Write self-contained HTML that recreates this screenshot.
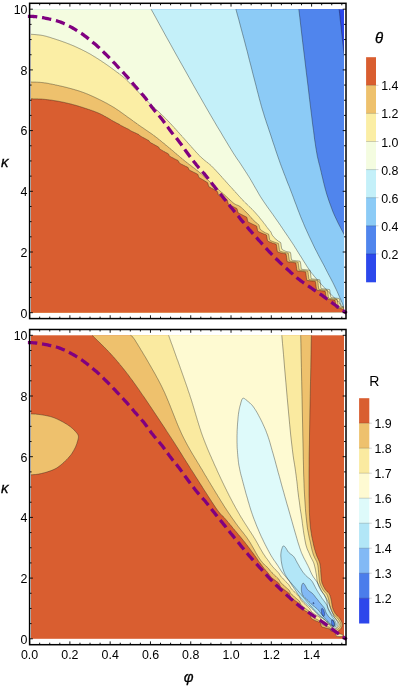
<!DOCTYPE html>
<html><head><meta charset="utf-8"><title>Contour plots</title>
<style>
html,body{margin:0;padding:0;background:#fff;}
body{width:409px;height:686px;overflow:hidden;font-family:"Liberation Sans",sans-serif;}
svg{display:block}
.t{font-family:"Liberation Sans",sans-serif;font-size:12.4px;fill:#000}
.g{font-family:"Liberation Sans",sans-serif;font-size:15px;font-style:italic;fill:#000;stroke:#000;stroke-width:0.3px}
.r{font-family:"Liberation Sans",sans-serif;font-size:14px;fill:#000}
</style></head><body>
<svg width="409" height="686" viewBox="0 0 409 686">
<rect width="409" height="686" fill="#fff"/>
<defs><clipPath id="ct"><rect x="31" y="0" width="313.1" height="686"/></clipPath></defs>
<g clip-path="url(#ct)"><rect x="29.6" y="9.2" width="316.4" height="303.5" fill="#2C48EC"/>
<path d="M29.6,9.2 L339.1,9.2 L339.3,11.0 L339.6,13.4 L339.9,16.3 L340.2,19.5 L340.6,22.8 L341.0,26.1 L341.3,29.2 L341.6,32.0 L341.9,34.5 L342.2,37.0 L342.4,39.5 L342.7,41.8 L342.9,44.0 L343.2,46.2 L343.4,48.2 L343.6,50.0 L343.8,51.7 L344.0,53.3 L344.2,54.8 L344.3,56.1 L344.5,57.3 L344.6,58.4 L344.7,59.3 L344.8,60.0 L346.0,312.7 L29.6,312.7Z" fill="#5085ED"/>
<path d="M29.6,9.2 L298.8,9.2 L299.8,17.4 L301.1,28.7 L302.7,42.3 L304.5,57.1 L306.3,72.2 L308.1,86.7 L309.6,99.6 L310.9,110.0 L311.9,118.1 L312.7,124.8 L313.5,130.4 L314.1,135.2 L314.6,139.4 L315.2,143.1 L315.7,146.7 L316.3,150.3 L316.9,153.7 L317.4,156.6 L318.0,159.1 L318.5,161.3 L319.0,163.4 L319.6,165.4 L320.1,167.6 L320.7,170.0 L321.3,172.6 L321.9,175.3 L322.6,178.1 L323.2,180.8 L323.9,183.6 L324.6,186.4 L325.3,189.1 L326.1,191.9 L326.9,194.7 L327.8,197.4 L328.7,200.2 L329.7,203.0 L330.7,205.7 L331.7,208.5 L332.7,211.2 L333.8,213.8 L335.0,216.5 L336.3,219.2 L337.6,222.0 L339.0,224.8 L340.4,227.4 L341.6,229.7 L342.7,231.8 L343.6,233.5 L344.3,234.8 L344.8,235.7 L345.1,236.3 L345.4,236.7 L345.6,237.0 L345.7,237.1 L345.9,237.3 L346.0,237.5 L346.0,312.7 L29.6,312.7Z" fill="#8CCBF6"/>
<path d="M29.6,9.2 L235.9,9.2 L236.6,11.8 L237.5,15.2 L238.7,19.3 L239.9,23.9 L241.2,28.8 L242.5,33.7 L243.8,38.5 L245.0,43.0 L246.1,47.3 L247.3,51.7 L248.4,56.2 L249.5,60.6 L250.7,65.0 L251.8,69.4 L252.9,73.8 L254.0,78.0 L255.1,82.2 L256.2,86.4 L257.2,90.5 L258.3,94.6 L259.3,98.6 L260.4,102.5 L261.4,106.3 L262.5,110.0 L263.6,113.5 L264.6,116.9 L265.7,120.1 L266.7,123.3 L267.8,126.4 L268.8,129.5 L269.9,132.7 L271.0,136.0 L272.1,139.4 L273.2,142.8 L274.4,146.2 L275.5,149.7 L276.7,153.2 L277.9,156.7 L279.1,160.1 L280.3,163.5 L281.5,166.8 L282.8,170.1 L284.0,173.4 L285.3,176.6 L286.5,179.9 L287.8,183.2 L289.2,186.5 L290.5,190.0 L291.9,193.6 L293.3,197.3 L294.7,201.2 L296.2,205.0 L297.6,208.9 L299.1,212.7 L300.5,216.4 L302.0,220.0 L303.5,223.5 L304.9,226.9 L306.4,230.2 L307.9,233.5 L309.4,236.8 L310.9,239.9 L312.4,243.0 L313.8,246.0 L315.2,248.9 L316.7,251.7 L318.1,254.5 L319.5,257.2 L320.9,259.8 L322.3,262.4 L323.7,264.9 L325.0,267.5 L326.3,270.1 L327.6,272.6 L328.9,275.1 L330.2,277.5 L331.5,280.0 L332.7,282.3 L333.9,284.7 L335.0,287.0 L336.1,289.3 L337.2,291.6 L338.2,293.9 L339.2,296.2 L340.2,298.4 L341.1,300.4 L341.9,302.3 L342.6,304.0 L343.2,305.5 L343.7,306.9 L344.2,308.1 L344.6,309.2 L344.9,310.2 L345.2,311.0 L345.4,311.7 L345.6,312.3 L29.6,312.7Z" fill="#C4F0F9"/>
<path d="M29.6,9.2 L151.1,9.2 L153.2,12.9 L155.9,17.8 L159.1,23.7 L162.7,30.2 L166.5,37.2 L170.5,44.3 L174.3,51.2 L178.0,57.8 L181.6,64.2 L185.4,70.9 L189.2,77.7 L193.0,84.5 L196.8,91.2 L200.6,97.8 L204.2,104.1 L207.6,110.0 L210.9,115.7 L214.2,121.3 L217.4,126.8 L220.6,132.0 L223.5,137.0 L226.3,141.6 L228.8,145.8 L231.1,149.5 L233.0,152.6 L234.6,155.1 L236.0,157.2 L237.1,158.9 L238.2,160.4 L239.2,161.8 L240.2,163.3 L241.3,165.0 L242.4,166.7 L243.5,168.4 L244.5,169.9 L245.5,171.5 L246.6,173.1 L247.6,174.8 L248.8,176.6 L250.0,178.6 L251.3,180.8 L252.7,183.2 L254.1,185.7 L255.6,188.3 L257.2,191.0 L258.7,193.7 L260.3,196.4 L262.0,199.0 L263.7,201.6 L265.5,204.2 L267.3,206.8 L269.2,209.4 L271.1,212.1 L273.0,214.7 L274.8,217.3 L276.7,220.0 L278.6,222.7 L280.5,225.5 L282.4,228.3 L284.3,231.2 L286.2,233.9 L288.0,236.6 L289.7,239.1 L291.3,241.5 L292.7,243.6 L294.0,245.6 L295.1,247.4 L296.2,249.1 L297.2,250.8 L298.3,252.5 L299.3,254.2 L300.5,256.0 L301.7,257.9 L302.9,259.9 L304.1,261.8 L305.4,263.8 L306.6,265.8 L307.9,267.8 L309.2,269.7 L310.5,271.5 L311.8,273.3 L313.2,274.9 L314.5,276.6 L315.9,278.2 L317.3,279.8 L318.7,281.4 L320.1,282.9 L321.5,284.5 L322.9,286.1 L324.4,287.7 L325.9,289.2 L327.4,290.8 L328.9,292.3 L330.3,293.8 L331.7,295.2 L333.0,296.5 L334.2,297.7 L335.4,298.9 L336.5,300.0 L337.6,301.0 L338.6,302.1 L339.6,303.0 L340.5,304.0 L341.3,305.0 L342.1,306.0 L342.8,307.1 L343.4,308.1 L344.0,309.2 L344.5,310.1 L344.9,311.0 L345.3,311.7 L345.6,312.3 L29.6,312.7Z" fill="#F4FCE0"/>
<path d="M29.6,34.2 L30.2,34.2 L30.8,34.3 L31.4,34.3 L32.0,34.4 L32.6,34.4 L33.2,34.4 L33.8,34.5 L34.4,34.5 L35.0,34.6 L35.6,34.6 L36.2,34.7 L36.8,34.7 L37.4,34.8 L38.0,34.8 L38.6,34.9 L39.2,35.0 L39.8,35.0 L40.4,35.1 L41.0,35.2 L41.6,35.3 L42.2,35.4 L42.8,35.5 L43.3,35.6 L43.9,35.8 L44.5,35.9 L45.1,36.0 L45.7,36.2 L46.3,36.3 L46.8,36.5 L47.4,36.7 L48.0,36.8 L48.6,37.0 L49.2,37.2 L49.7,37.3 L50.3,37.5 L50.9,37.7 L51.5,37.9 L52.0,38.1 L52.6,38.3 L53.2,38.4 L53.7,38.6 L54.3,38.8 L54.9,39.0 L55.5,39.2 L56.0,39.4 L56.6,39.6 L57.2,39.8 L57.7,39.9 L58.3,40.1 L58.9,40.3 L59.5,40.5 L60.0,40.7 L60.6,40.9 L61.2,41.1 L61.7,41.3 L62.3,41.5 L62.9,41.7 L63.4,41.9 L64.0,42.1 L64.6,42.3 L65.1,42.5 L65.7,42.7 L66.3,42.9 L66.8,43.2 L67.4,43.4 L67.9,43.6 L68.5,43.8 L69.1,44.0 L69.6,44.2 L70.2,44.5 L70.7,44.7 L71.3,44.9 L71.9,45.1 L72.4,45.4 L73.0,45.6 L73.5,45.8 L74.1,46.1 L74.6,46.3 L75.2,46.6 L75.7,46.8 L76.3,47.1 L76.8,47.3 L77.4,47.6 L77.9,47.8 L78.4,48.1 L79.0,48.3 L79.5,48.6 L80.1,48.8 L80.6,49.1 L81.2,49.4 L81.7,49.6 L82.2,49.9 L82.8,50.2 L83.3,50.4 L83.8,50.7 L84.4,51.0 L84.9,51.3 L85.5,51.5 L86.0,51.8 L86.5,52.1 L87.1,52.4 L87.6,52.7 L88.1,53.0 L88.6,53.2 L89.2,53.5 L89.7,53.8 L90.2,54.1 L90.7,54.4 L91.2,54.7 L91.8,55.0 L92.3,55.4 L92.8,55.7 L93.3,56.0 L93.8,56.3 L94.3,56.6 L94.8,56.9 L95.4,57.2 L95.9,57.5 L96.4,57.9 L96.9,58.2 L97.4,58.5 L97.9,58.8 L98.4,59.1 L98.9,59.5 L99.4,59.8 L99.9,60.1 L100.4,60.4 L100.9,60.8 L101.4,61.1 L101.9,61.4 L102.4,61.8 L102.9,62.1 L103.4,62.4 L103.9,62.8 L104.4,63.1 L104.9,63.5 L105.4,63.8 L105.9,64.1 L106.4,64.5 L106.9,64.8 L107.4,65.2 L107.9,65.5 L108.4,65.9 L108.9,66.2 L109.4,66.6 L109.9,66.9 L110.3,67.3 L110.8,67.6 L111.3,68.0 L111.8,68.3 L112.3,68.7 L112.8,69.0 L113.3,69.4 L113.7,69.8 L114.2,70.1 L114.7,70.5 L115.2,70.8 L115.7,71.2 L116.2,71.6 L116.6,71.9 L117.1,72.3 L117.6,72.6 L118.1,73.0 L118.6,73.3 L119.1,73.7 L119.5,74.1 L120.0,74.4 L120.5,74.8 L121.0,75.2 L121.4,75.5 L121.9,75.9 L122.4,76.3 L122.9,76.7 L123.3,77.0 L123.8,77.4 L124.2,77.8 L124.7,78.2 L125.1,78.6 L125.6,79.0 L126.0,79.4 L126.5,79.8 L126.9,80.3 L127.3,80.7 L127.8,81.1 L128.2,81.5 L128.6,81.9 L129.0,82.4 L129.5,82.8 L129.9,83.2 L130.3,83.6 L130.7,84.1 L131.1,84.5 L131.6,84.9 L132.0,85.4 L132.4,85.8 L132.8,86.2 L133.2,86.7 L133.7,87.1 L134.1,87.5 L134.5,88.0 L134.9,88.4 L135.3,88.8 L135.8,89.3 L136.2,89.7 L136.6,90.1 L137.0,90.5 L137.4,91.0 L137.9,91.4 L138.3,91.8 L138.7,92.3 L139.1,92.7 L139.5,93.1 L140.0,93.6 L140.4,94.0 L140.8,94.4 L141.2,94.9 L141.6,95.3 L142.0,95.7 L142.5,96.2 L142.9,96.6 L143.3,97.0 L143.7,97.4 L144.2,97.9 L144.6,98.3 L145.0,98.7 L145.4,99.1 L145.9,99.6 L146.3,100.0 L146.7,100.4 L147.1,100.8 L147.6,101.3 L148.0,101.7 L148.4,102.1 L148.9,102.5 L149.3,102.9 L149.7,103.3 L150.2,103.8 L150.6,104.2 L151.0,104.6 L151.5,105.0 L151.9,105.4 L152.3,105.8 L152.8,106.2 L153.2,106.7 L153.7,107.1 L154.1,107.5 L154.5,107.9 L155.0,108.3 L155.4,108.7 L155.9,109.1 L156.3,109.5 L156.7,109.9 L157.2,110.4 L157.6,110.8 L158.0,111.2 L158.5,111.6 L158.9,112.0 L159.4,112.4 L159.8,112.8 L160.2,113.3 L160.7,113.7 L161.1,114.1 L161.5,114.5 L162.0,114.9 L162.4,115.3 L162.8,115.8 L163.3,116.2 L163.7,116.6 L164.1,117.0 L164.5,117.4 L165.0,117.9 L165.4,118.3 L165.8,118.7 L166.2,119.1 L166.7,119.6 L167.1,120.0 L167.5,120.4 L167.9,120.9 L168.3,121.3 L168.8,121.7 L169.2,122.2 L169.6,122.6 L170.0,123.0 L170.4,123.5 L170.8,123.9 L171.2,124.4 L171.7,124.8 L172.1,125.2 L172.5,125.7 L172.9,126.1 L173.3,126.6 L173.7,127.0 L174.1,127.5 L174.5,127.9 L174.9,128.3 L175.3,128.8 L175.7,129.2 L176.1,129.7 L176.5,130.1 L176.9,130.6 L177.3,131.0 L177.7,131.5 L178.1,131.9 L178.5,132.4 L178.9,132.8 L179.3,133.3 L179.7,133.7 L180.1,134.2 L180.5,134.6 L180.9,135.1 L181.3,135.5 L181.7,136.0 L182.1,136.4 L182.5,136.9 L182.9,137.3 L183.3,137.8 L183.7,138.2 L184.1,138.6 L184.5,139.1 L184.9,139.5 L185.3,140.0 L185.7,140.4 L186.1,140.9 L186.5,141.3 L186.9,141.8 L187.3,142.2 L187.7,142.7 L188.1,143.1 L188.5,143.6 L188.9,144.0 L189.3,144.5 L189.7,144.9 L190.1,145.4 L190.5,145.8 L190.9,146.3 L191.3,146.7 L191.7,147.2 L192.1,147.6 L192.5,148.1 L192.9,148.5 L193.3,149.0 L193.7,149.4 L194.1,149.9 L194.5,150.3 L194.9,150.8 L195.3,151.2 L195.7,151.7 L196.1,152.1 L196.5,152.6 L196.9,153.0 L197.4,153.4 L197.8,153.9 L198.2,154.3 L198.6,154.8 L199.0,155.2 L199.4,155.6 L199.9,156.0 L200.3,156.5 L200.7,156.9 L201.1,157.3 L201.6,157.7 L202.0,158.1 L202.5,158.5 L202.9,158.9 L203.4,159.3 L203.8,159.7 L204.3,160.1 L204.8,160.5 L205.2,160.8 L205.7,161.2 L206.2,161.6 L206.7,161.9 L207.1,162.3 L207.6,162.7 L208.1,163.1 L208.6,163.4 L209.0,163.8 L209.5,164.2 L209.9,164.6 L210.4,165.0 L210.8,165.4 L211.3,165.8 L211.7,166.2 L212.1,166.6 L212.6,167.1 L213.0,167.5 L213.4,167.9 L213.8,168.4 L214.3,168.8 L214.7,169.2 L215.1,169.7 L215.5,170.1 L215.9,170.5 L216.3,171.0 L216.7,171.4 L217.1,171.9 L217.5,172.3 L217.9,172.7 L218.3,173.2 L218.7,173.6 L219.1,174.1 L219.6,174.5 L220.0,175.0 L220.4,175.4 L220.8,175.9 L221.2,176.3 L221.6,176.8 L222.0,177.2 L222.4,177.7 L222.8,178.1 L223.2,178.6 L223.6,179.0 L224.0,179.5 L224.4,179.9 L224.8,180.4 L225.2,180.8 L225.6,181.2 L226.0,181.7 L226.4,182.1 L226.8,182.6 L227.2,183.0 L227.6,183.5 L228.0,183.9 L228.4,184.4 L228.8,184.8 L229.2,185.2 L229.6,185.7 L230.0,186.1 L230.4,186.6 L230.8,187.0 L231.2,187.5 L231.6,187.9 L232.0,188.4 L232.5,188.8 L232.9,189.3 L233.3,189.7 L233.7,190.2 L234.1,190.6 L234.5,191.0 L234.9,191.5 L235.3,191.9 L235.7,192.4 L236.1,192.8 L236.5,193.3 L236.9,193.7 L237.3,194.2 L237.7,194.6 L238.1,195.1 L238.5,195.5 L238.9,195.9 L239.3,196.4 L239.7,196.8 L240.1,197.3 L240.5,197.7 L241.0,198.2 L241.4,198.6 L241.8,199.0 L242.2,199.5 L242.6,199.9 L243.0,200.4 L243.4,200.8 L243.8,201.2 L244.3,201.7 L244.7,202.1 L245.1,202.5 L245.5,202.9 L246.0,203.4 L246.4,203.8 L246.8,204.2 L247.3,204.6 L247.7,205.0 L248.1,205.4 L248.6,205.9 L249.0,206.3 L249.4,206.7 L249.9,207.1 L250.3,207.5 L250.7,207.9 L251.2,208.4 L251.6,208.8 L252.0,209.2 L252.4,209.6 L252.9,210.1 L253.3,210.5 L253.7,210.9 L254.1,211.4 L254.5,211.8 L254.9,212.2 L255.3,212.7 L255.7,213.1 L256.1,213.6 L256.5,214.1 L256.9,214.5 L257.3,215.0 L257.7,215.4 L258.1,215.9 L258.5,216.3 L258.9,216.8 L259.2,217.3 L259.6,217.7 L260.0,218.2 L260.4,218.7 L260.8,219.1 L261.1,219.6 L261.5,220.1 L261.9,220.5 L262.2,220.9 L262.5,221.3 L262.8,221.6 L263.0,221.9 L263.2,222.2 L263.5,222.6 L263.8,222.9 L264.0,223.2 L264.2,223.5 L264.5,223.9 L264.8,224.2 L265.0,224.5 L265.2,224.9 L265.5,225.2 L265.8,225.5 L266.0,225.9 L266.2,226.2 L266.5,226.6 L266.8,226.9 L267.0,227.2 L267.2,227.6 L267.5,227.9 L267.8,228.2 L268.0,228.6 L268.2,228.9 L268.5,229.2 L268.8,229.5 L269.0,229.8 L269.2,230.1 L269.5,230.4 L269.8,230.6 L270.0,230.9 L270.2,231.2 L270.5,231.5 L270.8,231.7 L271.0,232.2 L271.2,232.8 L271.5,233.5 L271.8,234.2 L272.0,234.8 L272.2,235.1 L272.5,235.5 L272.8,235.8 L273.0,236.1 L273.2,236.4 L273.5,236.6 L273.8,236.9 L274.0,237.2 L274.2,237.5 L274.5,237.8 L274.8,238.0 L275.0,238.3 L275.2,238.5 L275.5,238.8 L275.8,239.0 L276.0,239.3 L276.2,239.5 L276.5,239.7 L276.8,239.9 L277.0,240.1 L277.2,240.3 L277.5,240.5 L277.8,240.7 L278.0,240.9 L278.2,241.1 L278.5,241.3 L278.8,241.4 L279.0,241.6 L279.2,241.7 L279.5,241.9 L279.8,242.0 L280.0,242.1 L280.2,242.3 L280.5,242.4 L280.8,243.1 L281.0,244.4 L281.2,246.0 L281.5,247.6 L281.8,248.8 L282.0,249.3 L282.2,249.5 L282.5,249.7 L282.8,249.8 L283.0,250.0 L283.2,250.1 L283.5,250.3 L283.8,250.4 L284.0,250.6 L284.2,250.7 L284.5,250.8 L284.8,250.9 L285.0,251.0 L285.2,251.1 L285.5,251.2 L285.8,251.3 L286.0,251.4 L286.2,251.5 L286.5,251.5 L286.8,251.6 L287.0,251.7 L287.2,251.7 L287.5,251.8 L287.8,251.8 L288.0,251.9 L288.2,251.9 L288.5,251.9 L288.8,252.0 L289.0,252.0 L289.2,252.1 L289.5,252.1 L289.8,252.1 L290.0,252.2 L290.2,252.2 L290.5,252.8 L290.8,254.2 L291.0,256.1 L291.2,258.0 L291.5,259.5 L291.8,260.1 L292.0,260.1 L292.2,260.2 L292.5,260.2 L292.8,260.3 L293.0,260.3 L293.2,260.4 L293.5,260.4 L293.8,260.5 L294.0,260.5 L294.2,260.5 L294.5,260.6 L294.8,260.6 L295.0,260.6 L295.2,260.6 L295.5,260.7 L295.8,260.7 L296.0,260.7 L296.2,260.8 L296.5,260.8 L296.8,260.8 L297.0,260.9 L297.2,260.9 L297.5,260.9 L297.8,260.9 L298.0,261.0 L298.2,261.0 L298.5,261.0 L298.8,261.1 L299.0,261.1 L299.2,261.1 L299.5,261.2 L299.8,261.2 L300.0,261.2 L300.2,261.6 L300.5,263.0 L300.8,264.8 L301.0,266.8 L301.2,268.4 L301.5,269.2 L301.8,269.3 L302.0,269.3 L302.2,269.3 L302.5,269.4 L302.8,269.4 L303.0,269.4 L303.2,269.4 L303.5,269.5 L303.8,269.5 L304.0,269.5 L304.2,269.6 L304.5,269.6 L304.8,269.6 L305.0,269.7 L305.2,269.7 L305.5,269.7 L305.8,269.7 L306.0,269.8 L306.2,269.8 L306.5,269.8 L306.8,269.9 L307.0,269.9 L307.2,269.9 L307.5,270.0 L307.8,270.0 L308.0,270.0 L308.2,270.0 L308.5,270.1 L308.8,270.1 L309.0,270.1 L309.2,270.2 L309.5,270.2 L309.8,270.2 L310.0,270.5 L310.2,271.8 L310.5,273.7 L310.8,275.8 L311.0,277.6 L311.2,278.7 L311.5,278.8 L311.8,278.8 L312.0,278.9 L312.2,278.9 L312.5,278.9 L312.8,279.0 L313.0,279.0 L313.2,279.0 L313.5,279.0 L313.8,279.1 L314.0,279.1 L314.2,279.1 L314.5,279.2 L314.8,279.2 L315.0,279.2 L315.2,279.3 L315.5,279.3 L315.8,279.3 L316.0,279.3 L316.2,279.4 L316.5,279.4 L316.8,279.4 L317.0,279.5 L317.2,279.5 L317.5,279.5 L317.8,279.6 L318.0,279.6 L318.2,279.6 L318.5,279.6 L318.8,279.7 L319.0,279.7 L319.2,279.7 L319.5,279.8 L319.8,279.9 L320.0,281.0 L320.2,282.9 L320.5,285.0 L320.8,287.0 L321.0,288.3 L321.2,288.6 L321.5,288.6 L321.8,288.6 L322.0,288.6 L322.2,288.7 L322.5,288.7 L322.8,288.7 L323.0,288.8 L323.2,288.8 L323.5,288.8 L323.8,288.9 L324.0,288.9 L324.2,288.9 L324.5,288.9 L324.8,289.0 L325.0,289.0 L325.2,289.0 L325.5,289.1 L325.8,289.1 L326.0,289.1 L326.2,289.2 L326.5,289.2 L326.8,289.2 L327.0,289.2 L327.2,289.3 L327.5,289.3 L327.8,289.3 L328.0,289.4 L328.2,289.4 L328.5,289.4 L328.8,289.5 L329.0,289.5 L329.2,289.5 L329.5,289.6 L329.8,290.4 L330.0,292.0 L330.2,293.9 L330.5,295.8 L330.8,297.1 L331.0,297.5 L331.2,297.6 L331.5,297.6 L331.8,297.6 L332.0,297.6 L332.2,297.7 L332.5,297.7 L332.8,297.7 L333.0,297.8 L333.2,297.8 L333.5,297.8 L333.8,297.9 L334.0,297.9 L334.2,297.9 L334.5,297.9 L334.8,298.0 L335.0,298.0 L335.2,298.0 L335.5,298.1 L335.8,298.1 L336.0,298.1 L336.2,298.2 L336.5,298.2 L336.8,298.2 L337.0,298.2 L337.2,298.3 L337.5,298.3 L337.8,298.3 L338.0,298.4 L338.2,298.4 L338.5,298.4 L338.8,298.5 L339.0,298.5 L339.2,298.5 L339.5,299.1 L339.8,300.6 L340.0,302.5 L340.2,304.4 L340.5,305.8 L340.8,306.5 L341.0,306.5 L341.2,306.5 L341.5,306.5 L341.8,306.6 L342.0,306.6 L342.2,306.6 L342.5,306.7 L342.8,306.7 L343.0,306.7 L343.2,306.8 L343.5,306.8 L343.8,306.8 L344.0,306.8 L344.2,306.9 L344.5,306.9 L344.8,306.9 L345.6,312.3 L29.6,312.7Z" fill="#FBEEA5"/>
<path d="M29.6,82.0 L30.2,82.0 L30.8,82.0 L31.4,82.0 L32.0,82.1 L32.6,82.1 L33.2,82.1 L33.8,82.1 L34.4,82.1 L35.0,82.1 L35.6,82.1 L36.2,82.2 L36.8,82.2 L37.4,82.2 L38.0,82.2 L38.6,82.3 L39.2,82.3 L39.8,82.3 L40.4,82.4 L41.0,82.4 L41.6,82.5 L42.2,82.6 L42.8,82.6 L43.4,82.7 L44.0,82.8 L44.6,82.9 L45.2,82.9 L45.8,83.0 L46.4,83.1 L47.0,83.2 L47.6,83.3 L48.2,83.4 L48.8,83.5 L49.3,83.7 L49.9,83.8 L50.5,83.9 L51.1,84.0 L51.7,84.1 L52.3,84.2 L52.9,84.4 L53.5,84.5 L54.1,84.6 L54.7,84.7 L55.2,84.9 L55.8,85.0 L56.4,85.1 L57.0,85.2 L57.6,85.4 L58.2,85.5 L58.8,85.6 L59.4,85.8 L59.9,85.9 L60.5,86.0 L61.1,86.1 L61.7,86.3 L62.3,86.4 L62.9,86.6 L63.5,86.7 L64.0,86.8 L64.6,87.0 L65.2,87.1 L65.8,87.3 L66.4,87.4 L67.0,87.6 L67.5,87.7 L68.1,87.9 L68.7,88.0 L69.3,88.2 L69.9,88.3 L70.5,88.5 L71.0,88.6 L71.6,88.8 L72.2,89.0 L72.8,89.1 L73.4,89.3 L73.9,89.4 L74.5,89.6 L75.1,89.8 L75.7,90.0 L76.2,90.1 L76.8,90.3 L77.4,90.5 L78.0,90.6 L78.5,90.8 L79.1,91.0 L79.7,91.2 L80.3,91.4 L80.8,91.6 L81.4,91.8 L82.0,92.0 L82.5,92.2 L83.1,92.4 L83.7,92.6 L84.2,92.8 L84.8,93.0 L85.3,93.2 L85.9,93.5 L86.5,93.7 L87.0,93.9 L87.6,94.1 L88.1,94.4 L88.7,94.6 L89.2,94.8 L89.8,95.1 L90.3,95.3 L90.9,95.6 L91.4,95.8 L92.0,96.0 L92.5,96.3 L93.1,96.5 L93.6,96.8 L94.2,97.0 L94.7,97.3 L95.3,97.6 L95.8,97.8 L96.4,98.1 L96.9,98.3 L97.4,98.6 L98.0,98.9 L98.5,99.1 L99.1,99.4 L99.6,99.7 L100.1,99.9 L100.7,100.2 L101.2,100.5 L101.8,100.7 L102.3,101.0 L102.8,101.3 L103.4,101.6 L103.9,101.8 L104.4,102.1 L105.0,102.4 L105.5,102.7 L106.0,102.9 L106.6,103.2 L107.1,103.5 L107.6,103.8 L108.1,104.1 L108.7,104.4 L109.2,104.7 L109.7,105.0 L110.2,105.3 L110.8,105.6 L111.3,105.9 L111.8,106.2 L112.3,106.5 L112.8,106.8 L113.3,107.1 L113.9,107.4 L114.4,107.7 L114.9,108.1 L115.4,108.4 L115.9,108.7 L116.4,109.1 L116.9,109.4 L117.4,109.7 L117.9,110.1 L118.4,110.4 L118.9,110.7 L119.4,111.1 L119.9,111.4 L120.4,111.8 L120.8,112.1 L121.3,112.5 L121.8,112.8 L122.3,113.2 L122.8,113.5 L123.3,113.9 L123.8,114.2 L124.3,114.6 L124.8,114.9 L125.2,115.3 L125.7,115.6 L126.2,116.0 L126.7,116.3 L127.2,116.7 L127.7,117.1 L128.2,117.4 L128.7,117.8 L129.1,118.1 L129.6,118.4 L130.1,118.8 L130.6,119.1 L131.1,119.5 L131.6,119.8 L132.1,120.2 L132.6,120.6 L133.1,120.9 L133.5,121.3 L134.0,121.6 L134.5,122.0 L135.0,122.3 L135.5,122.7 L136.0,123.0 L136.5,123.4 L137.0,123.7 L137.4,124.1 L137.9,124.4 L138.4,124.8 L138.9,125.1 L139.4,125.5 L139.9,125.8 L140.4,126.2 L140.9,126.5 L141.4,126.9 L141.9,127.2 L142.4,127.5 L142.9,127.9 L143.4,128.2 L143.9,128.5 L144.4,128.9 L144.9,129.2 L145.4,129.6 L145.9,129.9 L146.3,130.2 L146.8,130.6 L147.3,130.9 L147.8,131.2 L148.3,131.6 L148.8,131.9 L149.3,132.3 L149.8,132.6 L150.3,132.9 L150.8,133.3 L151.3,133.6 L151.8,134.0 L152.3,134.3 L152.8,134.7 L153.3,135.0 L153.7,135.4 L154.2,135.8 L154.7,136.1 L155.2,136.5 L155.7,136.8 L156.2,137.2 L156.6,137.6 L157.1,137.9 L157.6,138.3 L158.0,138.7 L158.5,139.1 L159.0,139.4 L159.5,139.8 L159.9,140.2 L160.4,140.6 L160.9,140.9 L161.3,141.3 L161.8,141.7 L162.3,142.1 L162.7,142.5 L163.2,142.8 L163.7,143.2 L164.1,143.6 L164.6,144.0 L165.0,144.4 L165.5,144.8 L166.0,145.1 L166.4,145.5 L166.9,145.9 L167.4,146.3 L167.8,146.7 L168.3,147.1 L168.8,147.4 L169.2,147.8 L169.7,148.2 L170.1,148.6 L170.6,149.0 L171.1,149.4 L171.5,149.8 L172.0,150.1 L172.4,150.5 L172.9,150.9 L173.4,151.3 L173.8,151.7 L174.3,152.1 L174.7,152.5 L175.2,152.9 L175.6,153.3 L176.1,153.7 L176.6,154.1 L177.0,154.4 L177.5,154.8 L177.9,155.2 L178.4,155.6 L178.8,156.0 L179.3,156.4 L179.8,156.8 L180.2,157.2 L180.7,157.6 L181.1,157.9 L181.6,158.3 L182.1,158.7 L182.5,159.1 L183.0,159.5 L183.5,159.9 L183.9,160.2 L184.4,160.6 L184.9,161.0 L185.3,161.4 L185.8,161.7 L186.3,162.1 L186.8,162.5 L187.2,162.9 L187.7,163.2 L188.2,163.6 L188.7,164.0 L189.1,164.3 L189.6,164.7 L190.1,165.0 L190.6,165.4 L191.1,165.8 L191.5,166.1 L192.0,166.5 L192.5,166.9 L193.0,167.2 L193.4,167.6 L193.9,168.0 L194.4,168.3 L194.9,168.7 L195.4,169.1 L195.8,169.4 L196.3,169.8 L196.8,170.2 L197.2,170.6 L197.7,170.9 L198.2,171.3 L198.7,171.7 L199.1,172.1 L199.6,172.5 L200.0,172.8 L200.5,173.2 L201.0,173.6 L201.4,174.0 L201.9,174.4 L202.3,174.8 L202.8,175.2 L203.2,175.6 L203.7,176.0 L204.1,176.4 L204.5,176.8 L205.0,177.2 L205.4,177.6 L205.9,178.1 L206.3,178.5 L206.7,178.9 L207.2,179.3 L207.6,179.7 L208.1,180.1 L208.5,180.5 L208.9,180.9 L209.4,181.4 L209.8,181.8 L210.2,182.2 L210.7,182.6 L211.1,183.0 L211.6,183.4 L212.0,183.8 L212.4,184.2 L212.9,184.6 L213.3,185.0 L213.8,185.4 L214.2,185.8 L214.7,186.3 L215.1,186.7 L215.6,187.0 L216.0,187.4 L216.5,187.8 L216.9,188.2 L217.4,188.6 L217.8,189.0 L218.3,189.4 L218.7,189.8 L219.2,190.2 L219.6,190.6 L220.1,191.0 L220.5,191.4 L221.0,191.8 L221.5,192.2 L221.9,192.6 L222.4,193.0 L222.8,193.4 L223.3,193.8 L223.7,194.2 L224.2,194.6 L224.6,195.0 L225.1,195.4 L225.5,195.8 L226.0,196.2 L226.4,196.6 L226.8,197.0 L227.3,197.4 L227.7,197.8 L228.2,198.2 L228.6,198.7 L229.0,199.1 L229.5,199.5 L229.9,199.9 L230.3,200.3 L230.8,200.7 L231.2,201.1 L231.7,201.5 L232.1,201.9 L232.6,202.3 L233.0,202.7 L233.5,203.1 L234.0,203.5 L234.5,203.8 L235.0,204.1 L235.5,204.4 L236.1,204.7 L236.6,204.9 L237.2,205.1 L237.8,205.3 L238.3,205.5 L238.8,205.8 L239.4,206.1 L239.9,206.4 L240.3,206.8 L240.8,207.1 L241.3,207.5 L241.7,207.9 L242.2,208.3 L242.6,208.7 L243.0,209.2 L243.5,209.6 L243.9,210.0 L244.3,210.4 L244.8,210.8 L245.0,211.1 L245.3,211.3 L245.5,211.6 L245.8,211.8 L246.0,212.1 L246.3,212.3 L246.5,212.6 L246.8,212.8 L247.0,213.1 L247.3,213.3 L247.5,213.6 L247.8,213.8 L248.0,214.1 L248.3,214.3 L248.5,214.6 L248.8,214.8 L249.0,215.1 L249.3,215.4 L249.5,215.7 L249.8,216.1 L250.0,216.4 L250.3,216.7 L250.5,217.0 L250.8,217.3 L251.0,217.6 L251.3,217.8 L251.5,218.1 L251.8,218.4 L252.0,218.6 L252.3,218.9 L252.5,219.2 L252.8,219.4 L253.0,219.7 L253.3,219.9 L253.5,220.2 L253.8,220.4 L254.0,220.7 L254.3,220.9 L254.5,221.2 L254.8,221.4 L255.0,221.7 L255.3,221.9 L255.5,222.1 L255.8,222.3 L256.1,222.6 L256.3,222.8 L256.6,223.0 L256.8,223.2 L257.1,223.4 L257.3,223.6 L257.6,223.8 L257.8,224.0 L258.1,224.2 L258.3,224.4 L258.6,224.6 L258.8,224.8 L259.1,225.5 L259.3,226.4 L259.6,227.4 L259.8,228.4 L260.1,229.0 L260.3,229.3 L260.6,229.5 L260.8,229.7 L261.1,230.0 L261.3,230.2 L261.6,230.4 L261.8,230.6 L262.1,230.8 L262.3,230.9 L262.6,231.1 L262.8,231.3 L263.1,231.5 L263.3,231.6 L263.6,231.8 L263.8,231.9 L264.1,232.1 L264.3,232.2 L264.6,232.4 L264.8,232.5 L265.1,232.6 L265.3,232.8 L265.6,232.9 L265.8,233.0 L266.1,233.1 L266.3,233.2 L266.6,233.3 L266.8,233.4 L267.1,233.5 L267.3,233.6 L267.6,233.7 L267.8,233.8 L268.1,233.9 L268.3,234.0 L268.6,234.2 L268.8,235.0 L269.1,236.3 L269.3,237.8 L269.6,239.2 L269.8,240.1 L270.1,240.4 L270.3,240.5 L270.6,240.6 L270.8,240.7 L271.1,240.8 L271.3,240.9 L271.6,241.0 L271.8,241.1 L272.1,241.2 L272.3,241.3 L272.6,241.4 L272.8,241.5 L273.1,241.6 L273.3,241.7 L273.6,241.8 L273.8,241.9 L274.1,242.0 L274.3,242.1 L274.6,242.2 L274.8,242.3 L275.1,242.4 L275.3,242.4 L275.6,242.5 L275.8,242.6 L276.1,242.7 L276.3,242.8 L276.6,242.8 L276.8,242.9 L277.1,243.0 L277.3,243.1 L277.6,243.1 L277.8,243.2 L278.1,243.3 L278.3,243.4 L278.6,244.1 L278.8,245.7 L279.1,247.5 L279.3,249.3 L279.6,250.6 L279.8,251.1 L280.1,251.1 L280.3,251.2 L280.6,251.3 L280.8,251.4 L281.1,251.5 L281.3,251.6 L281.6,251.6 L281.8,251.7 L282.1,251.8 L282.3,251.9 L282.6,251.9 L282.8,252.0 L283.1,252.1 L283.3,252.1 L283.6,252.2 L283.8,252.2 L284.1,252.3 L284.3,252.4 L284.6,252.4 L284.8,252.5 L285.1,252.5 L285.3,252.6 L285.6,252.6 L285.8,252.7 L286.1,252.7 L286.3,252.7 L286.6,252.8 L286.8,252.8 L287.1,252.9 L287.3,252.9 L287.6,252.9 L287.8,253.0 L288.1,253.0 L288.3,253.6 L288.6,255.0 L288.8,256.9 L289.1,258.8 L289.3,260.3 L289.6,260.9 L289.8,260.9 L290.1,261.0 L290.3,261.0 L290.6,261.1 L290.8,261.1 L291.1,261.2 L291.3,261.2 L291.6,261.3 L291.8,261.3 L292.1,261.3 L292.3,261.4 L292.6,261.4 L292.8,261.4 L293.1,261.4 L293.3,261.5 L293.6,261.5 L293.8,261.5 L294.1,261.6 L294.3,261.6 L294.6,261.6 L294.8,261.7 L295.1,261.7 L295.3,261.7 L295.6,261.7 L295.8,261.8 L296.1,261.8 L296.3,261.8 L296.6,261.9 L296.8,261.9 L297.1,261.9 L297.3,262.0 L297.6,262.0 L297.8,262.0 L298.1,262.4 L298.3,263.8 L298.6,265.6 L298.8,267.6 L299.1,269.2 L299.3,270.0 L299.6,270.1 L299.8,270.1 L300.1,270.1 L300.3,270.2 L300.6,270.2 L300.8,270.2 L301.1,270.2 L301.3,270.3 L301.6,270.3 L301.8,270.3 L302.1,270.4 L302.3,270.4 L302.6,270.4 L302.8,270.5 L303.1,270.5 L303.3,270.5 L303.6,270.5 L303.8,270.6 L304.1,270.6 L304.3,270.6 L304.6,270.7 L304.8,270.7 L305.1,270.7 L305.3,270.8 L305.6,270.8 L305.8,270.8 L306.1,270.8 L306.3,270.9 L306.6,270.9 L306.8,270.9 L307.1,271.0 L307.3,271.0 L307.6,271.0 L307.8,271.3 L308.1,272.6 L308.3,274.5 L308.6,276.6 L308.8,278.4 L309.1,279.5 L309.3,279.6 L309.6,279.6 L309.8,279.7 L310.1,279.7 L310.3,279.7 L310.6,279.8 L310.8,279.8 L311.1,279.8 L311.3,279.8 L311.6,279.9 L311.8,279.9 L312.1,279.9 L312.3,280.0 L312.6,280.0 L312.8,280.0 L313.1,280.1 L313.3,280.1 L313.6,280.1 L313.8,280.1 L314.1,280.2 L314.3,280.2 L314.6,280.2 L314.8,280.3 L315.1,280.3 L315.3,280.3 L315.6,280.4 L315.8,280.4 L316.1,280.4 L316.3,280.4 L316.6,280.5 L316.8,280.5 L317.1,280.5 L317.3,280.6 L317.6,280.7 L317.8,281.8 L318.1,283.7 L318.3,285.8 L318.6,287.8 L318.8,289.1 L319.1,289.4 L319.3,289.4 L319.6,289.4 L319.8,289.4 L320.1,289.5 L320.3,289.5 L320.6,289.5 L320.8,289.6 L321.1,289.6 L321.3,289.6 L321.6,289.7 L321.8,289.7 L322.1,289.7 L322.3,289.7 L322.6,289.8 L322.8,289.8 L323.1,289.8 L323.3,289.9 L323.6,289.9 L323.8,289.9 L324.1,290.0 L324.3,290.0 L324.6,290.0 L324.8,290.0 L325.1,290.1 L325.3,290.1 L325.6,290.1 L325.8,290.2 L326.1,290.2 L326.3,290.2 L326.6,290.3 L326.8,290.3 L327.1,290.3 L327.3,290.4 L327.6,291.2 L327.8,292.8 L328.1,294.7 L328.3,296.6 L328.6,297.9 L328.8,298.3 L329.1,298.4 L329.3,298.4 L329.6,298.4 L329.8,298.4 L330.1,298.5 L330.3,298.5 L330.6,298.5 L330.8,298.6 L331.1,298.6 L331.3,298.6 L331.6,298.7 L331.8,298.7 L332.1,298.7 L332.3,298.7 L332.6,298.8 L332.8,298.8 L333.1,298.8 L333.3,298.9 L333.6,298.9 L333.8,298.9 L334.1,299.0 L334.3,299.0 L334.6,299.0 L334.8,299.0 L335.1,299.1 L335.3,299.1 L335.6,299.1 L335.8,299.2 L336.1,299.2 L336.3,299.2 L336.6,299.3 L336.8,299.3 L337.1,299.3 L337.3,299.9 L337.6,301.4 L337.8,303.3 L338.1,305.2 L338.3,306.6 L338.6,307.3 L338.8,307.3 L339.1,307.3 L339.3,307.3 L339.6,307.4 L339.8,307.4 L340.1,307.4 L340.3,307.5 L340.6,307.5 L340.8,307.5 L341.1,307.6 L341.3,307.6 L341.6,307.6 L341.8,307.6 L342.1,307.7 L342.3,307.7 L342.6,307.7 L342.8,307.8 L343.1,307.8 L343.3,307.8 L343.6,307.9 L343.8,308.0 L344.1,308.1 L344.3,308.2 L344.6,308.3 L344.8,308.5 L345.6,312.3 L29.6,312.7Z" fill="#EEC16D"/>
<path d="M29.6,98.8 L29.9,98.8 L30.1,98.8 L30.4,98.8 L30.6,98.8 L30.9,98.8 L31.1,98.8 L31.4,98.8 L31.6,98.8 L31.9,98.8 L32.1,98.8 L32.4,98.8 L32.6,98.8 L32.9,98.8 L33.1,98.9 L33.4,98.9 L33.6,98.9 L33.9,98.9 L34.1,98.9 L34.4,98.9 L34.6,98.9 L34.9,98.9 L35.1,98.9 L35.4,98.9 L35.6,98.9 L35.9,98.9 L36.1,98.9 L36.4,98.9 L36.6,98.9 L36.9,98.9 L37.1,98.9 L37.4,98.9 L37.6,98.9 L37.9,98.9 L38.1,99.0 L38.4,99.0 L38.6,99.0 L38.9,99.0 L39.1,99.0 L39.4,99.0 L39.6,99.0 L39.9,99.0 L40.1,99.0 L40.4,99.0 L40.6,99.1 L40.9,99.1 L41.1,99.1 L41.4,99.1 L41.6,99.1 L41.9,99.1 L42.1,99.2 L42.4,99.2 L42.6,99.2 L42.9,99.2 L43.1,99.2 L43.4,99.3 L43.6,99.3 L43.9,99.3 L44.1,99.3 L44.4,99.3 L44.6,99.4 L44.9,99.4 L45.1,99.4 L45.4,99.4 L45.6,99.5 L45.9,99.5 L46.1,99.5 L46.4,99.6 L46.6,99.6 L46.9,99.6 L47.1,99.6 L47.4,99.7 L47.6,99.7 L47.9,99.7 L48.1,99.8 L48.4,99.8 L48.6,99.8 L48.9,99.8 L49.1,99.9 L49.4,99.9 L49.6,99.9 L49.9,100.0 L50.1,100.0 L50.4,100.0 L50.6,100.1 L50.9,100.1 L51.1,100.1 L51.4,100.2 L51.6,100.2 L51.9,100.2 L52.1,100.3 L52.4,100.3 L52.6,100.3 L52.9,100.4 L53.1,100.4 L53.4,100.5 L53.6,100.5 L53.9,100.5 L54.1,100.6 L54.4,100.6 L54.6,100.7 L54.9,100.7 L55.1,100.7 L55.4,100.8 L55.6,100.8 L55.9,100.9 L56.1,100.9 L56.4,100.9 L56.6,101.0 L56.9,101.0 L57.1,101.1 L57.4,101.1 L57.6,101.2 L57.9,101.2 L58.1,101.2 L58.4,101.3 L58.6,101.3 L58.9,101.4 L59.1,101.4 L59.4,101.5 L59.6,101.5 L59.9,101.6 L60.1,101.6 L60.4,101.7 L60.6,101.7 L60.9,101.8 L61.1,101.8 L61.4,101.9 L61.6,101.9 L61.9,102.0 L62.1,102.0 L62.4,102.1 L62.6,102.1 L62.9,102.2 L63.1,102.2 L63.4,102.3 L63.6,102.3 L63.9,102.4 L64.1,102.4 L64.3,102.5 L64.6,102.5 L64.8,102.6 L65.1,102.7 L65.3,102.7 L65.6,102.8 L65.8,102.8 L66.1,102.9 L66.3,102.9 L66.6,103.0 L66.8,103.0 L67.1,103.1 L67.3,103.2 L67.6,103.2 L67.8,103.3 L68.1,103.3 L68.3,103.4 L68.6,103.5 L68.8,103.5 L69.1,103.6 L69.3,103.6 L69.6,103.7 L69.8,103.8 L70.1,103.8 L70.3,103.9 L70.6,103.9 L70.8,104.0 L71.1,104.1 L71.3,104.1 L71.6,104.2 L71.8,104.3 L72.1,104.3 L72.3,104.4 L72.6,104.5 L72.8,104.5 L73.1,104.6 L73.3,104.7 L73.6,104.7 L73.8,104.8 L74.1,104.9 L74.3,104.9 L74.6,105.0 L74.8,105.1 L75.1,105.1 L75.3,105.2 L75.6,105.3 L75.8,105.3 L76.1,105.4 L76.3,105.5 L76.6,105.6 L76.8,105.6 L77.1,105.7 L77.3,105.8 L77.6,105.8 L77.8,105.9 L78.1,106.0 L78.3,106.1 L78.6,106.1 L78.8,106.2 L79.1,106.3 L79.3,106.4 L79.6,106.5 L79.8,106.5 L80.1,106.6 L80.3,106.7 L80.6,106.8 L80.8,106.8 L81.1,106.9 L81.3,107.0 L81.6,107.1 L81.8,107.2 L82.1,107.2 L82.3,107.3 L82.6,107.4 L82.8,107.5 L83.1,107.6 L83.3,107.7 L83.6,107.7 L83.8,107.8 L84.1,107.9 L84.3,108.0 L84.6,108.1 L84.8,108.1 L85.1,108.2 L85.3,108.3 L85.6,108.4 L85.8,108.5 L86.1,108.6 L86.3,108.6 L86.6,108.7 L86.8,108.8 L87.1,108.9 L87.3,109.0 L87.6,109.1 L87.8,109.1 L88.1,109.2 L88.3,109.3 L88.6,109.4 L88.8,109.5 L89.1,109.6 L89.3,109.6 L89.6,109.7 L89.8,109.8 L90.1,109.9 L90.3,110.0 L90.6,110.1 L90.8,110.2 L91.1,110.2 L91.3,110.3 L91.6,110.4 L91.8,110.5 L92.1,110.6 L92.3,110.7 L92.6,110.8 L92.8,110.9 L93.1,110.9 L93.3,111.0 L93.6,111.1 L93.8,111.2 L94.1,111.3 L94.3,111.4 L94.6,111.5 L94.8,111.6 L95.1,111.7 L95.3,111.8 L95.6,111.9 L95.8,112.0 L96.1,112.1 L96.3,112.2 L96.6,112.3 L96.8,112.4 L97.1,112.5 L97.3,112.6 L97.6,112.7 L97.8,112.8 L98.1,112.9 L98.3,113.0 L98.6,113.1 L98.8,113.2 L99.1,113.3 L99.3,113.4 L99.6,113.6 L99.8,113.7 L100.1,113.8 L100.3,113.9 L100.6,114.0 L100.8,114.2 L101.1,114.3 L101.3,114.4 L101.6,114.5 L101.8,114.7 L102.1,114.8 L102.3,114.9 L102.6,115.0 L102.8,115.2 L103.1,115.3 L103.3,115.4 L103.6,115.6 L103.8,115.7 L104.1,115.9 L104.3,116.0 L104.6,116.1 L104.8,116.3 L105.1,116.4 L105.3,116.5 L105.6,116.7 L105.8,116.8 L106.1,117.0 L106.3,117.1 L106.6,117.2 L106.8,117.4 L107.1,117.5 L107.3,117.7 L107.6,117.8 L107.8,117.9 L108.1,118.1 L108.3,118.2 L108.6,118.4 L108.8,118.5 L109.1,118.7 L109.3,118.8 L109.6,118.9 L109.8,119.1 L110.1,119.3 L110.3,119.5 L110.6,119.6 L110.8,119.8 L111.1,120.0 L111.3,120.1 L111.6,120.2 L111.8,120.4 L112.1,120.5 L112.3,120.7 L112.6,120.8 L112.8,120.9 L113.1,121.1 L113.3,121.2 L113.6,121.3 L113.8,121.5 L114.1,121.6 L114.3,121.7 L114.6,121.9 L114.8,122.0 L115.1,122.1 L115.3,122.3 L115.6,122.4 L115.8,122.5 L116.1,122.7 L116.3,122.8 L116.6,122.9 L116.8,123.1 L117.1,123.2 L117.3,123.3 L117.6,123.4 L117.8,123.6 L118.1,123.7 L118.3,123.8 L118.6,124.0 L118.8,124.1 L119.1,124.2 L119.3,124.3 L119.6,124.5 L119.8,124.7 L120.1,124.9 L120.3,125.1 L120.6,125.3 L120.8,125.4 L121.1,125.5 L121.3,125.7 L121.6,125.8 L121.8,125.9 L122.1,126.1 L122.3,126.2 L122.6,126.3 L122.8,126.4 L123.1,126.6 L123.3,126.7 L123.6,126.8 L123.8,127.0 L124.1,127.1 L124.3,127.2 L124.6,127.3 L124.8,127.5 L125.1,127.6 L125.3,127.7 L125.6,127.8 L125.8,128.0 L126.1,128.1 L126.3,128.2 L126.6,128.3 L126.8,128.5 L127.1,128.6 L127.3,128.7 L127.6,128.8 L127.8,129.0 L128.1,129.1 L128.3,129.2 L128.6,129.3 L128.8,129.4 L129.1,129.6 L129.3,129.7 L129.6,129.9 L129.8,130.2 L130.1,130.4 L130.3,130.6 L130.6,130.7 L130.8,130.8 L131.1,131.0 L131.3,131.1 L131.6,131.2 L131.8,131.3 L132.1,131.4 L132.3,131.5 L132.6,131.7 L132.8,131.8 L133.1,131.9 L133.3,132.0 L133.6,132.1 L133.8,132.2 L134.1,132.3 L134.3,132.5 L134.6,132.6 L134.8,132.7 L135.1,132.8 L135.3,132.9 L135.6,133.0 L135.8,133.1 L136.1,133.3 L136.3,133.4 L136.6,133.5 L136.8,133.6 L137.1,133.7 L137.3,133.8 L137.6,134.0 L137.8,134.1 L138.1,134.2 L138.3,134.3 L138.6,134.5 L138.8,134.6 L139.1,134.8 L139.3,135.0 L139.6,135.3 L139.8,135.6 L140.1,135.8 L140.3,136.0 L140.6,136.2 L140.8,136.3 L141.1,136.4 L141.3,136.6 L141.6,136.7 L141.8,136.8 L142.1,137.0 L142.3,137.1 L142.6,137.2 L142.8,137.4 L143.1,137.5 L143.3,137.6 L143.6,137.8 L143.8,137.9 L144.1,138.0 L144.3,138.2 L144.6,138.3 L144.8,138.4 L145.1,138.6 L145.3,138.7 L145.6,138.8 L145.8,139.0 L146.1,139.1 L146.3,139.3 L146.6,139.4 L146.8,139.5 L147.1,139.7 L147.3,139.8 L147.6,139.9 L147.8,140.1 L148.1,140.2 L148.3,140.3 L148.6,140.5 L148.8,140.6 L149.1,140.9 L149.3,141.3 L149.6,141.7 L149.8,142.1 L150.1,142.3 L150.3,142.4 L150.6,142.6 L150.8,142.7 L151.1,142.9 L151.3,143.0 L151.6,143.1 L151.8,143.3 L152.1,143.4 L152.3,143.6 L152.6,143.7 L152.8,143.8 L153.1,144.0 L153.3,144.1 L153.6,144.2 L153.8,144.4 L154.1,144.5 L154.3,144.7 L154.6,144.8 L154.8,144.9 L155.1,145.1 L155.3,145.2 L155.6,145.3 L155.8,145.5 L156.1,145.6 L156.3,145.8 L156.6,145.9 L156.8,146.0 L157.1,146.2 L157.3,146.3 L157.6,146.4 L157.8,146.6 L158.1,146.7 L158.3,146.9 L158.6,147.0 L158.8,147.4 L159.1,147.8 L159.3,148.3 L159.6,148.8 L159.8,149.1 L160.1,149.2 L160.3,149.4 L160.6,149.5 L160.8,149.7 L161.1,149.8 L161.3,150.0 L161.6,150.1 L161.8,150.2 L162.1,150.4 L162.3,150.5 L162.6,150.7 L162.8,150.8 L163.1,150.9 L163.3,151.1 L163.6,151.2 L163.8,151.4 L164.1,151.5 L164.3,151.6 L164.6,151.8 L164.8,151.9 L165.1,152.0 L165.3,152.2 L165.6,152.3 L165.8,152.5 L166.1,152.6 L166.3,152.7 L166.6,152.9 L166.8,153.0 L167.1,153.1 L167.3,153.3 L167.6,153.4 L167.8,153.5 L168.1,153.7 L168.3,153.8 L168.6,154.2 L168.8,154.6 L169.1,155.2 L169.3,155.7 L169.6,156.1 L169.8,156.3 L170.1,156.4 L170.3,156.6 L170.6,156.7 L170.8,156.8 L171.1,157.0 L171.3,157.1 L171.6,157.2 L171.8,157.4 L172.1,157.5 L172.3,157.6 L172.6,157.7 L172.8,157.9 L173.1,158.0 L173.3,158.1 L173.6,158.3 L173.8,158.4 L174.1,158.5 L174.3,158.7 L174.6,158.8 L174.8,158.9 L175.1,159.0 L175.3,159.2 L175.6,159.3 L175.8,159.4 L176.1,159.6 L176.3,159.7 L176.6,159.8 L176.8,159.9 L177.1,160.1 L177.3,160.2 L177.6,160.3 L177.8,160.4 L178.1,160.6 L178.3,160.9 L178.6,161.4 L178.8,162.0 L179.1,162.5 L179.3,163.0 L179.6,163.2 L179.8,163.3 L180.1,163.5 L180.3,163.6 L180.6,163.7 L180.8,163.8 L181.1,164.0 L181.3,164.1 L181.6,164.2 L181.8,164.4 L182.1,164.5 L182.3,164.6 L182.6,164.7 L182.8,164.9 L183.1,165.0 L183.3,165.1 L183.6,165.2 L183.8,165.4 L184.1,165.5 L184.3,165.6 L184.6,165.7 L184.8,165.9 L185.1,166.0 L185.3,166.1 L185.6,166.2 L185.8,166.4 L186.1,166.5 L186.3,166.6 L186.6,166.7 L186.8,166.8 L187.1,167.0 L187.3,167.1 L187.6,167.2 L187.8,167.3 L188.1,167.6 L188.3,168.1 L188.6,168.7 L188.8,169.3 L189.1,169.8 L189.3,170.1 L189.6,170.2 L189.8,170.3 L190.1,170.5 L190.3,170.6 L190.6,170.7 L190.8,170.8 L191.1,171.0 L191.3,171.1 L191.6,171.2 L191.8,171.3 L192.1,171.4 L192.3,171.6 L192.6,171.7 L192.8,171.8 L193.1,171.9 L193.3,172.1 L193.6,172.2 L193.8,172.3 L194.1,172.4 L194.3,172.5 L194.6,172.7 L194.8,172.8 L195.1,172.9 L195.3,173.0 L195.6,173.2 L195.8,173.3 L196.1,173.4 L196.3,173.5 L196.6,173.7 L196.8,173.8 L197.1,173.9 L197.3,174.0 L197.6,174.2 L197.8,174.4 L198.1,175.0 L198.3,175.7 L198.6,176.5 L198.8,177.2 L199.1,177.6 L199.3,177.7 L199.6,177.9 L199.8,178.0 L200.1,178.1 L200.3,178.3 L200.6,178.4 L200.8,178.6 L201.1,178.7 L201.3,178.9 L201.6,179.0 L201.8,179.1 L202.1,179.3 L202.3,179.4 L202.6,179.6 L202.8,179.7 L203.1,179.9 L203.3,180.0 L203.6,180.2 L203.8,180.3 L204.1,180.5 L204.3,180.6 L204.6,180.8 L204.8,181.0 L205.1,181.1 L205.3,181.3 L205.6,181.4 L205.8,181.6 L206.1,181.7 L206.3,181.9 L206.6,182.0 L206.8,182.2 L207.1,182.3 L207.3,182.5 L207.6,182.7 L207.8,183.3 L208.1,184.2 L208.3,185.2 L208.6,186.0 L208.8,186.6 L209.1,186.8 L209.3,186.9 L209.6,187.1 L209.8,187.2 L210.1,187.4 L210.3,187.5 L210.6,187.6 L210.8,187.8 L211.1,187.9 L211.3,188.1 L211.6,188.2 L211.8,188.4 L212.1,188.5 L212.3,188.6 L212.6,188.8 L212.8,188.9 L213.1,189.1 L213.3,189.2 L213.6,189.3 L213.8,189.5 L214.1,189.6 L214.3,189.7 L214.6,189.9 L214.8,190.0 L215.1,190.2 L215.3,190.3 L215.6,190.4 L215.8,190.6 L216.1,190.7 L216.3,190.8 L216.6,191.0 L216.8,191.1 L217.1,191.2 L217.3,191.4 L217.6,192.0 L217.8,192.8 L218.1,193.7 L218.3,194.6 L218.6,195.2 L218.8,195.5 L219.1,195.6 L219.3,195.7 L219.6,195.9 L219.8,196.0 L220.1,196.2 L220.3,196.3 L220.6,196.4 L220.8,196.6 L221.1,196.7 L221.3,196.8 L221.6,197.0 L221.8,197.1 L222.1,197.3 L222.3,197.4 L222.6,197.5 L222.8,197.7 L223.1,197.8 L223.3,197.9 L223.6,198.1 L223.8,198.2 L224.1,198.3 L224.3,198.5 L224.6,198.6 L224.8,198.7 L225.1,198.9 L225.3,199.0 L225.6,199.1 L225.8,199.3 L226.1,199.4 L226.3,199.5 L226.6,199.7 L226.8,199.8 L227.1,199.9 L227.3,200.4 L227.6,201.2 L227.8,202.2 L228.1,203.2 L228.3,203.9 L228.6,204.2 L228.8,204.3 L229.1,204.5 L229.3,204.6 L229.6,204.7 L229.8,204.9 L230.1,205.0 L230.3,205.1 L230.6,205.3 L230.8,205.4 L231.1,205.5 L231.3,205.6 L231.6,205.8 L231.8,205.9 L232.1,206.0 L232.3,206.2 L232.6,206.3 L232.8,206.4 L233.1,206.6 L233.3,206.7 L233.6,206.8 L233.8,207.0 L234.1,207.1 L234.3,207.2 L234.6,207.3 L234.8,207.5 L235.1,207.6 L235.3,207.7 L235.6,207.9 L235.8,208.0 L236.1,208.1 L236.3,208.2 L236.6,208.4 L236.8,208.5 L237.1,208.9 L237.3,209.7 L237.6,210.7 L237.8,211.7 L238.1,212.5 L238.3,212.9 L238.6,213.0 L238.8,213.1 L239.1,213.3 L239.3,213.4 L239.6,213.5 L239.8,213.7 L240.1,213.8 L240.3,213.9 L240.6,214.0 L240.8,214.2 L241.1,214.3 L241.3,214.4 L241.6,214.5 L241.8,214.7 L242.1,214.8 L242.3,214.9 L242.6,215.1 L242.8,215.2 L243.1,215.3 L243.3,215.4 L243.6,215.6 L243.8,215.7 L244.1,215.8 L244.3,215.9 L244.6,216.1 L244.8,216.2 L245.1,216.3 L245.3,216.4 L245.6,216.6 L245.8,216.7 L246.1,216.8 L246.3,216.9 L246.6,217.0 L246.8,217.4 L247.1,218.2 L247.3,219.2 L247.6,220.4 L247.8,221.3 L248.1,221.9 L248.3,222.0 L248.6,222.1 L248.8,222.3 L249.1,222.4 L249.3,222.5 L249.6,222.7 L249.8,222.8 L250.1,222.9 L250.3,223.0 L250.6,223.2 L250.8,223.3 L251.1,223.4 L251.3,223.5 L251.6,223.7 L251.8,223.8 L252.1,223.9 L252.3,224.0 L252.6,224.2 L252.8,224.3 L253.1,224.4 L253.3,224.5 L253.6,224.6 L253.8,224.8 L254.1,224.9 L254.3,225.0 L254.6,225.1 L254.8,225.2 L255.1,225.3 L255.3,225.4 L255.6,225.6 L255.8,225.7 L256.1,225.8 L256.4,225.9 L256.6,226.1 L256.9,226.9 L257.1,228.1 L257.4,229.4 L257.6,230.6 L257.9,231.3 L258.1,231.5 L258.4,231.6 L258.6,231.7 L258.9,231.8 L259.1,231.9 L259.4,232.1 L259.6,232.2 L259.9,232.3 L260.1,232.4 L260.4,232.5 L260.6,232.6 L260.9,232.7 L261.1,232.8 L261.4,232.9 L261.6,233.0 L261.9,233.1 L262.1,233.3 L262.4,233.4 L262.6,233.5 L262.9,233.6 L263.1,233.7 L263.4,233.8 L263.6,233.9 L263.9,234.0 L264.1,234.1 L264.4,234.2 L264.6,234.3 L264.9,234.4 L265.1,234.5 L265.4,234.5 L265.6,234.6 L265.9,234.7 L266.1,234.8 L266.4,235.0 L266.6,235.8 L266.9,237.1 L267.1,238.6 L267.4,240.0 L267.6,240.9 L267.9,241.2 L268.1,241.3 L268.4,241.4 L268.6,241.5 L268.9,241.6 L269.1,241.7 L269.4,241.8 L269.6,241.9 L269.9,242.0 L270.1,242.1 L270.4,242.2 L270.6,242.3 L270.9,242.4 L271.1,242.5 L271.4,242.6 L271.6,242.7 L271.9,242.8 L272.1,242.9 L272.4,243.0 L272.6,243.1 L272.9,243.2 L273.1,243.2 L273.4,243.3 L273.6,243.4 L273.9,243.5 L274.1,243.6 L274.4,243.6 L274.6,243.7 L274.9,243.8 L275.1,243.9 L275.4,243.9 L275.6,244.0 L275.9,244.1 L276.1,244.2 L276.4,244.9 L276.6,246.5 L276.9,248.3 L277.1,250.1 L277.4,251.4 L277.6,251.9 L277.9,251.9 L278.1,252.0 L278.4,252.1 L278.6,252.2 L278.9,252.3 L279.1,252.4 L279.4,252.4 L279.6,252.5 L279.9,252.6 L280.1,252.7 L280.4,252.7 L280.6,252.8 L280.9,252.9 L281.1,252.9 L281.4,253.0 L281.6,253.0 L281.9,253.1 L282.1,253.2 L282.4,253.2 L282.6,253.3 L282.9,253.3 L283.1,253.4 L283.4,253.4 L283.6,253.5 L283.9,253.5 L284.1,253.5 L284.4,253.6 L284.6,253.6 L284.9,253.7 L285.1,253.7 L285.4,253.7 L285.6,253.8 L285.9,253.8 L286.1,254.4 L286.4,255.8 L286.6,257.7 L286.9,259.6 L287.1,261.1 L287.4,261.7 L287.6,261.7 L287.9,261.8 L288.1,261.8 L288.4,261.9 L288.6,261.9 L288.9,262.0 L289.1,262.0 L289.4,262.1 L289.6,262.1 L289.9,262.1 L290.1,262.2 L290.4,262.2 L290.6,262.2 L290.9,262.2 L291.1,262.3 L291.4,262.3 L291.6,262.3 L291.9,262.4 L292.1,262.4 L292.4,262.4 L292.6,262.5 L292.9,262.5 L293.1,262.5 L293.4,262.5 L293.6,262.6 L293.9,262.6 L294.1,262.6 L294.4,262.7 L294.6,262.7 L294.9,262.7 L295.1,262.8 L295.4,262.8 L295.6,262.8 L295.9,263.2 L296.1,264.6 L296.4,266.4 L296.6,268.4 L296.9,270.0 L297.1,270.8 L297.4,270.9 L297.6,270.9 L297.9,270.9 L298.1,271.0 L298.4,271.0 L298.6,271.0 L298.9,271.0 L299.1,271.1 L299.4,271.1 L299.6,271.1 L299.9,271.2 L300.1,271.2 L300.4,271.2 L300.6,271.3 L300.9,271.3 L301.1,271.3 L301.4,271.3 L301.6,271.4 L301.9,271.4 L302.1,271.4 L302.4,271.5 L302.6,271.5 L302.9,271.5 L303.1,271.6 L303.4,271.6 L303.6,271.6 L303.9,271.6 L304.1,271.7 L304.4,271.7 L304.6,271.7 L304.9,271.8 L305.1,271.8 L305.4,271.8 L305.6,272.1 L305.9,273.4 L306.1,275.3 L306.4,277.4 L306.6,279.2 L306.9,280.3 L307.1,280.4 L307.4,280.4 L307.6,280.5 L307.9,280.5 L308.1,280.5 L308.4,280.6 L308.6,280.6 L308.9,280.6 L309.1,280.6 L309.4,280.7 L309.6,280.7 L309.9,280.7 L310.1,280.8 L310.4,280.8 L310.6,280.8 L310.9,280.9 L311.1,280.9 L311.4,280.9 L311.6,280.9 L311.9,281.0 L312.1,281.0 L312.4,281.0 L312.6,281.1 L312.9,281.1 L313.1,281.1 L313.4,281.2 L313.6,281.2 L313.9,281.2 L314.1,281.2 L314.4,281.3 L314.6,281.3 L314.9,281.3 L315.1,281.4 L315.4,281.5 L315.6,282.6 L315.9,284.5 L316.1,286.6 L316.4,288.6 L316.6,289.9 L316.9,290.2 L317.1,290.2 L317.4,290.2 L317.6,290.2 L317.9,290.3 L318.1,290.3 L318.4,290.3 L318.6,290.4 L318.9,290.4 L319.1,290.4 L319.4,290.5 L319.6,290.5 L319.9,290.5 L320.1,290.5 L320.4,290.6 L320.6,290.6 L320.9,290.6 L321.1,290.7 L321.4,290.7 L321.6,290.7 L321.9,290.8 L322.1,290.8 L322.4,290.8 L322.6,290.8 L322.9,290.9 L323.1,290.9 L323.4,290.9 L323.6,291.0 L323.9,291.0 L324.1,291.0 L324.4,291.1 L324.6,291.1 L324.9,291.1 L325.1,291.2 L325.4,292.0 L325.6,293.6 L325.9,295.5 L326.1,297.4 L326.4,298.7 L326.6,299.1 L326.9,299.2 L327.1,299.2 L327.4,299.2 L327.6,299.2 L327.9,299.3 L328.1,299.3 L328.4,299.3 L328.6,299.4 L328.9,299.4 L329.1,299.4 L329.4,299.5 L329.6,299.5 L329.9,299.5 L330.1,299.5 L330.4,299.6 L330.6,299.6 L330.9,299.6 L331.1,299.7 L331.4,299.7 L331.6,299.7 L331.9,299.8 L332.1,299.8 L332.4,299.8 L332.6,299.8 L332.9,299.9 L333.1,299.9 L333.4,299.9 L333.6,300.0 L333.9,300.0 L334.1,300.0 L334.4,300.1 L334.6,300.1 L334.9,300.1 L335.1,300.7 L335.4,302.2 L335.6,304.1 L335.9,306.0 L336.1,307.4 L336.4,308.1 L336.6,308.1 L336.9,308.1 L337.1,308.1 L337.4,308.2 L337.6,308.2 L337.9,308.2 L338.1,308.3 L338.4,308.3 L338.6,308.3 L338.9,308.4 L339.1,308.4 L339.4,308.4 L339.6,308.4 L339.9,308.5 L340.1,308.5 L340.4,308.5 L340.6,308.6 L340.9,308.6 L341.1,308.6 L341.4,308.7 L341.6,308.8 L341.9,308.9 L342.1,309.0 L342.4,309.1 L342.6,309.3 L342.9,309.4 L343.1,309.6 L343.4,309.8 L343.6,310.1 L343.9,310.3 L344.1,310.6 L344.4,310.9 L344.6,311.2 L344.9,311.5 L345.1,311.9 L345.6,312.3 L29.6,312.7Z" fill="#D95E30"/>
<path d="M339.1,9.2 L339.3,11.0 L339.6,13.4 L339.9,16.3 L340.2,19.5 L340.6,22.8 L341.0,26.1 L341.3,29.2 L341.6,32.0 L341.9,34.5 L342.2,37.0 L342.4,39.5 L342.7,41.8 L342.9,44.0 L343.2,46.2 L343.4,48.2 L343.6,50.0 L343.8,51.7 L344.0,53.3 L344.2,54.8 L344.3,56.1 L344.5,57.3 L344.6,58.4 L344.7,59.3 L344.8,60.0" stroke="#1a1a1a" stroke-opacity="0.6" stroke-width="0.65" fill="none"/>
<path d="M298.8,9.2 L299.8,17.4 L301.1,28.7 L302.7,42.3 L304.5,57.1 L306.3,72.2 L308.1,86.7 L309.6,99.6 L310.9,110.0 L311.9,118.1 L312.7,124.8 L313.5,130.4 L314.1,135.2 L314.6,139.4 L315.2,143.1 L315.7,146.7 L316.3,150.3 L316.9,153.7 L317.4,156.6 L318.0,159.1 L318.5,161.3 L319.0,163.4 L319.6,165.4 L320.1,167.6 L320.7,170.0 L321.3,172.6 L321.9,175.3 L322.6,178.1 L323.2,180.8 L323.9,183.6 L324.6,186.4 L325.3,189.1 L326.1,191.9 L326.9,194.7 L327.8,197.4 L328.7,200.2 L329.7,203.0 L330.7,205.7 L331.7,208.5 L332.7,211.2 L333.8,213.8 L335.0,216.5 L336.3,219.2 L337.6,222.0 L339.0,224.8 L340.4,227.4 L341.6,229.7 L342.7,231.8 L343.6,233.5 L344.3,234.8 L344.8,235.7 L345.1,236.3 L345.4,236.7 L345.6,237.0 L345.7,237.1 L345.9,237.3 L346.0,237.5" stroke="#1a1a1a" stroke-opacity="0.6" stroke-width="0.65" fill="none"/>
<path d="M235.9,9.2 L236.6,11.8 L237.5,15.2 L238.7,19.3 L239.9,23.9 L241.2,28.8 L242.5,33.7 L243.8,38.5 L245.0,43.0 L246.1,47.3 L247.3,51.7 L248.4,56.2 L249.5,60.6 L250.7,65.0 L251.8,69.4 L252.9,73.8 L254.0,78.0 L255.1,82.2 L256.2,86.4 L257.2,90.5 L258.3,94.6 L259.3,98.6 L260.4,102.5 L261.4,106.3 L262.5,110.0 L263.6,113.5 L264.6,116.9 L265.7,120.1 L266.7,123.3 L267.8,126.4 L268.8,129.5 L269.9,132.7 L271.0,136.0 L272.1,139.4 L273.2,142.8 L274.4,146.2 L275.5,149.7 L276.7,153.2 L277.9,156.7 L279.1,160.1 L280.3,163.5 L281.5,166.8 L282.8,170.1 L284.0,173.4 L285.3,176.6 L286.5,179.9 L287.8,183.2 L289.2,186.5 L290.5,190.0 L291.9,193.6 L293.3,197.3 L294.7,201.2 L296.2,205.0 L297.6,208.9 L299.1,212.7 L300.5,216.4 L302.0,220.0 L303.5,223.5 L304.9,226.9 L306.4,230.2 L307.9,233.5 L309.4,236.8 L310.9,239.9 L312.4,243.0 L313.8,246.0 L315.2,248.9 L316.7,251.7 L318.1,254.5 L319.5,257.2 L320.9,259.8 L322.3,262.4 L323.7,264.9 L325.0,267.5 L326.3,270.1 L327.6,272.6 L328.9,275.1 L330.2,277.5 L331.5,280.0 L332.7,282.3 L333.9,284.7 L335.0,287.0 L336.1,289.3 L337.2,291.6 L338.2,293.9 L339.2,296.2 L340.2,298.4 L341.1,300.4 L341.9,302.3 L342.6,304.0 L343.2,305.5 L343.7,306.9 L344.2,308.1 L344.6,309.2 L344.9,310.2 L345.2,311.0 L345.4,311.7 L345.6,312.3" stroke="#1a1a1a" stroke-opacity="0.6" stroke-width="0.65" fill="none"/>
<path d="M151.1,9.2 L153.2,12.9 L155.9,17.8 L159.1,23.7 L162.7,30.2 L166.5,37.2 L170.5,44.3 L174.3,51.2 L178.0,57.8 L181.6,64.2 L185.4,70.9 L189.2,77.7 L193.0,84.5 L196.8,91.2 L200.6,97.8 L204.2,104.1 L207.6,110.0 L210.9,115.7 L214.2,121.3 L217.4,126.8 L220.6,132.0 L223.5,137.0 L226.3,141.6 L228.8,145.8 L231.1,149.5 L233.0,152.6 L234.6,155.1 L236.0,157.2 L237.1,158.9 L238.2,160.4 L239.2,161.8 L240.2,163.3 L241.3,165.0 L242.4,166.7 L243.5,168.4 L244.5,169.9 L245.5,171.5 L246.6,173.1 L247.6,174.8 L248.8,176.6 L250.0,178.6 L251.3,180.8 L252.7,183.2 L254.1,185.7 L255.6,188.3 L257.2,191.0 L258.7,193.7 L260.3,196.4 L262.0,199.0 L263.7,201.6 L265.5,204.2 L267.3,206.8 L269.2,209.4 L271.1,212.1 L273.0,214.7 L274.8,217.3 L276.7,220.0 L278.6,222.7 L280.5,225.5 L282.4,228.3 L284.3,231.2 L286.2,233.9 L288.0,236.6 L289.7,239.1 L291.3,241.5 L292.7,243.6 L294.0,245.6 L295.1,247.4 L296.2,249.1 L297.2,250.8 L298.3,252.5 L299.3,254.2 L300.5,256.0 L301.7,257.9 L302.9,259.9 L304.1,261.8 L305.4,263.8 L306.6,265.8 L307.9,267.8 L309.2,269.7 L310.5,271.5 L311.8,273.3 L313.2,274.9 L314.5,276.6 L315.9,278.2 L317.3,279.8 L318.7,281.4 L320.1,282.9 L321.5,284.5 L322.9,286.1 L324.4,287.7 L325.9,289.2 L327.4,290.8 L328.9,292.3 L330.3,293.8 L331.7,295.2 L333.0,296.5 L334.2,297.7 L335.4,298.9 L336.5,300.0 L337.6,301.0 L338.6,302.1 L339.6,303.0 L340.5,304.0 L341.3,305.0 L342.1,306.0 L342.8,307.1 L343.4,308.1 L344.0,309.2 L344.5,310.1 L344.9,311.0 L345.3,311.7 L345.6,312.3" stroke="#1a1a1a" stroke-opacity="0.6" stroke-width="0.65" fill="none"/>
<path d="M29.6,34.2 L30.2,34.2 L30.8,34.3 L31.4,34.3 L32.0,34.4 L32.6,34.4 L33.2,34.4 L33.8,34.5 L34.4,34.5 L35.0,34.6 L35.6,34.6 L36.2,34.7 L36.8,34.7 L37.4,34.8 L38.0,34.8 L38.6,34.9 L39.2,35.0 L39.8,35.0 L40.4,35.1 L41.0,35.2 L41.6,35.3 L42.2,35.4 L42.8,35.5 L43.3,35.6 L43.9,35.8 L44.5,35.9 L45.1,36.0 L45.7,36.2 L46.3,36.3 L46.8,36.5 L47.4,36.7 L48.0,36.8 L48.6,37.0 L49.2,37.2 L49.7,37.3 L50.3,37.5 L50.9,37.7 L51.5,37.9 L52.0,38.1 L52.6,38.3 L53.2,38.4 L53.7,38.6 L54.3,38.8 L54.9,39.0 L55.5,39.2 L56.0,39.4 L56.6,39.6 L57.2,39.8 L57.7,39.9 L58.3,40.1 L58.9,40.3 L59.5,40.5 L60.0,40.7 L60.6,40.9 L61.2,41.1 L61.7,41.3 L62.3,41.5 L62.9,41.7 L63.4,41.9 L64.0,42.1 L64.6,42.3 L65.1,42.5 L65.7,42.7 L66.3,42.9 L66.8,43.2 L67.4,43.4 L67.9,43.6 L68.5,43.8 L69.1,44.0 L69.6,44.2 L70.2,44.5 L70.7,44.7 L71.3,44.9 L71.9,45.1 L72.4,45.4 L73.0,45.6 L73.5,45.8 L74.1,46.1 L74.6,46.3 L75.2,46.6 L75.7,46.8 L76.3,47.1 L76.8,47.3 L77.4,47.6 L77.9,47.8 L78.4,48.1 L79.0,48.3 L79.5,48.6 L80.1,48.8 L80.6,49.1 L81.2,49.4 L81.7,49.6 L82.2,49.9 L82.8,50.2 L83.3,50.4 L83.8,50.7 L84.4,51.0 L84.9,51.3 L85.5,51.5 L86.0,51.8 L86.5,52.1 L87.1,52.4 L87.6,52.7 L88.1,53.0 L88.6,53.2 L89.2,53.5 L89.7,53.8 L90.2,54.1 L90.7,54.4 L91.2,54.7 L91.8,55.0 L92.3,55.4 L92.8,55.7 L93.3,56.0 L93.8,56.3 L94.3,56.6 L94.8,56.9 L95.4,57.2 L95.9,57.5 L96.4,57.9 L96.9,58.2 L97.4,58.5 L97.9,58.8 L98.4,59.1 L98.9,59.5 L99.4,59.8 L99.9,60.1 L100.4,60.4 L100.9,60.8 L101.4,61.1 L101.9,61.4 L102.4,61.8 L102.9,62.1 L103.4,62.4 L103.9,62.8 L104.4,63.1 L104.9,63.5 L105.4,63.8 L105.9,64.1 L106.4,64.5 L106.9,64.8 L107.4,65.2 L107.9,65.5 L108.4,65.9 L108.9,66.2 L109.4,66.6 L109.9,66.9 L110.3,67.3 L110.8,67.6 L111.3,68.0 L111.8,68.3 L112.3,68.7 L112.8,69.0 L113.3,69.4 L113.7,69.8 L114.2,70.1 L114.7,70.5 L115.2,70.8 L115.7,71.2 L116.2,71.6 L116.6,71.9 L117.1,72.3 L117.6,72.6 L118.1,73.0 L118.6,73.3 L119.1,73.7 L119.5,74.1 L120.0,74.4 L120.5,74.8 L121.0,75.2 L121.4,75.5 L121.9,75.9 L122.4,76.3 L122.9,76.7 L123.3,77.0 L123.8,77.4 L124.2,77.8 L124.7,78.2 L125.1,78.6 L125.6,79.0 L126.0,79.4 L126.5,79.8 L126.9,80.3 L127.3,80.7 L127.8,81.1 L128.2,81.5 L128.6,81.9 L129.0,82.4 L129.5,82.8 L129.9,83.2 L130.3,83.6 L130.7,84.1 L131.1,84.5 L131.6,84.9 L132.0,85.4 L132.4,85.8 L132.8,86.2 L133.2,86.7 L133.7,87.1 L134.1,87.5 L134.5,88.0 L134.9,88.4 L135.3,88.8 L135.8,89.3 L136.2,89.7 L136.6,90.1 L137.0,90.5 L137.4,91.0 L137.9,91.4 L138.3,91.8 L138.7,92.3 L139.1,92.7 L139.5,93.1 L140.0,93.6 L140.4,94.0 L140.8,94.4 L141.2,94.9 L141.6,95.3 L142.0,95.7 L142.5,96.2 L142.9,96.6 L143.3,97.0 L143.7,97.4 L144.2,97.9 L144.6,98.3 L145.0,98.7 L145.4,99.1 L145.9,99.6 L146.3,100.0 L146.7,100.4 L147.1,100.8 L147.6,101.3 L148.0,101.7 L148.4,102.1 L148.9,102.5 L149.3,102.9 L149.7,103.3 L150.2,103.8 L150.6,104.2 L151.0,104.6 L151.5,105.0 L151.9,105.4 L152.3,105.8 L152.8,106.2 L153.2,106.7 L153.7,107.1 L154.1,107.5 L154.5,107.9 L155.0,108.3 L155.4,108.7 L155.9,109.1 L156.3,109.5 L156.7,109.9 L157.2,110.4 L157.6,110.8 L158.0,111.2 L158.5,111.6 L158.9,112.0 L159.4,112.4 L159.8,112.8 L160.2,113.3 L160.7,113.7 L161.1,114.1 L161.5,114.5 L162.0,114.9 L162.4,115.3 L162.8,115.8 L163.3,116.2 L163.7,116.6 L164.1,117.0 L164.5,117.4 L165.0,117.9 L165.4,118.3 L165.8,118.7 L166.2,119.1 L166.7,119.6 L167.1,120.0 L167.5,120.4 L167.9,120.9 L168.3,121.3 L168.8,121.7 L169.2,122.2 L169.6,122.6 L170.0,123.0 L170.4,123.5 L170.8,123.9 L171.2,124.4 L171.7,124.8 L172.1,125.2 L172.5,125.7 L172.9,126.1 L173.3,126.6 L173.7,127.0 L174.1,127.5 L174.5,127.9 L174.9,128.3 L175.3,128.8 L175.7,129.2 L176.1,129.7 L176.5,130.1 L176.9,130.6 L177.3,131.0 L177.7,131.5 L178.1,131.9 L178.5,132.4 L178.9,132.8 L179.3,133.3 L179.7,133.7 L180.1,134.2 L180.5,134.6 L180.9,135.1 L181.3,135.5 L181.7,136.0 L182.1,136.4 L182.5,136.9 L182.9,137.3 L183.3,137.8 L183.7,138.2 L184.1,138.6 L184.5,139.1 L184.9,139.5 L185.3,140.0 L185.7,140.4 L186.1,140.9 L186.5,141.3 L186.9,141.8 L187.3,142.2 L187.7,142.7 L188.1,143.1 L188.5,143.6 L188.9,144.0 L189.3,144.5 L189.7,144.9 L190.1,145.4 L190.5,145.8 L190.9,146.3 L191.3,146.7 L191.7,147.2 L192.1,147.6 L192.5,148.1 L192.9,148.5 L193.3,149.0 L193.7,149.4 L194.1,149.9 L194.5,150.3 L194.9,150.8 L195.3,151.2 L195.7,151.7 L196.1,152.1 L196.5,152.6 L196.9,153.0 L197.4,153.4 L197.8,153.9 L198.2,154.3 L198.6,154.8 L199.0,155.2 L199.4,155.6 L199.9,156.0 L200.3,156.5 L200.7,156.9 L201.1,157.3 L201.6,157.7 L202.0,158.1 L202.5,158.5 L202.9,158.9 L203.4,159.3 L203.8,159.7 L204.3,160.1 L204.8,160.5 L205.2,160.8 L205.7,161.2 L206.2,161.6 L206.7,161.9 L207.1,162.3 L207.6,162.7 L208.1,163.1 L208.6,163.4 L209.0,163.8 L209.5,164.2 L209.9,164.6 L210.4,165.0 L210.8,165.4 L211.3,165.8 L211.7,166.2 L212.1,166.6 L212.6,167.1 L213.0,167.5 L213.4,167.9 L213.8,168.4 L214.3,168.8 L214.7,169.2 L215.1,169.7 L215.5,170.1 L215.9,170.5 L216.3,171.0 L216.7,171.4 L217.1,171.9 L217.5,172.3 L217.9,172.7 L218.3,173.2 L218.7,173.6 L219.1,174.1 L219.6,174.5 L220.0,175.0 L220.4,175.4 L220.8,175.9 L221.2,176.3 L221.6,176.8 L222.0,177.2 L222.4,177.7 L222.8,178.1 L223.2,178.6 L223.6,179.0 L224.0,179.5 L224.4,179.9 L224.8,180.4 L225.2,180.8 L225.6,181.2 L226.0,181.7 L226.4,182.1 L226.8,182.6 L227.2,183.0 L227.6,183.5 L228.0,183.9 L228.4,184.4 L228.8,184.8 L229.2,185.2 L229.6,185.7 L230.0,186.1 L230.4,186.6 L230.8,187.0 L231.2,187.5 L231.6,187.9 L232.0,188.4 L232.5,188.8 L232.9,189.3 L233.3,189.7 L233.7,190.2 L234.1,190.6 L234.5,191.0 L234.9,191.5 L235.3,191.9 L235.7,192.4 L236.1,192.8 L236.5,193.3 L236.9,193.7 L237.3,194.2 L237.7,194.6 L238.1,195.1 L238.5,195.5 L238.9,195.9 L239.3,196.4 L239.7,196.8 L240.1,197.3 L240.5,197.7 L241.0,198.2 L241.4,198.6 L241.8,199.0 L242.2,199.5 L242.6,199.9 L243.0,200.4 L243.4,200.8 L243.8,201.2 L244.3,201.7 L244.7,202.1 L245.1,202.5 L245.5,202.9 L246.0,203.4 L246.4,203.8 L246.8,204.2 L247.3,204.6 L247.7,205.0 L248.1,205.4 L248.6,205.9 L249.0,206.3 L249.4,206.7 L249.9,207.1 L250.3,207.5 L250.7,207.9 L251.2,208.4 L251.6,208.8 L252.0,209.2 L252.4,209.6 L252.9,210.1 L253.3,210.5 L253.7,210.9 L254.1,211.4 L254.5,211.8 L254.9,212.2 L255.3,212.7 L255.7,213.1 L256.1,213.6 L256.5,214.1 L256.9,214.5 L257.3,215.0 L257.7,215.4 L258.1,215.9 L258.5,216.3 L258.9,216.8 L259.2,217.3 L259.6,217.7 L260.0,218.2 L260.4,218.7 L260.8,219.1 L261.1,219.6 L261.5,220.1 L261.9,220.5 L262.2,220.9 L262.5,221.3 L262.8,221.6 L263.0,221.9 L263.2,222.2 L263.5,222.6 L263.8,222.9 L264.0,223.2 L264.2,223.5 L264.5,223.9 L264.8,224.2 L265.0,224.5 L265.2,224.9 L265.5,225.2 L265.8,225.5 L266.0,225.9 L266.2,226.2 L266.5,226.6 L266.8,226.9 L267.0,227.2 L267.2,227.6 L267.5,227.9 L267.8,228.2 L268.0,228.6 L268.2,228.9 L268.5,229.2 L268.8,229.5 L269.0,229.8 L269.2,230.1 L269.5,230.4 L269.8,230.6 L270.0,230.9 L270.2,231.2 L270.5,231.5 L270.8,231.7 L271.0,232.2 L271.2,232.8 L271.5,233.5 L271.8,234.2 L272.0,234.8 L272.2,235.1 L272.5,235.5 L272.8,235.8 L273.0,236.1 L273.2,236.4 L273.5,236.6 L273.8,236.9 L274.0,237.2 L274.2,237.5 L274.5,237.8 L274.8,238.0 L275.0,238.3 L275.2,238.5 L275.5,238.8 L275.8,239.0 L276.0,239.3 L276.2,239.5 L276.5,239.7 L276.8,239.9 L277.0,240.1 L277.2,240.3 L277.5,240.5 L277.8,240.7 L278.0,240.9 L278.2,241.1 L278.5,241.3 L278.8,241.4 L279.0,241.6 L279.2,241.7 L279.5,241.9 L279.8,242.0 L280.0,242.1 L280.2,242.3 L280.5,242.4 L280.8,243.1 L281.0,244.4 L281.2,246.0 L281.5,247.6 L281.8,248.8 L282.0,249.3 L282.2,249.5 L282.5,249.7 L282.8,249.8 L283.0,250.0 L283.2,250.1 L283.5,250.3 L283.8,250.4 L284.0,250.6 L284.2,250.7 L284.5,250.8 L284.8,250.9 L285.0,251.0 L285.2,251.1 L285.5,251.2 L285.8,251.3 L286.0,251.4 L286.2,251.5 L286.5,251.5 L286.8,251.6 L287.0,251.7 L287.2,251.7 L287.5,251.8 L287.8,251.8 L288.0,251.9 L288.2,251.9 L288.5,251.9 L288.8,252.0 L289.0,252.0 L289.2,252.1 L289.5,252.1 L289.8,252.1 L290.0,252.2 L290.2,252.2 L290.5,252.8 L290.8,254.2 L291.0,256.1 L291.2,258.0 L291.5,259.5 L291.8,260.1 L292.0,260.1 L292.2,260.2 L292.5,260.2 L292.8,260.3 L293.0,260.3 L293.2,260.4 L293.5,260.4 L293.8,260.5 L294.0,260.5 L294.2,260.5 L294.5,260.6 L294.8,260.6 L295.0,260.6 L295.2,260.6 L295.5,260.7 L295.8,260.7 L296.0,260.7 L296.2,260.8 L296.5,260.8 L296.8,260.8 L297.0,260.9 L297.2,260.9 L297.5,260.9 L297.8,260.9 L298.0,261.0 L298.2,261.0 L298.5,261.0 L298.8,261.1 L299.0,261.1 L299.2,261.1 L299.5,261.2 L299.8,261.2 L300.0,261.2 L300.2,261.6 L300.5,263.0 L300.8,264.8 L301.0,266.8 L301.2,268.4 L301.5,269.2 L301.8,269.3 L302.0,269.3 L302.2,269.3 L302.5,269.4 L302.8,269.4 L303.0,269.4 L303.2,269.4 L303.5,269.5 L303.8,269.5 L304.0,269.5 L304.2,269.6 L304.5,269.6 L304.8,269.6 L305.0,269.7 L305.2,269.7 L305.5,269.7 L305.8,269.7 L306.0,269.8 L306.2,269.8 L306.5,269.8 L306.8,269.9 L307.0,269.9 L307.2,269.9 L307.5,270.0 L307.8,270.0 L308.0,270.0 L308.2,270.0 L308.5,270.1 L308.8,270.1 L309.0,270.1 L309.2,270.2 L309.5,270.2 L309.8,270.2 L310.0,270.5 L310.2,271.8 L310.5,273.7 L310.8,275.8 L311.0,277.6 L311.2,278.7 L311.5,278.8 L311.8,278.8 L312.0,278.9 L312.2,278.9 L312.5,278.9 L312.8,279.0 L313.0,279.0 L313.2,279.0 L313.5,279.0 L313.8,279.1 L314.0,279.1 L314.2,279.1 L314.5,279.2 L314.8,279.2 L315.0,279.2 L315.2,279.3 L315.5,279.3 L315.8,279.3 L316.0,279.3 L316.2,279.4 L316.5,279.4 L316.8,279.4 L317.0,279.5 L317.2,279.5 L317.5,279.5 L317.8,279.6 L318.0,279.6 L318.2,279.6 L318.5,279.6 L318.8,279.7 L319.0,279.7 L319.2,279.7 L319.5,279.8 L319.8,279.9 L320.0,281.0 L320.2,282.9 L320.5,285.0 L320.8,287.0 L321.0,288.3 L321.2,288.6 L321.5,288.6 L321.8,288.6 L322.0,288.6 L322.2,288.7 L322.5,288.7 L322.8,288.7 L323.0,288.8 L323.2,288.8 L323.5,288.8 L323.8,288.9 L324.0,288.9 L324.2,288.9 L324.5,288.9 L324.8,289.0 L325.0,289.0 L325.2,289.0 L325.5,289.1 L325.8,289.1 L326.0,289.1 L326.2,289.2 L326.5,289.2 L326.8,289.2 L327.0,289.2 L327.2,289.3 L327.5,289.3 L327.8,289.3 L328.0,289.4 L328.2,289.4 L328.5,289.4 L328.8,289.5 L329.0,289.5 L329.2,289.5 L329.5,289.6 L329.8,290.4 L330.0,292.0 L330.2,293.9 L330.5,295.8 L330.8,297.1 L331.0,297.5 L331.2,297.6 L331.5,297.6 L331.8,297.6 L332.0,297.6 L332.2,297.7 L332.5,297.7 L332.8,297.7 L333.0,297.8 L333.2,297.8 L333.5,297.8 L333.8,297.9 L334.0,297.9 L334.2,297.9 L334.5,297.9 L334.8,298.0 L335.0,298.0 L335.2,298.0 L335.5,298.1 L335.8,298.1 L336.0,298.1 L336.2,298.2 L336.5,298.2 L336.8,298.2 L337.0,298.2 L337.2,298.3 L337.5,298.3 L337.8,298.3 L338.0,298.4 L338.2,298.4 L338.5,298.4 L338.8,298.5 L339.0,298.5 L339.2,298.5 L339.5,299.1 L339.8,300.6 L340.0,302.5 L340.2,304.4 L340.5,305.8 L340.8,306.5 L341.0,306.5 L341.2,306.5 L341.5,306.5 L341.8,306.6 L342.0,306.6 L342.2,306.6 L342.5,306.7 L342.8,306.7 L343.0,306.7 L343.2,306.8 L343.5,306.8 L343.8,306.8 L344.0,306.8 L344.2,306.9 L344.5,306.9 L344.8,306.9 L345.6,312.3" stroke="#1a1a1a" stroke-opacity="0.6" stroke-width="0.65" fill="none"/>
<path d="M29.6,82.0 L30.2,82.0 L30.8,82.0 L31.4,82.0 L32.0,82.1 L32.6,82.1 L33.2,82.1 L33.8,82.1 L34.4,82.1 L35.0,82.1 L35.6,82.1 L36.2,82.2 L36.8,82.2 L37.4,82.2 L38.0,82.2 L38.6,82.3 L39.2,82.3 L39.8,82.3 L40.4,82.4 L41.0,82.4 L41.6,82.5 L42.2,82.6 L42.8,82.6 L43.4,82.7 L44.0,82.8 L44.6,82.9 L45.2,82.9 L45.8,83.0 L46.4,83.1 L47.0,83.2 L47.6,83.3 L48.2,83.4 L48.8,83.5 L49.3,83.7 L49.9,83.8 L50.5,83.9 L51.1,84.0 L51.7,84.1 L52.3,84.2 L52.9,84.4 L53.5,84.5 L54.1,84.6 L54.7,84.7 L55.2,84.9 L55.8,85.0 L56.4,85.1 L57.0,85.2 L57.6,85.4 L58.2,85.5 L58.8,85.6 L59.4,85.8 L59.9,85.9 L60.5,86.0 L61.1,86.1 L61.7,86.3 L62.3,86.4 L62.9,86.6 L63.5,86.7 L64.0,86.8 L64.6,87.0 L65.2,87.1 L65.8,87.3 L66.4,87.4 L67.0,87.6 L67.5,87.7 L68.1,87.9 L68.7,88.0 L69.3,88.2 L69.9,88.3 L70.5,88.5 L71.0,88.6 L71.6,88.8 L72.2,89.0 L72.8,89.1 L73.4,89.3 L73.9,89.4 L74.5,89.6 L75.1,89.8 L75.7,90.0 L76.2,90.1 L76.8,90.3 L77.4,90.5 L78.0,90.6 L78.5,90.8 L79.1,91.0 L79.7,91.2 L80.3,91.4 L80.8,91.6 L81.4,91.8 L82.0,92.0 L82.5,92.2 L83.1,92.4 L83.7,92.6 L84.2,92.8 L84.8,93.0 L85.3,93.2 L85.9,93.5 L86.5,93.7 L87.0,93.9 L87.6,94.1 L88.1,94.4 L88.7,94.6 L89.2,94.8 L89.8,95.1 L90.3,95.3 L90.9,95.6 L91.4,95.8 L92.0,96.0 L92.5,96.3 L93.1,96.5 L93.6,96.8 L94.2,97.0 L94.7,97.3 L95.3,97.6 L95.8,97.8 L96.4,98.1 L96.9,98.3 L97.4,98.6 L98.0,98.9 L98.5,99.1 L99.1,99.4 L99.6,99.7 L100.1,99.9 L100.7,100.2 L101.2,100.5 L101.8,100.7 L102.3,101.0 L102.8,101.3 L103.4,101.6 L103.9,101.8 L104.4,102.1 L105.0,102.4 L105.5,102.7 L106.0,102.9 L106.6,103.2 L107.1,103.5 L107.6,103.8 L108.1,104.1 L108.7,104.4 L109.2,104.7 L109.7,105.0 L110.2,105.3 L110.8,105.6 L111.3,105.9 L111.8,106.2 L112.3,106.5 L112.8,106.8 L113.3,107.1 L113.9,107.4 L114.4,107.7 L114.9,108.1 L115.4,108.4 L115.9,108.7 L116.4,109.1 L116.9,109.4 L117.4,109.7 L117.9,110.1 L118.4,110.4 L118.9,110.7 L119.4,111.1 L119.9,111.4 L120.4,111.8 L120.8,112.1 L121.3,112.5 L121.8,112.8 L122.3,113.2 L122.8,113.5 L123.3,113.9 L123.8,114.2 L124.3,114.6 L124.8,114.9 L125.2,115.3 L125.7,115.6 L126.2,116.0 L126.7,116.3 L127.2,116.7 L127.7,117.1 L128.2,117.4 L128.7,117.8 L129.1,118.1 L129.6,118.4 L130.1,118.8 L130.6,119.1 L131.1,119.5 L131.6,119.8 L132.1,120.2 L132.6,120.6 L133.1,120.9 L133.5,121.3 L134.0,121.6 L134.5,122.0 L135.0,122.3 L135.5,122.7 L136.0,123.0 L136.5,123.4 L137.0,123.7 L137.4,124.1 L137.9,124.4 L138.4,124.8 L138.9,125.1 L139.4,125.5 L139.9,125.8 L140.4,126.2 L140.9,126.5 L141.4,126.9 L141.9,127.2 L142.4,127.5 L142.9,127.9 L143.4,128.2 L143.9,128.5 L144.4,128.9 L144.9,129.2 L145.4,129.6 L145.9,129.9 L146.3,130.2 L146.8,130.6 L147.3,130.9 L147.8,131.2 L148.3,131.6 L148.8,131.9 L149.3,132.3 L149.8,132.6 L150.3,132.9 L150.8,133.3 L151.3,133.6 L151.8,134.0 L152.3,134.3 L152.8,134.7 L153.3,135.0 L153.7,135.4 L154.2,135.8 L154.7,136.1 L155.2,136.5 L155.7,136.8 L156.2,137.2 L156.6,137.6 L157.1,137.9 L157.6,138.3 L158.0,138.7 L158.5,139.1 L159.0,139.4 L159.5,139.8 L159.9,140.2 L160.4,140.6 L160.9,140.9 L161.3,141.3 L161.8,141.7 L162.3,142.1 L162.7,142.5 L163.2,142.8 L163.7,143.2 L164.1,143.6 L164.6,144.0 L165.0,144.4 L165.5,144.8 L166.0,145.1 L166.4,145.5 L166.9,145.9 L167.4,146.3 L167.8,146.7 L168.3,147.1 L168.8,147.4 L169.2,147.8 L169.7,148.2 L170.1,148.6 L170.6,149.0 L171.1,149.4 L171.5,149.8 L172.0,150.1 L172.4,150.5 L172.9,150.9 L173.4,151.3 L173.8,151.7 L174.3,152.1 L174.7,152.5 L175.2,152.9 L175.6,153.3 L176.1,153.7 L176.6,154.1 L177.0,154.4 L177.5,154.8 L177.9,155.2 L178.4,155.6 L178.8,156.0 L179.3,156.4 L179.8,156.8 L180.2,157.2 L180.7,157.6 L181.1,157.9 L181.6,158.3 L182.1,158.7 L182.5,159.1 L183.0,159.5 L183.5,159.9 L183.9,160.2 L184.4,160.6 L184.9,161.0 L185.3,161.4 L185.8,161.7 L186.3,162.1 L186.8,162.5 L187.2,162.9 L187.7,163.2 L188.2,163.6 L188.7,164.0 L189.1,164.3 L189.6,164.7 L190.1,165.0 L190.6,165.4 L191.1,165.8 L191.5,166.1 L192.0,166.5 L192.5,166.9 L193.0,167.2 L193.4,167.6 L193.9,168.0 L194.4,168.3 L194.9,168.7 L195.4,169.1 L195.8,169.4 L196.3,169.8 L196.8,170.2 L197.2,170.6 L197.7,170.9 L198.2,171.3 L198.7,171.7 L199.1,172.1 L199.6,172.5 L200.0,172.8 L200.5,173.2 L201.0,173.6 L201.4,174.0 L201.9,174.4 L202.3,174.8 L202.8,175.2 L203.2,175.6 L203.7,176.0 L204.1,176.4 L204.5,176.8 L205.0,177.2 L205.4,177.6 L205.9,178.1 L206.3,178.5 L206.7,178.9 L207.2,179.3 L207.6,179.7 L208.1,180.1 L208.5,180.5 L208.9,180.9 L209.4,181.4 L209.8,181.8 L210.2,182.2 L210.7,182.6 L211.1,183.0 L211.6,183.4 L212.0,183.8 L212.4,184.2 L212.9,184.6 L213.3,185.0 L213.8,185.4 L214.2,185.8 L214.7,186.3 L215.1,186.7 L215.6,187.0 L216.0,187.4 L216.5,187.8 L216.9,188.2 L217.4,188.6 L217.8,189.0 L218.3,189.4 L218.7,189.8 L219.2,190.2 L219.6,190.6 L220.1,191.0 L220.5,191.4 L221.0,191.8 L221.5,192.2 L221.9,192.6 L222.4,193.0 L222.8,193.4 L223.3,193.8 L223.7,194.2 L224.2,194.6 L224.6,195.0 L225.1,195.4 L225.5,195.8 L226.0,196.2 L226.4,196.6 L226.8,197.0 L227.3,197.4 L227.7,197.8 L228.2,198.2 L228.6,198.7 L229.0,199.1 L229.5,199.5 L229.9,199.9 L230.3,200.3 L230.8,200.7 L231.2,201.1 L231.7,201.5 L232.1,201.9 L232.6,202.3 L233.0,202.7 L233.5,203.1 L234.0,203.5 L234.5,203.8 L235.0,204.1 L235.5,204.4 L236.1,204.7 L236.6,204.9 L237.2,205.1 L237.8,205.3 L238.3,205.5 L238.8,205.8 L239.4,206.1 L239.9,206.4 L240.3,206.8 L240.8,207.1 L241.3,207.5 L241.7,207.9 L242.2,208.3 L242.6,208.7 L243.0,209.2 L243.5,209.6 L243.9,210.0 L244.3,210.4 L244.8,210.8 L245.0,211.1 L245.3,211.3 L245.5,211.6 L245.8,211.8 L246.0,212.1 L246.3,212.3 L246.5,212.6 L246.8,212.8 L247.0,213.1 L247.3,213.3 L247.5,213.6 L247.8,213.8 L248.0,214.1 L248.3,214.3 L248.5,214.6 L248.8,214.8 L249.0,215.1 L249.3,215.4 L249.5,215.7 L249.8,216.1 L250.0,216.4 L250.3,216.7 L250.5,217.0 L250.8,217.3 L251.0,217.6 L251.3,217.8 L251.5,218.1 L251.8,218.4 L252.0,218.6 L252.3,218.9 L252.5,219.2 L252.8,219.4 L253.0,219.7 L253.3,219.9 L253.5,220.2 L253.8,220.4 L254.0,220.7 L254.3,220.9 L254.5,221.2 L254.8,221.4 L255.0,221.7 L255.3,221.9 L255.5,222.1 L255.8,222.3 L256.1,222.6 L256.3,222.8 L256.6,223.0 L256.8,223.2 L257.1,223.4 L257.3,223.6 L257.6,223.8 L257.8,224.0 L258.1,224.2 L258.3,224.4 L258.6,224.6 L258.8,224.8 L259.1,225.5 L259.3,226.4 L259.6,227.4 L259.8,228.4 L260.1,229.0 L260.3,229.3 L260.6,229.5 L260.8,229.7 L261.1,230.0 L261.3,230.2 L261.6,230.4 L261.8,230.6 L262.1,230.8 L262.3,230.9 L262.6,231.1 L262.8,231.3 L263.1,231.5 L263.3,231.6 L263.6,231.8 L263.8,231.9 L264.1,232.1 L264.3,232.2 L264.6,232.4 L264.8,232.5 L265.1,232.6 L265.3,232.8 L265.6,232.9 L265.8,233.0 L266.1,233.1 L266.3,233.2 L266.6,233.3 L266.8,233.4 L267.1,233.5 L267.3,233.6 L267.6,233.7 L267.8,233.8 L268.1,233.9 L268.3,234.0 L268.6,234.2 L268.8,235.0 L269.1,236.3 L269.3,237.8 L269.6,239.2 L269.8,240.1 L270.1,240.4 L270.3,240.5 L270.6,240.6 L270.8,240.7 L271.1,240.8 L271.3,240.9 L271.6,241.0 L271.8,241.1 L272.1,241.2 L272.3,241.3 L272.6,241.4 L272.8,241.5 L273.1,241.6 L273.3,241.7 L273.6,241.8 L273.8,241.9 L274.1,242.0 L274.3,242.1 L274.6,242.2 L274.8,242.3 L275.1,242.4 L275.3,242.4 L275.6,242.5 L275.8,242.6 L276.1,242.7 L276.3,242.8 L276.6,242.8 L276.8,242.9 L277.1,243.0 L277.3,243.1 L277.6,243.1 L277.8,243.2 L278.1,243.3 L278.3,243.4 L278.6,244.1 L278.8,245.7 L279.1,247.5 L279.3,249.3 L279.6,250.6 L279.8,251.1 L280.1,251.1 L280.3,251.2 L280.6,251.3 L280.8,251.4 L281.1,251.5 L281.3,251.6 L281.6,251.6 L281.8,251.7 L282.1,251.8 L282.3,251.9 L282.6,251.9 L282.8,252.0 L283.1,252.1 L283.3,252.1 L283.6,252.2 L283.8,252.2 L284.1,252.3 L284.3,252.4 L284.6,252.4 L284.8,252.5 L285.1,252.5 L285.3,252.6 L285.6,252.6 L285.8,252.7 L286.1,252.7 L286.3,252.7 L286.6,252.8 L286.8,252.8 L287.1,252.9 L287.3,252.9 L287.6,252.9 L287.8,253.0 L288.1,253.0 L288.3,253.6 L288.6,255.0 L288.8,256.9 L289.1,258.8 L289.3,260.3 L289.6,260.9 L289.8,260.9 L290.1,261.0 L290.3,261.0 L290.6,261.1 L290.8,261.1 L291.1,261.2 L291.3,261.2 L291.6,261.3 L291.8,261.3 L292.1,261.3 L292.3,261.4 L292.6,261.4 L292.8,261.4 L293.1,261.4 L293.3,261.5 L293.6,261.5 L293.8,261.5 L294.1,261.6 L294.3,261.6 L294.6,261.6 L294.8,261.7 L295.1,261.7 L295.3,261.7 L295.6,261.7 L295.8,261.8 L296.1,261.8 L296.3,261.8 L296.6,261.9 L296.8,261.9 L297.1,261.9 L297.3,262.0 L297.6,262.0 L297.8,262.0 L298.1,262.4 L298.3,263.8 L298.6,265.6 L298.8,267.6 L299.1,269.2 L299.3,270.0 L299.6,270.1 L299.8,270.1 L300.1,270.1 L300.3,270.2 L300.6,270.2 L300.8,270.2 L301.1,270.2 L301.3,270.3 L301.6,270.3 L301.8,270.3 L302.1,270.4 L302.3,270.4 L302.6,270.4 L302.8,270.5 L303.1,270.5 L303.3,270.5 L303.6,270.5 L303.8,270.6 L304.1,270.6 L304.3,270.6 L304.6,270.7 L304.8,270.7 L305.1,270.7 L305.3,270.8 L305.6,270.8 L305.8,270.8 L306.1,270.8 L306.3,270.9 L306.6,270.9 L306.8,270.9 L307.1,271.0 L307.3,271.0 L307.6,271.0 L307.8,271.3 L308.1,272.6 L308.3,274.5 L308.6,276.6 L308.8,278.4 L309.1,279.5 L309.3,279.6 L309.6,279.6 L309.8,279.7 L310.1,279.7 L310.3,279.7 L310.6,279.8 L310.8,279.8 L311.1,279.8 L311.3,279.8 L311.6,279.9 L311.8,279.9 L312.1,279.9 L312.3,280.0 L312.6,280.0 L312.8,280.0 L313.1,280.1 L313.3,280.1 L313.6,280.1 L313.8,280.1 L314.1,280.2 L314.3,280.2 L314.6,280.2 L314.8,280.3 L315.1,280.3 L315.3,280.3 L315.6,280.4 L315.8,280.4 L316.1,280.4 L316.3,280.4 L316.6,280.5 L316.8,280.5 L317.1,280.5 L317.3,280.6 L317.6,280.7 L317.8,281.8 L318.1,283.7 L318.3,285.8 L318.6,287.8 L318.8,289.1 L319.1,289.4 L319.3,289.4 L319.6,289.4 L319.8,289.4 L320.1,289.5 L320.3,289.5 L320.6,289.5 L320.8,289.6 L321.1,289.6 L321.3,289.6 L321.6,289.7 L321.8,289.7 L322.1,289.7 L322.3,289.7 L322.6,289.8 L322.8,289.8 L323.1,289.8 L323.3,289.9 L323.6,289.9 L323.8,289.9 L324.1,290.0 L324.3,290.0 L324.6,290.0 L324.8,290.0 L325.1,290.1 L325.3,290.1 L325.6,290.1 L325.8,290.2 L326.1,290.2 L326.3,290.2 L326.6,290.3 L326.8,290.3 L327.1,290.3 L327.3,290.4 L327.6,291.2 L327.8,292.8 L328.1,294.7 L328.3,296.6 L328.6,297.9 L328.8,298.3 L329.1,298.4 L329.3,298.4 L329.6,298.4 L329.8,298.4 L330.1,298.5 L330.3,298.5 L330.6,298.5 L330.8,298.6 L331.1,298.6 L331.3,298.6 L331.6,298.7 L331.8,298.7 L332.1,298.7 L332.3,298.7 L332.6,298.8 L332.8,298.8 L333.1,298.8 L333.3,298.9 L333.6,298.9 L333.8,298.9 L334.1,299.0 L334.3,299.0 L334.6,299.0 L334.8,299.0 L335.1,299.1 L335.3,299.1 L335.6,299.1 L335.8,299.2 L336.1,299.2 L336.3,299.2 L336.6,299.3 L336.8,299.3 L337.1,299.3 L337.3,299.9 L337.6,301.4 L337.8,303.3 L338.1,305.2 L338.3,306.6 L338.6,307.3 L338.8,307.3 L339.1,307.3 L339.3,307.3 L339.6,307.4 L339.8,307.4 L340.1,307.4 L340.3,307.5 L340.6,307.5 L340.8,307.5 L341.1,307.6 L341.3,307.6 L341.6,307.6 L341.8,307.6 L342.1,307.7 L342.3,307.7 L342.6,307.7 L342.8,307.8 L343.1,307.8 L343.3,307.8 L343.6,307.9 L343.8,308.0 L344.1,308.1 L344.3,308.2 L344.6,308.3 L344.8,308.5 L345.6,312.3" stroke="#1a1a1a" stroke-opacity="0.6" stroke-width="0.65" fill="none"/>
<path d="M29.6,98.8 L29.9,98.8 L30.1,98.8 L30.4,98.8 L30.6,98.8 L30.9,98.8 L31.1,98.8 L31.4,98.8 L31.6,98.8 L31.9,98.8 L32.1,98.8 L32.4,98.8 L32.6,98.8 L32.9,98.8 L33.1,98.9 L33.4,98.9 L33.6,98.9 L33.9,98.9 L34.1,98.9 L34.4,98.9 L34.6,98.9 L34.9,98.9 L35.1,98.9 L35.4,98.9 L35.6,98.9 L35.9,98.9 L36.1,98.9 L36.4,98.9 L36.6,98.9 L36.9,98.9 L37.1,98.9 L37.4,98.9 L37.6,98.9 L37.9,98.9 L38.1,99.0 L38.4,99.0 L38.6,99.0 L38.9,99.0 L39.1,99.0 L39.4,99.0 L39.6,99.0 L39.9,99.0 L40.1,99.0 L40.4,99.0 L40.6,99.1 L40.9,99.1 L41.1,99.1 L41.4,99.1 L41.6,99.1 L41.9,99.1 L42.1,99.2 L42.4,99.2 L42.6,99.2 L42.9,99.2 L43.1,99.2 L43.4,99.3 L43.6,99.3 L43.9,99.3 L44.1,99.3 L44.4,99.3 L44.6,99.4 L44.9,99.4 L45.1,99.4 L45.4,99.4 L45.6,99.5 L45.9,99.5 L46.1,99.5 L46.4,99.6 L46.6,99.6 L46.9,99.6 L47.1,99.6 L47.4,99.7 L47.6,99.7 L47.9,99.7 L48.1,99.8 L48.4,99.8 L48.6,99.8 L48.9,99.8 L49.1,99.9 L49.4,99.9 L49.6,99.9 L49.9,100.0 L50.1,100.0 L50.4,100.0 L50.6,100.1 L50.9,100.1 L51.1,100.1 L51.4,100.2 L51.6,100.2 L51.9,100.2 L52.1,100.3 L52.4,100.3 L52.6,100.3 L52.9,100.4 L53.1,100.4 L53.4,100.5 L53.6,100.5 L53.9,100.5 L54.1,100.6 L54.4,100.6 L54.6,100.7 L54.9,100.7 L55.1,100.7 L55.4,100.8 L55.6,100.8 L55.9,100.9 L56.1,100.9 L56.4,100.9 L56.6,101.0 L56.9,101.0 L57.1,101.1 L57.4,101.1 L57.6,101.2 L57.9,101.2 L58.1,101.2 L58.4,101.3 L58.6,101.3 L58.9,101.4 L59.1,101.4 L59.4,101.5 L59.6,101.5 L59.9,101.6 L60.1,101.6 L60.4,101.7 L60.6,101.7 L60.9,101.8 L61.1,101.8 L61.4,101.9 L61.6,101.9 L61.9,102.0 L62.1,102.0 L62.4,102.1 L62.6,102.1 L62.9,102.2 L63.1,102.2 L63.4,102.3 L63.6,102.3 L63.9,102.4 L64.1,102.4 L64.3,102.5 L64.6,102.5 L64.8,102.6 L65.1,102.7 L65.3,102.7 L65.6,102.8 L65.8,102.8 L66.1,102.9 L66.3,102.9 L66.6,103.0 L66.8,103.0 L67.1,103.1 L67.3,103.2 L67.6,103.2 L67.8,103.3 L68.1,103.3 L68.3,103.4 L68.6,103.5 L68.8,103.5 L69.1,103.6 L69.3,103.6 L69.6,103.7 L69.8,103.8 L70.1,103.8 L70.3,103.9 L70.6,103.9 L70.8,104.0 L71.1,104.1 L71.3,104.1 L71.6,104.2 L71.8,104.3 L72.1,104.3 L72.3,104.4 L72.6,104.5 L72.8,104.5 L73.1,104.6 L73.3,104.7 L73.6,104.7 L73.8,104.8 L74.1,104.9 L74.3,104.9 L74.6,105.0 L74.8,105.1 L75.1,105.1 L75.3,105.2 L75.6,105.3 L75.8,105.3 L76.1,105.4 L76.3,105.5 L76.6,105.6 L76.8,105.6 L77.1,105.7 L77.3,105.8 L77.6,105.8 L77.8,105.9 L78.1,106.0 L78.3,106.1 L78.6,106.1 L78.8,106.2 L79.1,106.3 L79.3,106.4 L79.6,106.5 L79.8,106.5 L80.1,106.6 L80.3,106.7 L80.6,106.8 L80.8,106.8 L81.1,106.9 L81.3,107.0 L81.6,107.1 L81.8,107.2 L82.1,107.2 L82.3,107.3 L82.6,107.4 L82.8,107.5 L83.1,107.6 L83.3,107.7 L83.6,107.7 L83.8,107.8 L84.1,107.9 L84.3,108.0 L84.6,108.1 L84.8,108.1 L85.1,108.2 L85.3,108.3 L85.6,108.4 L85.8,108.5 L86.1,108.6 L86.3,108.6 L86.6,108.7 L86.8,108.8 L87.1,108.9 L87.3,109.0 L87.6,109.1 L87.8,109.1 L88.1,109.2 L88.3,109.3 L88.6,109.4 L88.8,109.5 L89.1,109.6 L89.3,109.6 L89.6,109.7 L89.8,109.8 L90.1,109.9 L90.3,110.0 L90.6,110.1 L90.8,110.2 L91.1,110.2 L91.3,110.3 L91.6,110.4 L91.8,110.5 L92.1,110.6 L92.3,110.7 L92.6,110.8 L92.8,110.9 L93.1,110.9 L93.3,111.0 L93.6,111.1 L93.8,111.2 L94.1,111.3 L94.3,111.4 L94.6,111.5 L94.8,111.6 L95.1,111.7 L95.3,111.8 L95.6,111.9 L95.8,112.0 L96.1,112.1 L96.3,112.2 L96.6,112.3 L96.8,112.4 L97.1,112.5 L97.3,112.6 L97.6,112.7 L97.8,112.8 L98.1,112.9 L98.3,113.0 L98.6,113.1 L98.8,113.2 L99.1,113.3 L99.3,113.4 L99.6,113.6 L99.8,113.7 L100.1,113.8 L100.3,113.9 L100.6,114.0 L100.8,114.2 L101.1,114.3 L101.3,114.4 L101.6,114.5 L101.8,114.7 L102.1,114.8 L102.3,114.9 L102.6,115.0 L102.8,115.2 L103.1,115.3 L103.3,115.4 L103.6,115.6 L103.8,115.7 L104.1,115.9 L104.3,116.0 L104.6,116.1 L104.8,116.3 L105.1,116.4 L105.3,116.5 L105.6,116.7 L105.8,116.8 L106.1,117.0 L106.3,117.1 L106.6,117.2 L106.8,117.4 L107.1,117.5 L107.3,117.7 L107.6,117.8 L107.8,117.9 L108.1,118.1 L108.3,118.2 L108.6,118.4 L108.8,118.5 L109.1,118.7 L109.3,118.8 L109.6,118.9 L109.8,119.1 L110.1,119.3 L110.3,119.5 L110.6,119.6 L110.8,119.8 L111.1,120.0 L111.3,120.1 L111.6,120.2 L111.8,120.4 L112.1,120.5 L112.3,120.7 L112.6,120.8 L112.8,120.9 L113.1,121.1 L113.3,121.2 L113.6,121.3 L113.8,121.5 L114.1,121.6 L114.3,121.7 L114.6,121.9 L114.8,122.0 L115.1,122.1 L115.3,122.3 L115.6,122.4 L115.8,122.5 L116.1,122.7 L116.3,122.8 L116.6,122.9 L116.8,123.1 L117.1,123.2 L117.3,123.3 L117.6,123.4 L117.8,123.6 L118.1,123.7 L118.3,123.8 L118.6,124.0 L118.8,124.1 L119.1,124.2 L119.3,124.3 L119.6,124.5 L119.8,124.7 L120.1,124.9 L120.3,125.1 L120.6,125.3 L120.8,125.4 L121.1,125.5 L121.3,125.7 L121.6,125.8 L121.8,125.9 L122.1,126.1 L122.3,126.2 L122.6,126.3 L122.8,126.4 L123.1,126.6 L123.3,126.7 L123.6,126.8 L123.8,127.0 L124.1,127.1 L124.3,127.2 L124.6,127.3 L124.8,127.5 L125.1,127.6 L125.3,127.7 L125.6,127.8 L125.8,128.0 L126.1,128.1 L126.3,128.2 L126.6,128.3 L126.8,128.5 L127.1,128.6 L127.3,128.7 L127.6,128.8 L127.8,129.0 L128.1,129.1 L128.3,129.2 L128.6,129.3 L128.8,129.4 L129.1,129.6 L129.3,129.7 L129.6,129.9 L129.8,130.2 L130.1,130.4 L130.3,130.6 L130.6,130.7 L130.8,130.8 L131.1,131.0 L131.3,131.1 L131.6,131.2 L131.8,131.3 L132.1,131.4 L132.3,131.5 L132.6,131.7 L132.8,131.8 L133.1,131.9 L133.3,132.0 L133.6,132.1 L133.8,132.2 L134.1,132.3 L134.3,132.5 L134.6,132.6 L134.8,132.7 L135.1,132.8 L135.3,132.9 L135.6,133.0 L135.8,133.1 L136.1,133.3 L136.3,133.4 L136.6,133.5 L136.8,133.6 L137.1,133.7 L137.3,133.8 L137.6,134.0 L137.8,134.1 L138.1,134.2 L138.3,134.3 L138.6,134.5 L138.8,134.6 L139.1,134.8 L139.3,135.0 L139.6,135.3 L139.8,135.6 L140.1,135.8 L140.3,136.0 L140.6,136.2 L140.8,136.3 L141.1,136.4 L141.3,136.6 L141.6,136.7 L141.8,136.8 L142.1,137.0 L142.3,137.1 L142.6,137.2 L142.8,137.4 L143.1,137.5 L143.3,137.6 L143.6,137.8 L143.8,137.9 L144.1,138.0 L144.3,138.2 L144.6,138.3 L144.8,138.4 L145.1,138.6 L145.3,138.7 L145.6,138.8 L145.8,139.0 L146.1,139.1 L146.3,139.3 L146.6,139.4 L146.8,139.5 L147.1,139.7 L147.3,139.8 L147.6,139.9 L147.8,140.1 L148.1,140.2 L148.3,140.3 L148.6,140.5 L148.8,140.6 L149.1,140.9 L149.3,141.3 L149.6,141.7 L149.8,142.1 L150.1,142.3 L150.3,142.4 L150.6,142.6 L150.8,142.7 L151.1,142.9 L151.3,143.0 L151.6,143.1 L151.8,143.3 L152.1,143.4 L152.3,143.6 L152.6,143.7 L152.8,143.8 L153.1,144.0 L153.3,144.1 L153.6,144.2 L153.8,144.4 L154.1,144.5 L154.3,144.7 L154.6,144.8 L154.8,144.9 L155.1,145.1 L155.3,145.2 L155.6,145.3 L155.8,145.5 L156.1,145.6 L156.3,145.8 L156.6,145.9 L156.8,146.0 L157.1,146.2 L157.3,146.3 L157.6,146.4 L157.8,146.6 L158.1,146.7 L158.3,146.9 L158.6,147.0 L158.8,147.4 L159.1,147.8 L159.3,148.3 L159.6,148.8 L159.8,149.1 L160.1,149.2 L160.3,149.4 L160.6,149.5 L160.8,149.7 L161.1,149.8 L161.3,150.0 L161.6,150.1 L161.8,150.2 L162.1,150.4 L162.3,150.5 L162.6,150.7 L162.8,150.8 L163.1,150.9 L163.3,151.1 L163.6,151.2 L163.8,151.4 L164.1,151.5 L164.3,151.6 L164.6,151.8 L164.8,151.9 L165.1,152.0 L165.3,152.2 L165.6,152.3 L165.8,152.5 L166.1,152.6 L166.3,152.7 L166.6,152.9 L166.8,153.0 L167.1,153.1 L167.3,153.3 L167.6,153.4 L167.8,153.5 L168.1,153.7 L168.3,153.8 L168.6,154.2 L168.8,154.6 L169.1,155.2 L169.3,155.7 L169.6,156.1 L169.8,156.3 L170.1,156.4 L170.3,156.6 L170.6,156.7 L170.8,156.8 L171.1,157.0 L171.3,157.1 L171.6,157.2 L171.8,157.4 L172.1,157.5 L172.3,157.6 L172.6,157.7 L172.8,157.9 L173.1,158.0 L173.3,158.1 L173.6,158.3 L173.8,158.4 L174.1,158.5 L174.3,158.7 L174.6,158.8 L174.8,158.9 L175.1,159.0 L175.3,159.2 L175.6,159.3 L175.8,159.4 L176.1,159.6 L176.3,159.7 L176.6,159.8 L176.8,159.9 L177.1,160.1 L177.3,160.2 L177.6,160.3 L177.8,160.4 L178.1,160.6 L178.3,160.9 L178.6,161.4 L178.8,162.0 L179.1,162.5 L179.3,163.0 L179.6,163.2 L179.8,163.3 L180.1,163.5 L180.3,163.6 L180.6,163.7 L180.8,163.8 L181.1,164.0 L181.3,164.1 L181.6,164.2 L181.8,164.4 L182.1,164.5 L182.3,164.6 L182.6,164.7 L182.8,164.9 L183.1,165.0 L183.3,165.1 L183.6,165.2 L183.8,165.4 L184.1,165.5 L184.3,165.6 L184.6,165.7 L184.8,165.9 L185.1,166.0 L185.3,166.1 L185.6,166.2 L185.8,166.4 L186.1,166.5 L186.3,166.6 L186.6,166.7 L186.8,166.8 L187.1,167.0 L187.3,167.1 L187.6,167.2 L187.8,167.3 L188.1,167.6 L188.3,168.1 L188.6,168.7 L188.8,169.3 L189.1,169.8 L189.3,170.1 L189.6,170.2 L189.8,170.3 L190.1,170.5 L190.3,170.6 L190.6,170.7 L190.8,170.8 L191.1,171.0 L191.3,171.1 L191.6,171.2 L191.8,171.3 L192.1,171.4 L192.3,171.6 L192.6,171.7 L192.8,171.8 L193.1,171.9 L193.3,172.1 L193.6,172.2 L193.8,172.3 L194.1,172.4 L194.3,172.5 L194.6,172.7 L194.8,172.8 L195.1,172.9 L195.3,173.0 L195.6,173.2 L195.8,173.3 L196.1,173.4 L196.3,173.5 L196.6,173.7 L196.8,173.8 L197.1,173.9 L197.3,174.0 L197.6,174.2 L197.8,174.4 L198.1,175.0 L198.3,175.7 L198.6,176.5 L198.8,177.2 L199.1,177.6 L199.3,177.7 L199.6,177.9 L199.8,178.0 L200.1,178.1 L200.3,178.3 L200.6,178.4 L200.8,178.6 L201.1,178.7 L201.3,178.9 L201.6,179.0 L201.8,179.1 L202.1,179.3 L202.3,179.4 L202.6,179.6 L202.8,179.7 L203.1,179.9 L203.3,180.0 L203.6,180.2 L203.8,180.3 L204.1,180.5 L204.3,180.6 L204.6,180.8 L204.8,181.0 L205.1,181.1 L205.3,181.3 L205.6,181.4 L205.8,181.6 L206.1,181.7 L206.3,181.9 L206.6,182.0 L206.8,182.2 L207.1,182.3 L207.3,182.5 L207.6,182.7 L207.8,183.3 L208.1,184.2 L208.3,185.2 L208.6,186.0 L208.8,186.6 L209.1,186.8 L209.3,186.9 L209.6,187.1 L209.8,187.2 L210.1,187.4 L210.3,187.5 L210.6,187.6 L210.8,187.8 L211.1,187.9 L211.3,188.1 L211.6,188.2 L211.8,188.4 L212.1,188.5 L212.3,188.6 L212.6,188.8 L212.8,188.9 L213.1,189.1 L213.3,189.2 L213.6,189.3 L213.8,189.5 L214.1,189.6 L214.3,189.7 L214.6,189.9 L214.8,190.0 L215.1,190.2 L215.3,190.3 L215.6,190.4 L215.8,190.6 L216.1,190.7 L216.3,190.8 L216.6,191.0 L216.8,191.1 L217.1,191.2 L217.3,191.4 L217.6,192.0 L217.8,192.8 L218.1,193.7 L218.3,194.6 L218.6,195.2 L218.8,195.5 L219.1,195.6 L219.3,195.7 L219.6,195.9 L219.8,196.0 L220.1,196.2 L220.3,196.3 L220.6,196.4 L220.8,196.6 L221.1,196.7 L221.3,196.8 L221.6,197.0 L221.8,197.1 L222.1,197.3 L222.3,197.4 L222.6,197.5 L222.8,197.7 L223.1,197.8 L223.3,197.9 L223.6,198.1 L223.8,198.2 L224.1,198.3 L224.3,198.5 L224.6,198.6 L224.8,198.7 L225.1,198.9 L225.3,199.0 L225.6,199.1 L225.8,199.3 L226.1,199.4 L226.3,199.5 L226.6,199.7 L226.8,199.8 L227.1,199.9 L227.3,200.4 L227.6,201.2 L227.8,202.2 L228.1,203.2 L228.3,203.9 L228.6,204.2 L228.8,204.3 L229.1,204.5 L229.3,204.6 L229.6,204.7 L229.8,204.9 L230.1,205.0 L230.3,205.1 L230.6,205.3 L230.8,205.4 L231.1,205.5 L231.3,205.6 L231.6,205.8 L231.8,205.9 L232.1,206.0 L232.3,206.2 L232.6,206.3 L232.8,206.4 L233.1,206.6 L233.3,206.7 L233.6,206.8 L233.8,207.0 L234.1,207.1 L234.3,207.2 L234.6,207.3 L234.8,207.5 L235.1,207.6 L235.3,207.7 L235.6,207.9 L235.8,208.0 L236.1,208.1 L236.3,208.2 L236.6,208.4 L236.8,208.5 L237.1,208.9 L237.3,209.7 L237.6,210.7 L237.8,211.7 L238.1,212.5 L238.3,212.9 L238.6,213.0 L238.8,213.1 L239.1,213.3 L239.3,213.4 L239.6,213.5 L239.8,213.7 L240.1,213.8 L240.3,213.9 L240.6,214.0 L240.8,214.2 L241.1,214.3 L241.3,214.4 L241.6,214.5 L241.8,214.7 L242.1,214.8 L242.3,214.9 L242.6,215.1 L242.8,215.2 L243.1,215.3 L243.3,215.4 L243.6,215.6 L243.8,215.7 L244.1,215.8 L244.3,215.9 L244.6,216.1 L244.8,216.2 L245.1,216.3 L245.3,216.4 L245.6,216.6 L245.8,216.7 L246.1,216.8 L246.3,216.9 L246.6,217.0 L246.8,217.4 L247.1,218.2 L247.3,219.2 L247.6,220.4 L247.8,221.3 L248.1,221.9 L248.3,222.0 L248.6,222.1 L248.8,222.3 L249.1,222.4 L249.3,222.5 L249.6,222.7 L249.8,222.8 L250.1,222.9 L250.3,223.0 L250.6,223.2 L250.8,223.3 L251.1,223.4 L251.3,223.5 L251.6,223.7 L251.8,223.8 L252.1,223.9 L252.3,224.0 L252.6,224.2 L252.8,224.3 L253.1,224.4 L253.3,224.5 L253.6,224.6 L253.8,224.8 L254.1,224.9 L254.3,225.0 L254.6,225.1 L254.8,225.2 L255.1,225.3 L255.3,225.4 L255.6,225.6 L255.8,225.7 L256.1,225.8 L256.4,225.9 L256.6,226.1 L256.9,226.9 L257.1,228.1 L257.4,229.4 L257.6,230.6 L257.9,231.3 L258.1,231.5 L258.4,231.6 L258.6,231.7 L258.9,231.8 L259.1,231.9 L259.4,232.1 L259.6,232.2 L259.9,232.3 L260.1,232.4 L260.4,232.5 L260.6,232.6 L260.9,232.7 L261.1,232.8 L261.4,232.9 L261.6,233.0 L261.9,233.1 L262.1,233.3 L262.4,233.4 L262.6,233.5 L262.9,233.6 L263.1,233.7 L263.4,233.8 L263.6,233.9 L263.9,234.0 L264.1,234.1 L264.4,234.2 L264.6,234.3 L264.9,234.4 L265.1,234.5 L265.4,234.5 L265.6,234.6 L265.9,234.7 L266.1,234.8 L266.4,235.0 L266.6,235.8 L266.9,237.1 L267.1,238.6 L267.4,240.0 L267.6,240.9 L267.9,241.2 L268.1,241.3 L268.4,241.4 L268.6,241.5 L268.9,241.6 L269.1,241.7 L269.4,241.8 L269.6,241.9 L269.9,242.0 L270.1,242.1 L270.4,242.2 L270.6,242.3 L270.9,242.4 L271.1,242.5 L271.4,242.6 L271.6,242.7 L271.9,242.8 L272.1,242.9 L272.4,243.0 L272.6,243.1 L272.9,243.2 L273.1,243.2 L273.4,243.3 L273.6,243.4 L273.9,243.5 L274.1,243.6 L274.4,243.6 L274.6,243.7 L274.9,243.8 L275.1,243.9 L275.4,243.9 L275.6,244.0 L275.9,244.1 L276.1,244.2 L276.4,244.9 L276.6,246.5 L276.9,248.3 L277.1,250.1 L277.4,251.4 L277.6,251.9 L277.9,251.9 L278.1,252.0 L278.4,252.1 L278.6,252.2 L278.9,252.3 L279.1,252.4 L279.4,252.4 L279.6,252.5 L279.9,252.6 L280.1,252.7 L280.4,252.7 L280.6,252.8 L280.9,252.9 L281.1,252.9 L281.4,253.0 L281.6,253.0 L281.9,253.1 L282.1,253.2 L282.4,253.2 L282.6,253.3 L282.9,253.3 L283.1,253.4 L283.4,253.4 L283.6,253.5 L283.9,253.5 L284.1,253.5 L284.4,253.6 L284.6,253.6 L284.9,253.7 L285.1,253.7 L285.4,253.7 L285.6,253.8 L285.9,253.8 L286.1,254.4 L286.4,255.8 L286.6,257.7 L286.9,259.6 L287.1,261.1 L287.4,261.7 L287.6,261.7 L287.9,261.8 L288.1,261.8 L288.4,261.9 L288.6,261.9 L288.9,262.0 L289.1,262.0 L289.4,262.1 L289.6,262.1 L289.9,262.1 L290.1,262.2 L290.4,262.2 L290.6,262.2 L290.9,262.2 L291.1,262.3 L291.4,262.3 L291.6,262.3 L291.9,262.4 L292.1,262.4 L292.4,262.4 L292.6,262.5 L292.9,262.5 L293.1,262.5 L293.4,262.5 L293.6,262.6 L293.9,262.6 L294.1,262.6 L294.4,262.7 L294.6,262.7 L294.9,262.7 L295.1,262.8 L295.4,262.8 L295.6,262.8 L295.9,263.2 L296.1,264.6 L296.4,266.4 L296.6,268.4 L296.9,270.0 L297.1,270.8 L297.4,270.9 L297.6,270.9 L297.9,270.9 L298.1,271.0 L298.4,271.0 L298.6,271.0 L298.9,271.0 L299.1,271.1 L299.4,271.1 L299.6,271.1 L299.9,271.2 L300.1,271.2 L300.4,271.2 L300.6,271.3 L300.9,271.3 L301.1,271.3 L301.4,271.3 L301.6,271.4 L301.9,271.4 L302.1,271.4 L302.4,271.5 L302.6,271.5 L302.9,271.5 L303.1,271.6 L303.4,271.6 L303.6,271.6 L303.9,271.6 L304.1,271.7 L304.4,271.7 L304.6,271.7 L304.9,271.8 L305.1,271.8 L305.4,271.8 L305.6,272.1 L305.9,273.4 L306.1,275.3 L306.4,277.4 L306.6,279.2 L306.9,280.3 L307.1,280.4 L307.4,280.4 L307.6,280.5 L307.9,280.5 L308.1,280.5 L308.4,280.6 L308.6,280.6 L308.9,280.6 L309.1,280.6 L309.4,280.7 L309.6,280.7 L309.9,280.7 L310.1,280.8 L310.4,280.8 L310.6,280.8 L310.9,280.9 L311.1,280.9 L311.4,280.9 L311.6,280.9 L311.9,281.0 L312.1,281.0 L312.4,281.0 L312.6,281.1 L312.9,281.1 L313.1,281.1 L313.4,281.2 L313.6,281.2 L313.9,281.2 L314.1,281.2 L314.4,281.3 L314.6,281.3 L314.9,281.3 L315.1,281.4 L315.4,281.5 L315.6,282.6 L315.9,284.5 L316.1,286.6 L316.4,288.6 L316.6,289.9 L316.9,290.2 L317.1,290.2 L317.4,290.2 L317.6,290.2 L317.9,290.3 L318.1,290.3 L318.4,290.3 L318.6,290.4 L318.9,290.4 L319.1,290.4 L319.4,290.5 L319.6,290.5 L319.9,290.5 L320.1,290.5 L320.4,290.6 L320.6,290.6 L320.9,290.6 L321.1,290.7 L321.4,290.7 L321.6,290.7 L321.9,290.8 L322.1,290.8 L322.4,290.8 L322.6,290.8 L322.9,290.9 L323.1,290.9 L323.4,290.9 L323.6,291.0 L323.9,291.0 L324.1,291.0 L324.4,291.1 L324.6,291.1 L324.9,291.1 L325.1,291.2 L325.4,292.0 L325.6,293.6 L325.9,295.5 L326.1,297.4 L326.4,298.7 L326.6,299.1 L326.9,299.2 L327.1,299.2 L327.4,299.2 L327.6,299.2 L327.9,299.3 L328.1,299.3 L328.4,299.3 L328.6,299.4 L328.9,299.4 L329.1,299.4 L329.4,299.5 L329.6,299.5 L329.9,299.5 L330.1,299.5 L330.4,299.6 L330.6,299.6 L330.9,299.6 L331.1,299.7 L331.4,299.7 L331.6,299.7 L331.9,299.8 L332.1,299.8 L332.4,299.8 L332.6,299.8 L332.9,299.9 L333.1,299.9 L333.4,299.9 L333.6,300.0 L333.9,300.0 L334.1,300.0 L334.4,300.1 L334.6,300.1 L334.9,300.1 L335.1,300.7 L335.4,302.2 L335.6,304.1 L335.9,306.0 L336.1,307.4 L336.4,308.1 L336.6,308.1 L336.9,308.1 L337.1,308.1 L337.4,308.2 L337.6,308.2 L337.9,308.2 L338.1,308.3 L338.4,308.3 L338.6,308.3 L338.9,308.4 L339.1,308.4 L339.4,308.4 L339.6,308.4 L339.9,308.5 L340.1,308.5 L340.4,308.5 L340.6,308.6 L340.9,308.6 L341.1,308.6 L341.4,308.7 L341.6,308.8 L341.9,308.9 L342.1,309.0 L342.4,309.1 L342.6,309.3 L342.9,309.4 L343.1,309.6 L343.4,309.8 L343.6,310.1 L343.9,310.3 L344.1,310.6 L344.4,310.9 L344.6,311.2 L344.9,311.5 L345.1,311.9 L345.6,312.3" stroke="#1a1a1a" stroke-opacity="0.6" stroke-width="0.65" fill="none"/></g>
<path d="M27.9,16.3 L28.5,16.3 L29.3,16.3 L30.2,16.4 L31.2,16.4 L32.3,16.4 L33.5,16.5 L34.6,16.6 L35.8,16.7 L36.9,16.8 L38.1,17.0 L39.3,17.1 L40.5,17.3 L41.8,17.5 L43.1,17.7 L44.5,18.0 L46.0,18.3 L47.6,18.6 L49.2,19.0 L50.9,19.4 L52.7,19.8 L54.5,20.2 L56.3,20.7 L58.0,21.2 L59.7,21.8 L61.3,22.4 L62.9,23.1 L64.5,23.8 L66.1,24.5 L67.6,25.3 L69.2,26.1 L70.7,26.9 L72.3,27.8 L73.9,28.7 L75.4,29.6 L77.0,30.6 L78.6,31.6 L80.1,32.6 L81.7,33.6 L83.2,34.7 L84.7,35.8 L86.2,36.9 L87.7,38.1 L89.2,39.3 L90.7,40.5 L92.2,41.7 L93.6,42.9 L95.0,44.1 L96.4,45.3 L97.7,46.5 L99.0,47.6 L100.2,48.8 L101.4,50.0 L102.6,51.1 L103.8,52.3 L105.0,53.5 L106.2,54.7 L107.4,55.9 L108.7,57.2 L110.0,58.5 L111.2,59.8 L112.5,61.1 L113.7,62.4 L115.0,63.7 L116.2,65.0 L117.4,66.3 L118.6,67.6 L119.8,68.8 L121.0,70.1 L122.2,71.4 L123.4,72.7 L124.6,74.0 L125.8,75.3 L127.0,76.6 L128.1,77.9 L129.3,79.3 L130.4,80.6 L131.6,82.0 L132.7,83.3 L133.8,84.7 L135.0,86.0 L136.2,87.3 L137.3,88.7 L138.5,90.0 L139.7,91.3 L140.9,92.6 L142.0,94.0 L143.2,95.3 L144.3,96.7 L145.4,98.1 L146.5,99.6 L147.5,101.0 L148.6,102.5 L149.6,104.0 L150.6,105.4 L151.7,106.9 L152.8,108.3 L153.9,109.7 L155.1,111.1 L156.2,112.4 L157.4,113.8 L158.6,115.2 L159.7,116.5 L160.9,117.9 L162.0,119.3 L163.1,120.7 L164.2,122.2 L165.3,123.7 L166.3,125.2 L167.4,126.7 L168.5,128.1 L169.5,129.6 L170.6,131.0 L171.7,132.4 L172.7,133.7 L173.8,135.0 L174.8,136.3 L175.9,137.5 L176.9,138.8 L177.9,140.1 L179.0,141.5 L180.1,142.9 L181.1,144.3 L182.2,145.8 L183.2,147.3 L184.3,148.8 L185.3,150.2 L186.4,151.7 L187.5,153.2 L188.6,154.7 L189.7,156.2 L190.8,157.7 L192.0,159.2 L193.1,160.7 L194.3,162.2 L195.4,163.6 L196.5,165.0 L197.6,166.3 L198.7,167.6 L199.8,168.8 L200.9,170.0 L202.0,171.2 L203.1,172.5 L204.2,173.7 L205.3,175.0 L206.4,176.4 L207.5,177.7 L208.6,179.2 L209.8,180.6 L210.9,182.0 L212.0,183.5 L213.1,184.9 L214.2,186.3 L215.3,187.7 L216.4,189.1 L217.5,190.4 L218.6,191.8 L219.7,193.1 L220.8,194.5 L221.9,195.8 L223.0,197.2 L224.1,198.6 L225.2,199.9 L226.2,201.3 L227.3,202.6 L228.4,204.0 L229.4,205.3 L230.5,206.7 L231.6,208.0 L232.7,209.3 L233.8,210.7 L234.8,212.0 L235.9,213.3 L237.0,214.7 L238.1,216.0 L239.2,217.3 L240.3,218.7 L241.4,220.1 L242.5,221.4 L243.7,222.8 L244.8,224.2 L245.9,225.6 L247.1,227.0 L248.3,228.4 L249.5,229.8 L250.8,231.2 L252.0,232.7 L253.4,234.2 L254.7,235.7 L256.0,237.1 L257.4,238.6 L258.7,240.1 L260.0,241.5 L261.3,242.9 L262.5,244.3 L263.8,245.7 L265.0,247.1 L266.2,248.4 L267.5,249.8 L268.7,251.2 L270.0,252.5 L271.3,253.9 L272.6,255.2 L274.0,256.6 L275.3,257.9 L276.6,259.2 L278.0,260.5 L279.3,261.8 L280.5,263.0 L281.7,264.1 L282.9,265.2 L284.0,266.3 L285.1,267.3 L286.2,268.3 L287.3,269.3 L288.4,270.3 L289.6,271.3 L290.8,272.4 L292.0,273.4 L293.1,274.5 L294.3,275.5 L295.6,276.6 L296.8,277.7 L298.1,278.7 L299.5,279.8 L300.9,280.9 L302.5,282.0 L304.0,283.1 L305.6,284.2 L307.2,285.3 L308.8,286.3 L310.4,287.4 L312.0,288.5 L313.5,289.6 L315.0,290.6 L316.5,291.6 L318.0,292.7 L319.5,293.7 L321.0,294.7 L322.5,295.7 L324.0,296.8 L325.5,297.9 L327.0,299.0 L328.5,300.1 L330.0,301.2 L331.5,302.3 L332.9,303.4 L334.4,304.5 L335.8,305.5 L337.3,306.6 L338.8,307.7 L340.4,308.8 L341.9,309.9 L343.4,310.9 L344.7,311.8 L345.8,312.6 L346.6,313.2" fill="none" stroke="#800080" stroke-width="3.3" stroke-dasharray="9.4,4.8"/>
<path d="M29.60,318.6v-3.3M29.60,3.3v3.3M39.67,318.6v-2.0M39.67,3.3v2.0M49.74,318.6v-2.0M49.74,3.3v2.0M59.81,318.6v-2.0M59.81,3.3v2.0M69.89,318.6v-3.3M69.89,3.3v3.3M79.96,318.6v-2.0M79.96,3.3v2.0M90.03,318.6v-2.0M90.03,3.3v2.0M100.10,318.6v-2.0M100.10,3.3v2.0M110.17,318.6v-3.3M110.17,3.3v3.3M120.24,318.6v-2.0M120.24,3.3v2.0M130.31,318.6v-2.0M130.31,3.3v2.0M140.38,318.6v-2.0M140.38,3.3v2.0M150.46,318.6v-3.3M150.46,3.3v3.3M160.53,318.6v-2.0M160.53,3.3v2.0M170.60,318.6v-2.0M170.60,3.3v2.0M180.67,318.6v-2.0M180.67,3.3v2.0M190.74,318.6v-3.3M190.74,3.3v3.3M200.81,318.6v-2.0M200.81,3.3v2.0M210.88,318.6v-2.0M210.88,3.3v2.0M220.96,318.6v-2.0M220.96,3.3v2.0M231.03,318.6v-3.3M231.03,3.3v3.3M241.10,318.6v-2.0M241.10,3.3v2.0M251.17,318.6v-2.0M251.17,3.3v2.0M261.24,318.6v-2.0M261.24,3.3v2.0M271.31,318.6v-3.3M271.31,3.3v3.3M281.38,318.6v-2.0M281.38,3.3v2.0M291.45,318.6v-2.0M291.45,3.3v2.0M301.53,318.6v-2.0M301.53,3.3v2.0M311.60,318.6v-3.3M311.60,3.3v3.3M321.67,318.6v-2.0M321.67,3.3v2.0M331.74,318.6v-2.0M331.74,3.3v2.0M341.81,318.6v-2.0M341.81,3.3v2.0M29.6,312.70h3.3M346.0,312.70h-3.3M29.6,297.52h2.0M346.0,297.52h-2.0M29.6,282.35h2.0M346.0,282.35h-2.0M29.6,267.17h2.0M346.0,267.17h-2.0M29.6,252.00h3.3M346.0,252.00h-3.3M29.6,236.82h2.0M346.0,236.82h-2.0M29.6,221.65h2.0M346.0,221.65h-2.0M29.6,206.47h2.0M346.0,206.47h-2.0M29.6,191.30h3.3M346.0,191.30h-3.3M29.6,176.12h2.0M346.0,176.12h-2.0M29.6,160.95h2.0M346.0,160.95h-2.0M29.6,145.77h2.0M346.0,145.77h-2.0M29.6,130.60h3.3M346.0,130.60h-3.3M29.6,115.42h2.0M346.0,115.42h-2.0M29.6,100.25h2.0M346.0,100.25h-2.0M29.6,85.07h2.0M346.0,85.07h-2.0M29.6,69.90h3.3M346.0,69.90h-3.3M29.6,54.72h2.0M346.0,54.72h-2.0M29.6,39.55h2.0M346.0,39.55h-2.0M29.6,24.38h2.0M346.0,24.38h-2.0M29.6,9.20h3.3M346.0,9.20h-3.3" stroke="#000" stroke-width="0.9" fill="none"/>
<rect x="29.6" y="3.3" width="316.4" height="315.3" fill="none" stroke="#000" stroke-width="1.5"/>
<g clip-path="url(#ct)"><rect x="29.6" y="335.3" width="316.4" height="303.49999999999994" fill="#D95E30"/>
<path d="M92.2,335.3 L92.6,335.7 L93.1,336.1 L93.5,336.6 L93.9,337.0 L94.3,337.4 L94.8,337.8 L95.2,338.3 L95.6,338.7 L96.1,339.1 L96.5,339.5 L96.9,339.9 L97.3,340.4 L97.8,340.8 L98.2,341.2 L98.6,341.6 L99.1,342.0 L99.5,342.5 L99.9,342.9 L100.4,343.3 L100.8,343.7 L101.2,344.1 L101.6,344.6 L102.1,345.0 L102.5,345.4 L102.9,345.8 L103.3,346.3 L103.8,346.7 L104.2,347.1 L104.6,347.5 L105.0,348.0 L105.5,348.4 L105.9,348.8 L106.3,349.3 L106.7,349.7 L107.1,350.1 L107.6,350.5 L108.0,351.0 L108.4,351.4 L108.8,351.9 L109.2,352.3 L109.6,352.7 L110.0,353.2 L110.5,353.6 L110.9,354.0 L111.3,354.5 L111.7,354.9 L112.1,355.4 L112.5,355.8 L112.9,356.3 L113.3,356.7 L113.7,357.2 L114.1,357.6 L114.5,358.1 L114.9,358.5 L115.3,359.0 L115.7,359.4 L116.0,359.9 L116.4,360.3 L116.8,360.8 L117.2,361.3 L117.6,361.7 L118.0,362.2 L118.4,362.6 L118.8,363.1 L119.2,363.6 L119.5,364.0 L119.9,364.5 L120.3,364.9 L120.7,365.4 L121.1,365.9 L121.5,366.3 L121.8,366.8 L122.2,367.3 L122.6,367.7 L123.0,368.2 L123.4,368.7 L123.7,369.1 L124.1,369.6 L124.5,370.1 L124.9,370.6 L125.2,371.0 L125.6,371.5 L126.0,372.0 L126.3,372.4 L126.7,372.9 L127.1,373.4 L127.4,373.9 L127.8,374.4 L128.2,374.8 L128.5,375.3 L128.9,375.8 L129.2,376.3 L129.6,376.8 L130.0,377.2 L130.3,377.7 L130.7,378.2 L131.0,378.7 L131.4,379.2 L131.8,379.7 L132.1,380.1 L132.5,380.6 L132.8,381.1 L133.2,381.6 L133.5,382.1 L133.9,382.6 L134.2,383.1 L134.6,383.5 L134.9,384.0 L135.3,384.5 L135.6,385.0 L136.0,385.5 L136.3,386.0 L136.7,386.5 L137.0,387.0 L137.4,387.5 L137.7,387.9 L138.1,388.4 L138.4,388.9 L138.8,389.4 L139.1,389.9 L139.5,390.4 L139.8,390.9 L140.1,391.4 L140.5,391.9 L140.8,392.4 L141.2,392.9 L141.5,393.4 L141.8,393.9 L142.2,394.4 L142.5,394.9 L142.9,395.4 L143.2,395.9 L143.5,396.3 L143.9,396.8 L144.2,397.3 L144.6,397.8 L144.9,398.3 L145.2,398.8 L145.6,399.3 L145.9,399.8 L146.2,400.3 L146.6,400.8 L146.9,401.3 L147.3,401.8 L147.6,402.3 L147.9,402.8 L148.3,403.3 L148.6,403.8 L148.9,404.3 L149.3,404.8 L149.6,405.3 L149.9,405.8 L150.3,406.3 L150.6,406.8 L151.0,407.3 L151.3,407.8 L151.6,408.3 L152.0,408.8 L152.3,409.3 L152.6,409.8 L153.0,410.3 L153.3,410.8 L153.6,411.3 L154.0,411.8 L154.3,412.3 L154.6,412.8 L155.0,413.3 L155.3,413.8 L155.6,414.3 L156.0,414.8 L156.3,415.3 L156.6,415.8 L157.0,416.3 L157.3,416.8 L157.6,417.3 L158.0,417.8 L158.3,418.3 L158.6,418.8 L159.0,419.3 L159.3,419.8 L159.6,420.3 L159.9,420.8 L160.3,421.3 L160.6,421.8 L160.9,422.3 L161.3,422.8 L161.6,423.3 L161.9,423.8 L162.3,424.3 L162.6,424.8 L162.9,425.3 L163.3,425.8 L163.6,426.3 L163.9,426.8 L164.3,427.3 L164.6,427.8 L164.9,428.3 L165.2,428.8 L165.6,429.3 L165.9,429.8 L166.2,430.4 L166.6,430.9 L166.9,431.4 L167.2,431.9 L167.6,432.4 L167.9,432.9 L168.2,433.4 L168.6,433.9 L168.9,434.4 L169.2,434.9 L169.5,435.4 L169.9,435.9 L170.2,436.4 L170.5,436.9 L170.9,437.4 L171.2,437.9 L171.5,438.4 L171.8,438.9 L172.2,439.4 L172.5,439.9 L172.8,440.4 L173.2,440.9 L173.5,441.4 L173.8,441.9 L174.1,442.4 L174.5,442.9 L174.8,443.4 L175.1,444.0 L175.4,444.5 L175.7,445.0 L176.1,445.5 L176.4,446.0 L176.7,446.5 L177.0,447.0 L177.4,447.5 L177.7,448.0 L178.0,448.5 L178.3,449.0 L178.6,449.5 L179.0,450.0 L179.3,450.6 L179.6,451.1 L179.9,451.6 L180.2,452.1 L180.6,452.6 L180.9,453.1 L181.2,453.6 L181.5,454.1 L181.8,454.6 L182.1,455.1 L182.5,455.7 L182.8,456.2 L183.1,456.7 L183.4,457.2 L183.7,457.7 L184.1,458.2 L184.4,458.7 L184.7,459.2 L185.0,459.7 L185.3,460.2 L185.7,460.8 L186.0,461.3 L186.3,461.8 L186.6,462.3 L186.9,462.8 L187.3,463.3 L187.6,463.8 L187.9,464.3 L188.2,464.8 L188.5,465.3 L188.9,465.8 L189.2,466.3 L189.5,466.8 L189.8,467.4 L190.2,467.9 L190.5,468.4 L190.8,468.9 L191.1,469.4 L191.4,469.9 L191.8,470.4 L192.1,470.9 L192.4,471.4 L192.7,471.9 L193.1,472.4 L193.4,472.9 L193.7,473.4 L194.0,473.9 L194.4,474.5 L194.7,475.0 L195.0,475.5 L195.3,476.0 L195.6,476.5 L196.0,477.0 L196.3,477.5 L196.6,478.0 L196.9,478.5 L197.3,479.0 L197.6,479.5 L197.9,480.0 L198.2,480.5 L198.5,481.1 L198.9,481.6 L199.2,482.1 L199.5,482.6 L199.8,483.1 L200.1,483.6 L200.5,484.1 L200.8,484.6 L201.1,485.1 L201.4,485.6 L201.8,486.1 L202.1,486.6 L202.4,487.1 L202.7,487.7 L203.1,488.2 L203.4,488.7 L203.7,489.2 L204.0,489.7 L204.3,490.2 L204.7,490.7 L205.0,491.2 L205.3,491.7 L205.6,492.2 L206.0,492.7 L206.3,493.2 L206.6,493.7 L206.9,494.2 L207.3,494.7 L207.6,495.3 L207.9,495.8 L208.2,496.3 L208.6,496.8 L208.9,497.3 L209.2,497.8 L209.5,498.3 L209.9,498.8 L210.2,499.3 L210.5,499.8 L210.9,500.3 L211.2,500.8 L211.5,501.3 L211.8,501.8 L212.2,502.3 L212.5,502.8 L212.8,503.3 L213.2,503.8 L213.5,504.3 L213.8,504.8 L214.2,505.3 L214.5,505.8 L214.8,506.3 L215.2,506.8 L215.5,507.3 L215.8,507.8 L216.2,508.3 L216.5,508.8 L216.9,509.3 L217.2,509.8 L217.6,510.3 L217.9,510.7 L218.3,511.2 L218.7,511.7 L219.0,512.2 L219.4,512.6 L219.8,513.1 L220.2,513.6 L220.6,514.0 L221.0,514.5 L221.4,514.9 L221.8,515.3 L222.3,515.7 L222.7,516.1 L223.2,516.5 L223.6,517.0 L224.0,517.4 L224.4,517.8 L224.8,518.3 L225.2,518.7 L225.6,519.2 L226.0,519.7 L226.4,520.1 L226.8,520.6 L227.1,521.0 L227.5,521.5 L227.9,522.0 L228.3,522.4 L228.7,522.9 L229.1,523.3 L229.5,523.8 L229.8,524.3 L230.2,524.7 L230.6,525.2 L231.0,525.6 L231.4,526.1 L231.8,526.6 L232.2,527.0 L232.5,527.5 L232.9,528.0 L233.3,528.4 L233.7,528.9 L234.1,529.3 L234.5,529.8 L234.9,530.3 L235.2,530.7 L235.6,531.2 L236.0,531.6 L236.4,532.1 L236.8,532.6 L237.2,533.0 L237.6,533.5 L238.0,533.9 L238.3,534.4 L238.7,534.9 L239.1,535.3 L239.5,535.8 L239.9,536.2 L240.3,536.7 L240.7,537.2 L241.0,537.6 L241.4,538.1 L241.8,538.6 L242.2,539.0 L242.6,539.5 L243.0,539.9 L243.3,540.4 L243.7,540.9 L244.1,541.4 L244.5,541.8 L244.8,542.3 L245.2,542.8 L245.6,543.2 L245.9,543.7 L246.3,544.2 L246.7,544.7 L247.0,545.1 L247.4,545.6 L247.8,546.1 L248.1,546.6 L248.5,547.1 L248.9,547.5 L249.2,548.0 L249.6,548.5 L249.9,549.0 L250.3,549.5 L250.7,549.9 L251.0,550.4 L251.4,550.9 L251.7,551.4 L252.1,551.9 L252.5,552.4 L252.8,552.8 L253.2,553.3 L253.5,553.8 L253.9,554.3 L254.2,554.8 L254.6,555.3 L254.9,555.8 L255.3,556.2 L255.6,556.7 L256.0,557.2 L256.3,557.7 L256.7,558.2 L257.0,558.7 L257.3,559.2 L257.7,559.7 L258.0,560.2 L258.3,560.7 L258.7,561.2 L259.0,561.7 L259.4,562.2 L259.8,562.7 L260.1,563.1 L260.5,563.6 L260.8,564.1 L261.2,564.6 L261.6,565.1 L261.9,565.5 L262.3,566.0 L262.6,566.5 L263.0,567.0 L263.4,567.5 L263.7,567.9 L264.1,568.4 L264.5,568.9 L264.9,569.3 L265.3,569.8 L265.7,570.3 L266.0,570.7 L266.4,571.2 L266.8,571.6 L267.2,572.1 L267.7,572.5 L268.1,572.9 L268.4,573.4 L268.8,573.9 L269.1,574.4 L269.5,574.9 L269.8,575.4 L270.2,575.9 L270.5,576.4 L270.9,576.8 L271.4,577.3 L271.8,577.7 L272.3,578.1 L272.7,578.5 L273.2,578.8 L273.7,579.2 L274.1,579.6 L274.6,580.0 L275.1,580.3 L275.6,580.7 L276.1,581.1 L276.5,581.4 L277.0,581.8 L277.5,582.1 L278.0,582.5 L278.5,582.9 L278.9,583.4 L279.2,583.9 L279.4,584.5 L279.7,585.1 L280.0,585.6 L280.3,586.2 L280.5,586.8 L281.0,587.2 L281.5,587.6 L281.9,587.9 L282.4,588.3 L282.9,588.7 L283.4,589.0 L283.9,589.4 L284.4,589.8 L284.9,590.1 L285.3,590.5 L285.8,590.9 L286.3,591.2 L286.8,591.6 L287.3,591.9 L287.8,592.3 L288.3,592.7 L288.8,593.0 L289.2,593.5 L289.4,594.1 L289.7,594.7 L289.9,595.3 L290.2,595.9 L290.4,596.5 L290.6,597.1 L291.0,597.6 L291.5,598.0 L292.0,598.3 L292.4,598.7 L292.9,599.0 L293.4,599.4 L293.9,599.8 L294.4,600.1 L294.9,600.5 L295.4,600.8 L295.9,601.2 L296.4,601.5 L296.9,601.9 L297.4,602.2 L297.9,602.6 L298.4,602.9 L298.9,603.3 L299.4,603.6 L299.7,604.2 L299.9,604.8 L300.1,605.4 L300.4,606.1 L300.6,606.7 L300.8,607.4 L301.0,608.0 L301.5,608.3 L302.0,608.7 L302.5,609.0 L303.0,609.3 L303.6,609.7 L304.1,610.0 L304.6,610.3 L305.1,610.7 L305.6,611.0 L306.2,611.3 L306.7,611.6 L307.2,611.9 L307.8,612.3 L308.3,612.6 L308.8,612.9 L309.3,613.3 L309.9,613.6 L310.1,614.2 L310.3,614.9 L310.5,615.5 L310.6,616.2 L310.8,616.9 L311.0,617.6 L311.1,618.2 L311.6,618.6 L312.2,619.0 L312.7,619.3 L313.2,619.6 L313.8,619.9 L314.3,620.2 L314.9,620.4 L315.5,620.7 L316.0,621.0 L316.6,621.2 L317.2,621.4 L317.8,621.6 L318.4,621.9 L318.9,622.1 L319.5,622.3 L320.1,622.5 L320.4,623.1 L320.6,623.9 L320.9,624.6 L321.1,625.3 L321.3,626.0 L321.6,626.7 L322.2,626.9 L322.8,627.1 L323.4,627.3 L324.0,627.5 L324.6,627.6 L325.2,627.8 L325.8,628.0 L326.4,628.1 L327.0,628.3 L327.6,628.4 L328.2,628.6 L328.9,628.7 L329.5,628.8 L330.0,629.0 L330.4,629.6 L330.5,630.7 L331.0,631.0 L337.5,631.5 L337.8,631.3 L338.2,630.9 L338.7,630.6 L339.3,630.1 L339.8,629.7 L340.4,629.2 L340.8,628.7 L341.2,628.2 L341.5,627.7 L341.7,627.2 L341.9,626.6 L342.1,626.0 L342.2,625.4 L342.3,624.8 L342.3,624.2 L342.2,623.6 L342.1,623.0 L341.8,622.3 L341.6,621.6 L341.2,620.9 L340.9,620.2 L340.5,619.5 L340.0,618.8 L339.6,618.2 L339.1,617.6 L338.6,617.0 L338.0,616.4 L337.4,615.9 L336.8,615.3 L336.2,614.8 L335.7,614.1 L335.2,613.5 L334.8,612.8 L334.4,612.1 L334.0,611.4 L333.7,610.6 L333.3,609.8 L333.0,609.0 L332.8,608.2 L332.5,607.4 L332.3,606.6 L332.1,605.7 L332.0,604.9 L331.9,604.0 L331.7,603.1 L331.6,602.2 L331.5,601.3 L331.3,600.5 L331.1,599.7 L330.9,598.8 L330.7,597.9 L330.5,597.1 L330.2,596.3 L330.0,595.5 L329.6,594.7 L329.3,594.0 L328.9,593.4 L328.4,592.8 L328.0,592.3 L327.4,591.9 L326.9,591.4 L326.4,590.9 L325.9,590.3 L325.4,589.7 L324.9,589.0 L324.5,588.2 L324.0,587.3 L323.5,586.5 L323.1,585.6 L322.7,584.6 L322.3,583.7 L322.0,582.8 L321.8,581.9 L321.6,581.0 L321.4,580.1 L321.3,579.2 L321.3,578.2 L321.2,577.2 L321.1,576.1 L321.0,575.0 L320.9,573.8 L320.8,572.4 L320.7,571.0 L320.7,569.6 L320.6,568.1 L320.4,566.7 L320.2,565.3 L320.0,564.0 L319.7,562.8 L319.3,561.6 L318.8,560.5 L318.4,559.4 L317.9,558.4 L317.4,557.3 L316.9,556.2 L316.5,555.0 L316.1,553.9 L315.7,552.8 L315.4,551.8 L315.1,550.8 L314.7,549.6 L314.4,548.3 L314.0,546.8 L313.6,545.0 L313.2,543.0 L312.7,540.8 L312.2,538.5 L311.7,536.0 L311.3,533.3 L310.8,530.3 L310.4,527.2 L310.1,523.8 L309.8,520.2 L309.6,516.5 L309.4,512.5 L309.3,508.3 L309.2,503.9 L309.1,499.2 L309.0,494.2 L309.0,488.8 L309.0,483.3 L309.0,477.7 L309.0,472.0 L309.1,465.9 L309.1,459.4 L309.2,452.1 L309.4,444.0 L309.5,435.0 L309.7,424.1 L309.9,411.0 L310.2,396.6 L310.5,381.8 L310.8,367.4 L311.0,354.3 L311.2,343.3 L311.4,335.3Z" fill="#EEC16D"/>
<path d="M29.6,413.8 L30.4,413.9 L31.4,413.9 L32.7,414.0 L34.1,414.1 L35.5,414.1 L37.1,414.3 L38.6,414.4 L40.0,414.6 L41.4,414.8 L42.9,415.0 L44.4,415.3 L46.0,415.6 L47.5,415.9 L49.0,416.2 L50.5,416.6 L51.9,417.0 L53.3,417.5 L54.6,418.0 L55.9,418.5 L57.2,419.1 L58.4,419.7 L59.7,420.3 L60.9,420.9 L62.0,421.5 L63.1,422.1 L64.2,422.7 L65.3,423.4 L66.3,424.0 L67.3,424.6 L68.3,425.3 L69.2,425.9 L70.0,426.5 L70.8,427.1 L71.5,427.7 L72.2,428.2 L72.8,428.8 L73.4,429.3 L73.9,429.9 L74.5,430.4 L75.0,431.0 L75.5,431.6 L76.0,432.1 L76.5,432.7 L77.0,433.3 L77.4,433.9 L77.8,434.5 L78.1,435.1 L78.3,435.7 L78.4,436.3 L78.5,436.9 L78.4,437.6 L78.3,438.2 L78.2,438.9 L78.0,439.5 L77.8,440.3 L77.6,441.0 L77.4,441.8 L77.1,442.6 L76.9,443.5 L76.6,444.3 L76.2,445.2 L75.9,446.1 L75.5,447.1 L75.0,448.0 L74.5,448.9 L74.0,449.9 L73.5,450.9 L72.9,451.8 L72.3,452.8 L71.6,453.9 L70.9,454.9 L70.0,456.0 L69.0,457.1 L67.9,458.4 L66.6,459.7 L65.3,460.9 L64.0,462.2 L62.7,463.4 L61.4,464.5 L60.2,465.5 L59.1,466.3 L58.1,467.1 L57.1,467.7 L56.2,468.3 L55.2,468.8 L54.2,469.3 L53.1,469.8 L51.9,470.3 L50.6,470.8 L49.1,471.3 L47.6,471.8 L46.1,472.3 L44.5,472.7 L43.0,473.1 L41.4,473.5 L40.0,473.8 L38.6,474.1 L37.1,474.3 L35.5,474.5 L34.1,474.6 L32.7,474.7 L31.4,474.8 L30.4,474.9 L29.6,475.0Z" fill="#EEC16D"/>
<path d="M130.5,335.3 L131.0,335.7 L131.5,335.9 L132.0,336.2 L132.5,336.6 L132.8,337.1 L133.2,337.6 L133.6,338.0 L133.9,338.5 L134.3,339.0 L134.6,339.5 L134.9,340.0 L135.3,340.5 L135.6,341.1 L135.9,341.6 L136.2,342.1 L136.5,342.6 L136.9,343.1 L137.2,343.6 L137.5,344.1 L137.8,344.6 L138.1,345.1 L138.4,345.7 L138.7,346.2 L139.1,346.7 L139.4,347.2 L139.7,347.7 L140.0,348.2 L140.3,348.7 L140.6,349.3 L140.9,349.8 L141.2,350.3 L141.5,350.8 L141.9,351.3 L142.2,351.8 L142.5,352.3 L142.8,352.9 L143.1,353.4 L143.4,353.9 L143.7,354.4 L144.0,354.9 L144.3,355.4 L144.6,356.0 L145.0,356.5 L145.3,357.0 L145.6,357.5 L145.9,358.0 L146.2,358.5 L146.5,359.1 L146.8,359.6 L147.1,360.1 L147.4,360.6 L147.7,361.1 L148.0,361.7 L148.3,362.2 L148.6,362.7 L148.9,363.2 L149.2,363.7 L149.5,364.3 L149.8,364.8 L150.1,365.3 L150.4,365.8 L150.7,366.3 L151.0,366.9 L151.3,367.4 L151.6,367.9 L151.9,368.4 L152.2,368.9 L152.5,369.5 L152.8,370.0 L153.1,370.5 L153.4,371.0 L153.7,371.6 L154.0,372.1 L154.3,372.6 L154.6,373.1 L154.9,373.7 L155.2,374.2 L155.5,374.7 L155.8,375.2 L156.0,375.8 L156.3,376.3 L156.6,376.8 L156.9,377.4 L157.2,377.9 L157.5,378.4 L157.8,378.9 L158.1,379.5 L158.3,380.0 L158.6,380.5 L158.9,381.1 L159.2,381.6 L159.5,382.1 L159.7,382.7 L160.0,383.2 L160.3,383.7 L160.6,384.3 L160.8,384.8 L161.1,385.3 L161.4,385.9 L161.6,386.4 L161.9,386.9 L162.2,387.5 L162.4,388.0 L162.7,388.6 L162.9,389.1 L163.2,389.7 L163.5,390.2 L163.7,390.8 L164.0,391.3 L164.2,391.8 L164.5,392.4 L164.7,392.9 L165.0,393.5 L165.2,394.0 L165.4,394.6 L165.7,395.1 L165.9,395.7 L166.2,396.2 L166.4,396.8 L166.6,397.4 L166.9,397.9 L167.1,398.5 L167.4,399.0 L167.6,399.6 L167.8,400.1 L168.0,400.7 L168.3,401.2 L168.5,401.8 L168.7,402.4 L168.9,402.9 L169.2,403.5 L169.4,404.0 L169.6,404.6 L169.9,405.1 L170.1,405.7 L170.3,406.3 L170.5,406.8 L170.7,407.4 L171.0,407.9 L171.2,408.5 L171.4,409.1 L171.6,409.6 L171.8,410.2 L172.1,410.7 L172.3,411.3 L172.5,411.8 L172.7,412.4 L173.0,413.0 L173.2,413.5 L173.4,414.1 L173.6,414.6 L173.8,415.2 L174.1,415.8 L174.3,416.3 L174.5,416.9 L174.7,417.4 L174.9,418.0 L175.2,418.6 L175.4,419.1 L175.6,419.7 L175.8,420.2 L176.1,420.8 L176.3,421.4 L176.5,421.9 L176.7,422.5 L177.0,423.0 L177.2,423.6 L177.4,424.1 L177.6,424.7 L177.9,425.3 L178.1,425.8 L178.3,426.4 L178.6,426.9 L178.8,427.5 L179.0,428.0 L179.3,428.6 L179.5,429.1 L179.8,429.7 L180.0,430.2 L180.3,430.8 L180.5,431.3 L180.8,431.9 L181.0,432.4 L181.3,433.0 L181.5,433.5 L181.8,434.1 L182.0,434.6 L182.3,435.1 L182.5,435.7 L182.8,436.2 L183.1,436.8 L183.3,437.3 L183.6,437.8 L183.9,438.4 L184.2,438.9 L184.4,439.4 L184.7,440.0 L185.0,440.5 L185.3,441.0 L185.5,441.6 L185.8,442.1 L186.1,442.6 L186.4,443.2 L186.7,443.7 L187.0,444.2 L187.2,444.8 L187.5,445.3 L187.8,445.8 L188.1,446.3 L188.4,446.9 L188.7,447.4 L189.0,447.9 L189.3,448.4 L189.6,449.0 L189.9,449.5 L190.2,450.0 L190.5,450.5 L190.8,451.0 L191.1,451.6 L191.4,452.1 L191.7,452.6 L192.0,453.1 L192.3,453.6 L192.6,454.1 L192.9,454.7 L193.3,455.2 L193.6,455.7 L193.9,456.2 L194.2,456.7 L194.5,457.2 L194.8,457.8 L195.1,458.3 L195.4,458.8 L195.7,459.3 L196.1,459.8 L196.4,460.3 L196.7,460.8 L197.0,461.4 L197.3,461.9 L197.6,462.4 L197.9,462.9 L198.2,463.4 L198.6,463.9 L198.9,464.4 L199.2,465.0 L199.5,465.5 L199.8,466.0 L200.1,466.5 L200.4,467.0 L200.7,467.5 L201.0,468.0 L201.3,468.6 L201.7,469.1 L202.0,469.6 L202.3,470.1 L202.6,470.6 L202.9,471.1 L203.2,471.7 L203.5,472.2 L203.8,472.7 L204.1,473.2 L204.4,473.7 L204.7,474.3 L205.0,474.8 L205.3,475.3 L205.6,475.8 L206.0,476.3 L206.3,476.8 L206.6,477.4 L206.9,477.9 L207.2,478.4 L207.5,478.9 L207.8,479.4 L208.1,479.9 L208.4,480.4 L208.7,481.0 L209.0,481.5 L209.4,482.0 L209.7,482.5 L210.0,483.0 L210.3,483.5 L210.6,484.1 L210.9,484.6 L211.2,485.1 L211.5,485.6 L211.8,486.1 L212.2,486.6 L212.5,487.1 L212.8,487.7 L213.1,488.2 L213.4,488.7 L213.7,489.2 L214.0,489.7 L214.3,490.2 L214.7,490.7 L215.0,491.3 L215.3,491.8 L215.6,492.3 L215.9,492.8 L216.2,493.3 L216.5,493.8 L216.9,494.3 L217.2,494.8 L217.5,495.4 L217.8,495.9 L218.1,496.4 L218.4,496.9 L218.7,497.4 L219.1,497.9 L219.4,498.4 L219.7,498.9 L220.0,499.4 L220.3,500.0 L220.6,500.5 L221.0,501.0 L221.3,501.5 L221.6,502.0 L221.9,502.5 L222.2,503.0 L222.6,503.5 L222.9,504.0 L223.2,504.5 L223.5,505.1 L223.8,505.6 L224.2,506.1 L224.5,506.6 L224.8,507.1 L225.1,507.6 L225.5,508.1 L225.8,508.6 L226.1,509.1 L226.4,509.6 L226.8,510.1 L227.1,510.6 L227.4,511.1 L227.8,511.6 L228.1,512.1 L228.4,512.6 L228.8,513.1 L229.1,513.6 L229.4,514.1 L229.8,514.6 L230.1,515.1 L230.5,515.6 L230.8,516.1 L231.1,516.6 L231.5,517.1 L231.8,517.6 L232.2,518.1 L232.5,518.6 L232.9,519.1 L233.2,519.5 L233.6,520.0 L233.9,520.5 L234.3,521.0 L234.6,521.5 L235.0,522.0 L235.3,522.5 L235.7,523.0 L236.0,523.5 L236.4,524.0 L236.7,524.4 L237.1,524.9 L237.4,525.4 L237.8,525.9 L238.2,526.4 L238.5,526.9 L238.9,527.3 L239.2,527.8 L239.6,528.3 L240.0,528.8 L240.4,529.2 L240.7,529.7 L241.1,530.2 L241.5,530.7 L241.9,531.1 L242.2,531.6 L242.6,532.1 L243.0,532.5 L243.3,533.0 L243.7,533.5 L244.1,534.0 L244.5,534.4 L244.8,534.9 L245.2,535.4 L245.6,535.9 L245.9,536.3 L246.3,536.8 L246.6,537.3 L247.0,537.8 L247.3,538.3 L247.7,538.8 L248.0,539.3 L248.3,539.8 L248.7,540.3 L249.0,540.8 L249.3,541.3 L249.6,541.8 L250.0,542.3 L250.3,542.8 L250.6,543.3 L250.9,543.9 L251.2,544.4 L251.5,544.9 L251.8,545.4 L252.1,545.9 L252.4,546.5 L252.7,547.0 L253.0,547.5 L253.3,548.0 L253.6,548.6 L253.9,549.1 L254.2,549.6 L254.5,550.1 L254.8,550.7 L255.1,551.2 L255.3,551.7 L255.6,552.2 L255.9,552.8 L256.2,553.3 L256.5,553.8 L256.8,554.3 L257.1,554.8 L257.4,555.4 L257.8,555.9 L258.1,556.4 L258.4,556.9 L258.7,557.4 L259.0,557.9 L259.4,558.4 L259.7,558.9 L260.0,559.4 L260.4,559.9 L260.7,560.4 L261.1,560.9 L261.5,561.3 L261.8,561.8 L262.2,562.3 L262.6,562.7 L263.0,563.2 L263.4,563.6 L263.9,564.0 L264.3,564.5 L264.7,564.9 L265.2,565.3 L265.6,565.7 L266.0,566.1 L266.5,566.5 L266.9,566.9 L267.4,567.3 L267.8,567.7 L268.3,568.2 L268.6,568.6 L269.0,569.1 L269.4,569.6 L269.8,570.0 L270.1,570.5 L270.5,571.0 L270.9,571.5 L271.3,571.9 L271.7,572.3 L272.1,572.8 L272.5,573.2 L273.0,573.6 L273.4,574.0 L273.8,574.5 L274.3,574.9 L274.7,575.3 L275.1,575.7 L275.6,576.1 L276.0,576.5 L276.5,577.0 L276.9,577.4 L277.4,577.8 L277.8,578.2 L278.2,578.6 L278.7,579.0 L279.0,579.6 L279.3,580.1 L279.6,580.6 L279.9,581.1 L280.2,581.7 L280.5,582.2 L280.9,582.7 L281.3,583.1 L281.8,583.5 L282.2,583.9 L282.6,584.3 L283.1,584.7 L283.5,585.2 L284.0,585.6 L284.4,586.0 L284.9,586.4 L285.3,586.8 L285.8,587.2 L286.3,587.6 L286.7,588.0 L287.2,588.4 L287.6,588.8 L288.1,589.2 L288.5,589.6 L289.0,590.0 L289.3,590.5 L289.5,591.1 L289.8,591.6 L290.1,592.2 L290.4,592.7 L290.7,593.3 L291.0,593.8 L291.5,594.2 L291.9,594.6 L292.4,595.0 L292.8,595.4 L293.3,595.8 L293.7,596.2 L294.2,596.6 L294.6,597.0 L295.1,597.4 L295.6,597.8 L296.0,598.2 L296.5,598.6 L296.9,599.0 L297.4,599.4 L297.9,599.8 L298.3,600.2 L298.8,600.5 L299.3,600.9 L299.5,601.5 L299.8,602.1 L300.1,602.6 L300.4,603.2 L300.6,603.8 L300.9,604.3 L301.2,604.9 L301.6,605.3 L302.0,605.7 L302.5,606.1 L303.0,606.5 L303.4,606.9 L303.9,607.3 L304.4,607.7 L304.9,608.0 L305.3,608.4 L305.8,608.8 L306.3,609.1 L306.8,609.5 L307.3,609.9 L307.8,610.2 L308.3,610.6 L308.8,610.9 L309.3,611.3 L309.7,611.7 L310.0,612.3 L310.2,612.9 L310.5,613.5 L310.8,614.0 L311.0,614.6 L311.3,615.2 L311.6,615.8 L312.0,616.1 L312.5,616.5 L313.0,616.9 L313.5,617.3 L314.0,617.6 L314.5,618.0 L315.0,618.3 L315.5,618.6 L316.1,619.0 L316.6,619.3 L317.1,619.5 L317.7,619.8 L318.2,620.1 L318.7,620.4 L319.3,620.6 L319.8,620.9 L320.2,621.4 L320.5,622.0 L320.8,622.6 L321.1,623.2 L321.5,623.8 L321.8,624.4 L322.3,624.6 L322.9,624.9 L323.5,625.1 L324.0,625.4 L324.6,625.6 L325.2,625.8 L325.8,626.1 L326.3,626.3 L326.9,626.5 L327.5,626.7 L328.1,626.8 L328.7,627.0 L329.3,627.2 L329.8,627.4 L330.3,627.8 L330.5,628.7 L331.0,629.0 L336.0,630.3 L336.3,630.1 L336.7,629.8 L337.2,629.5 L337.7,629.2 L338.3,628.8 L338.8,628.4 L339.2,628.0 L339.6,627.6 L339.9,627.2 L340.1,626.8 L340.4,626.3 L340.5,625.8 L340.7,625.4 L340.8,624.9 L340.8,624.3 L340.7,623.8 L340.6,623.2 L340.3,622.6 L340.1,622.0 L339.7,621.4 L339.3,620.7 L338.9,620.1 L338.5,619.4 L338.0,618.8 L337.5,618.2 L336.9,617.6 L336.3,617.1 L335.7,616.5 L335.0,615.9 L334.4,615.3 L333.8,614.7 L333.3,614.0 L332.8,613.3 L332.4,612.5 L331.9,611.7 L331.5,610.9 L331.2,610.0 L330.8,609.2 L330.5,608.3 L330.2,607.5 L330.0,606.7 L329.8,605.9 L329.6,605.0 L329.5,604.2 L329.4,603.4 L329.3,602.6 L329.2,601.8 L329.0,601.0 L328.8,600.2 L328.6,599.4 L328.4,598.6 L328.2,597.8 L327.9,597.0 L327.6,596.2 L327.3,595.5 L327.0,594.8 L326.6,594.1 L326.2,593.6 L325.7,593.0 L325.2,592.5 L324.7,591.9 L324.2,591.3 L323.7,590.7 L323.2,590.0 L322.7,589.2 L322.3,588.4 L321.8,587.6 L321.3,586.7 L320.9,585.8 L320.5,584.9 L320.1,583.9 L319.8,583.0 L319.6,582.1 L319.4,581.1 L319.3,580.2 L319.2,579.2 L319.1,578.3 L319.0,577.2 L318.9,576.2 L318.8,575.0 L318.7,573.8 L318.6,572.4 L318.5,571.0 L318.3,569.6 L318.2,568.1 L318.0,566.7 L317.8,565.3 L317.5,564.0 L317.1,562.8 L316.7,561.6 L316.1,560.5 L315.6,559.4 L315.0,558.4 L314.5,557.3 L314.0,556.2 L313.5,555.0 L313.1,553.9 L312.8,552.8 L312.5,551.8 L312.2,550.8 L311.9,549.6 L311.6,548.3 L311.3,546.8 L310.9,545.0 L310.5,543.0 L310.0,540.8 L309.4,538.5 L308.9,536.0 L308.4,533.3 L307.8,530.3 L307.3,527.2 L306.9,523.8 L306.5,520.2 L306.1,516.5 L305.7,512.5 L305.4,508.3 L305.1,503.9 L304.8,499.2 L304.5,494.2 L304.2,488.8 L304.0,483.3 L303.8,477.7 L303.6,472.0 L303.5,465.9 L303.3,459.4 L303.2,452.1 L303.0,444.0 L302.8,435.0 L302.6,424.1 L302.3,411.0 L302.0,396.6 L301.7,381.8 L301.4,367.4 L301.1,354.3 L300.9,343.3 L300.7,335.3Z" fill="#FAEAA0"/>
<path d="M168.6,335.3 L168.8,335.9 L169.0,336.4 L169.2,337.0 L169.4,337.6 L169.6,338.1 L169.8,338.7 L170.0,339.3 L170.2,339.8 L170.4,340.4 L170.6,341.0 L170.8,341.5 L171.0,342.1 L171.2,342.7 L171.4,343.2 L171.6,343.8 L171.9,344.4 L172.1,344.9 L172.3,345.5 L172.5,346.1 L172.7,346.6 L172.9,347.2 L173.1,347.8 L173.3,348.3 L173.5,348.9 L173.7,349.5 L173.9,350.0 L174.1,350.6 L174.3,351.2 L174.5,351.7 L174.7,352.3 L174.9,352.9 L175.1,353.4 L175.3,354.0 L175.5,354.5 L175.7,355.1 L175.9,355.7 L176.1,356.2 L176.3,356.8 L176.5,357.4 L176.7,357.9 L176.9,358.5 L177.1,359.1 L177.3,359.6 L177.6,360.2 L177.8,360.8 L178.0,361.3 L178.2,361.9 L178.4,362.5 L178.6,363.0 L178.8,363.6 L179.0,364.2 L179.2,364.7 L179.4,365.3 L179.6,365.9 L179.8,366.4 L180.0,367.0 L180.2,367.6 L180.4,368.1 L180.6,368.7 L180.8,369.3 L181.0,369.8 L181.2,370.4 L181.4,371.0 L181.6,371.5 L181.8,372.1 L182.0,372.7 L182.2,373.2 L182.4,373.8 L182.6,374.4 L182.8,374.9 L183.0,375.5 L183.2,376.1 L183.4,376.6 L183.6,377.2 L183.8,377.8 L184.0,378.3 L184.2,378.9 L184.4,379.5 L184.6,380.1 L184.8,380.6 L185.0,381.2 L185.2,381.8 L185.4,382.3 L185.6,382.9 L185.8,383.5 L186.0,384.0 L186.2,384.6 L186.4,385.2 L186.6,385.7 L186.8,386.3 L187.0,386.9 L187.2,387.4 L187.4,388.0 L187.6,388.6 L187.8,389.1 L187.9,389.7 L188.1,390.3 L188.3,390.9 L188.5,391.4 L188.7,392.0 L188.9,392.6 L189.1,393.1 L189.3,393.7 L189.5,394.3 L189.7,394.8 L189.9,395.4 L190.0,396.0 L190.2,396.6 L190.4,397.1 L190.6,397.7 L190.8,398.3 L191.0,398.9 L191.2,399.4 L191.3,400.0 L191.5,400.6 L191.7,401.1 L191.9,401.7 L192.1,402.3 L192.2,402.9 L192.4,403.4 L192.6,404.0 L192.8,404.6 L192.9,405.2 L193.1,405.7 L193.3,406.3 L193.5,406.9 L193.6,407.5 L193.8,408.1 L194.0,408.6 L194.2,409.2 L194.3,409.8 L194.5,410.4 L194.7,410.9 L194.8,411.5 L195.0,412.1 L195.2,412.7 L195.4,413.2 L195.5,413.8 L195.7,414.4 L195.9,415.0 L196.0,415.5 L196.2,416.1 L196.4,416.7 L196.6,417.3 L196.7,417.9 L196.9,418.4 L197.1,419.0 L197.2,419.6 L197.4,420.2 L197.6,420.7 L197.8,421.3 L197.9,421.9 L198.1,422.5 L198.3,423.0 L198.5,423.6 L198.6,424.2 L198.8,424.8 L199.0,425.3 L199.2,425.9 L199.4,426.5 L199.5,427.1 L199.7,427.6 L199.9,428.2 L200.1,428.8 L200.3,429.3 L200.5,429.9 L200.7,430.5 L200.8,431.1 L201.0,431.6 L201.2,432.2 L201.4,432.8 L201.6,433.3 L201.8,433.9 L202.0,434.5 L202.2,435.0 L202.4,435.6 L202.6,436.2 L202.8,436.7 L203.0,437.3 L203.3,437.9 L203.5,438.4 L203.7,439.0 L203.9,439.6 L204.1,440.1 L204.3,440.7 L204.5,441.2 L204.8,441.8 L205.0,442.4 L205.2,442.9 L205.4,443.5 L205.6,444.0 L205.9,444.6 L206.1,445.2 L206.3,445.7 L206.5,446.3 L206.8,446.8 L207.0,447.4 L207.2,447.9 L207.4,448.5 L207.7,449.1 L207.9,449.6 L208.1,450.2 L208.4,450.7 L208.6,451.3 L208.8,451.8 L209.1,452.4 L209.3,452.9 L209.6,453.5 L209.8,454.0 L210.0,454.6 L210.3,455.1 L210.5,455.7 L210.8,456.2 L211.0,456.8 L211.3,457.3 L211.5,457.9 L211.7,458.4 L212.0,459.0 L212.2,459.5 L212.5,460.1 L212.7,460.6 L213.0,461.2 L213.2,461.7 L213.5,462.3 L213.7,462.8 L213.9,463.4 L214.2,463.9 L214.4,464.5 L214.7,465.0 L214.9,465.6 L215.2,466.1 L215.4,466.7 L215.7,467.2 L215.9,467.8 L216.2,468.3 L216.4,468.9 L216.7,469.4 L216.9,470.0 L217.1,470.5 L217.4,471.1 L217.6,471.6 L217.9,472.2 L218.1,472.7 L218.4,473.3 L218.6,473.8 L218.9,474.4 L219.1,474.9 L219.4,475.4 L219.7,476.0 L219.9,476.5 L220.2,477.1 L220.4,477.6 L220.7,478.2 L220.9,478.7 L221.2,479.3 L221.4,479.8 L221.7,480.3 L222.0,480.9 L222.2,481.4 L222.5,482.0 L222.7,482.5 L223.0,483.1 L223.3,483.6 L223.5,484.1 L223.8,484.7 L224.0,485.2 L224.3,485.8 L224.6,486.3 L224.8,486.8 L225.1,487.4 L225.4,487.9 L225.6,488.5 L225.9,489.0 L226.2,489.5 L226.4,490.1 L226.7,490.6 L227.0,491.2 L227.2,491.7 L227.5,492.2 L227.8,492.8 L228.0,493.3 L228.3,493.8 L228.6,494.4 L228.9,494.9 L229.1,495.5 L229.4,496.0 L229.7,496.5 L230.0,497.1 L230.2,497.6 L230.5,498.1 L230.8,498.7 L231.1,499.2 L231.3,499.7 L231.6,500.3 L231.9,500.8 L232.2,501.3 L232.5,501.9 L232.7,502.4 L233.0,502.9 L233.3,503.5 L233.6,504.0 L233.9,504.5 L234.2,505.0 L234.5,505.6 L234.8,506.1 L235.0,506.6 L235.3,507.2 L235.6,507.7 L235.9,508.2 L236.2,508.7 L236.5,509.3 L236.8,509.8 L237.1,510.3 L237.4,510.8 L237.7,511.3 L238.0,511.9 L238.3,512.4 L238.6,512.9 L238.9,513.4 L239.2,513.9 L239.5,514.5 L239.8,515.0 L240.1,515.5 L240.4,516.0 L240.7,516.5 L241.0,517.1 L241.3,517.6 L241.7,518.1 L242.0,518.6 L242.3,519.1 L242.6,519.6 L242.9,520.1 L243.2,520.6 L243.6,521.2 L243.9,521.7 L244.2,522.2 L244.5,522.7 L244.8,523.2 L245.2,523.7 L245.5,524.2 L245.8,524.7 L246.1,525.2 L246.5,525.7 L246.8,526.2 L247.1,526.7 L247.4,527.2 L247.8,527.7 L248.1,528.2 L248.4,528.8 L248.8,529.3 L249.1,529.8 L249.4,530.3 L249.7,530.8 L250.1,531.3 L250.4,531.8 L250.7,532.3 L251.1,532.8 L251.4,533.3 L251.7,533.8 L252.0,534.3 L252.3,534.8 L252.7,535.3 L253.0,535.8 L253.3,536.3 L253.6,536.9 L253.9,537.4 L254.3,537.9 L254.6,538.4 L254.9,538.9 L255.2,539.4 L255.5,539.9 L255.8,540.5 L256.1,541.0 L256.4,541.5 L256.7,542.0 L257.0,542.6 L257.3,543.1 L257.6,543.6 L257.9,544.1 L258.2,544.7 L258.4,545.2 L258.7,545.7 L259.0,546.2 L259.3,546.8 L259.6,547.3 L259.9,547.8 L260.2,548.4 L260.5,548.9 L260.8,549.4 L261.1,549.9 L261.4,550.4 L261.7,551.0 L262.0,551.5 L262.3,552.0 L262.6,552.5 L262.9,553.0 L263.2,553.5 L263.6,554.0 L263.9,554.5 L264.2,555.0 L264.6,555.5 L264.9,556.0 L265.2,556.5 L265.6,557.0 L265.9,557.5 L266.3,558.0 L266.7,558.5 L267.0,559.0 L267.4,559.4 L267.7,559.9 L268.1,560.4 L268.4,560.9 L268.8,561.4 L269.1,561.9 L269.5,562.4 L269.8,562.9 L270.1,563.4 L270.5,563.9 L270.8,564.4 L271.2,564.9 L271.6,565.3 L271.9,565.8 L272.3,566.3 L272.7,566.7 L273.1,567.2 L273.5,567.6 L273.9,568.1 L274.3,568.5 L274.7,568.9 L275.2,569.4 L275.6,569.8 L276.0,570.2 L276.4,570.7 L276.9,571.1 L277.3,571.5 L277.7,571.9 L278.1,572.4 L278.5,572.8 L278.9,573.3 L279.2,573.8 L279.5,574.3 L279.9,574.9 L280.2,575.4 L280.5,575.9 L280.8,576.4 L281.2,576.8 L281.7,577.3 L282.1,577.7 L282.5,578.1 L282.9,578.6 L283.3,579.0 L283.8,579.4 L284.2,579.9 L284.6,580.3 L285.0,580.7 L285.4,581.2 L285.8,581.6 L286.3,582.0 L286.7,582.5 L287.1,582.9 L287.5,583.3 L288.0,583.8 L288.4,584.2 L288.8,584.6 L289.1,585.1 L289.4,585.7 L289.7,586.2 L290.1,586.7 L290.4,587.3 L290.7,587.8 L291.0,588.3 L291.4,588.8 L291.8,589.2 L292.2,589.6 L292.6,590.1 L293.1,590.5 L293.5,590.9 L293.9,591.3 L294.3,591.8 L294.8,592.2 L295.2,592.6 L295.6,593.0 L296.1,593.5 L296.5,593.9 L296.9,594.3 L297.3,594.7 L297.8,595.2 L298.2,595.6 L298.6,596.0 L299.1,596.4 L299.4,596.9 L299.7,597.5 L300.0,598.0 L300.3,598.6 L300.6,599.1 L300.8,599.7 L301.1,600.2 L301.5,600.7 L301.9,601.1 L302.3,601.6 L302.7,602.0 L303.2,602.4 L303.6,602.9 L304.0,603.3 L304.4,603.7 L304.9,604.1 L305.3,604.5 L305.8,605.0 L306.2,605.4 L306.6,605.8 L307.1,606.2 L307.5,606.6 L308.0,607.0 L308.4,607.4 L308.9,607.8 L309.4,608.2 L309.7,608.6 L310.0,609.2 L310.3,609.7 L310.7,610.3 L311.0,610.8 L311.3,611.3 L311.6,611.9 L312.1,612.2 L312.6,612.6 L313.1,613.0 L313.6,613.3 L314.1,613.7 L314.5,614.0 L315.1,614.4 L315.6,614.7 L316.1,615.0 L316.6,615.3 L317.1,615.6 L317.7,615.9 L318.2,616.2 L318.7,616.5 L319.3,616.8 L319.8,617.1 L320.1,617.6 L320.5,618.1 L320.9,618.7 L321.2,619.2 L321.6,619.7 L321.9,620.3 L322.4,620.6 L322.9,620.9 L323.5,621.2 L324.0,621.5 L324.5,621.8 L325.0,622.1 L325.6,622.4 L326.1,622.7 L326.6,623.1 L327.1,623.4 L327.6,623.7 L328.1,624.0 L328.7,624.4 L329.2,624.7 L329.6,625.1 L330.1,625.5 L330.4,626.0 L330.7,626.6 L331.1,627.1 L331.5,627.5 L334.5,629.5 L334.8,629.3 L335.2,629.1 L335.7,628.9 L336.2,628.6 L336.7,628.3 L337.2,628.0 L337.6,627.6 L338.0,627.3 L338.3,626.9 L338.6,626.6 L338.8,626.2 L339.0,625.8 L339.1,625.4 L339.2,624.9 L339.3,624.5 L339.2,624.0 L339.1,623.5 L338.8,623.0 L338.5,622.4 L338.2,621.8 L337.8,621.2 L337.3,620.6 L336.9,620.0 L336.4,619.4 L335.9,618.8 L335.3,618.2 L334.7,617.6 L334.1,617.0 L333.4,616.4 L332.8,615.7 L332.2,615.0 L331.6,614.3 L331.1,613.5 L330.6,612.7 L330.1,611.9 L329.6,611.0 L329.1,610.1 L328.7,609.3 L328.3,608.4 L328.0,607.6 L327.7,606.8 L327.6,606.0 L327.4,605.3 L327.3,604.5 L327.2,603.7 L327.1,603.0 L327.0,602.2 L326.8,601.5 L326.6,600.7 L326.4,600.0 L326.2,599.2 L326.0,598.5 L325.7,597.7 L325.4,597.0 L325.1,596.3 L324.8,595.6 L324.4,594.9 L324.0,594.3 L323.5,593.7 L323.0,593.2 L322.5,592.6 L322.0,591.9 L321.5,591.2 L321.0,590.5 L320.5,589.7 L320.1,588.8 L319.6,587.9 L319.1,586.9 L318.7,586.0 L318.3,585.0 L317.9,584.0 L317.6,583.0 L317.4,582.0 L317.2,581.1 L317.0,580.2 L316.9,579.2 L316.8,578.3 L316.7,577.2 L316.6,576.2 L316.4,575.0 L316.2,573.7 L315.9,572.4 L315.7,570.9 L315.4,569.4 L315.1,568.0 L314.7,566.5 L314.4,565.1 L314.0,563.8 L313.6,562.6 L313.1,561.5 L312.6,560.5 L312.1,559.5 L311.5,558.4 L311.0,557.4 L310.4,556.2 L309.9,555.0 L309.4,553.7 L308.8,552.6 L308.3,551.3 L307.7,550.1 L307.1,548.7 L306.6,547.1 L306.0,545.2 L305.5,543.0 L305.0,540.4 L304.5,537.4 L303.9,534.1 L303.4,530.6 L302.9,527.1 L302.4,523.5 L302.0,520.2 L301.5,517.0 L301.1,514.0 L300.6,511.2 L300.2,508.4 L299.8,505.6 L299.5,502.9 L299.1,500.2 L298.7,497.6 L298.4,495.0 L298.1,492.6 L297.8,490.4 L297.6,488.3 L297.4,486.3 L297.2,484.1 L296.9,481.6 L296.5,478.7 L296.1,475.3 L295.6,471.7 L295.1,468.1 L294.5,464.3 L293.8,460.2 L293.1,455.4 L292.4,449.7 L291.6,443.0 L290.7,435.0 L289.7,424.7 L288.5,411.9 L287.2,397.6 L285.9,382.6 L284.6,368.0 L283.5,354.6 L282.5,343.4 L281.8,335.3Z" fill="#FEFAD2"/>
<path d="M242.9,398.3 L242.4,398.7 L242.1,399.2 L241.7,400.0 L241.4,401.0 L241.1,402.0 L240.8,403.0 L240.6,404.0 L240.3,405.0 L240.0,405.9 L239.8,406.7 L239.6,407.6 L239.4,408.5 L239.2,409.4 L239.0,410.5 L238.8,411.7 L238.6,413.0 L238.4,414.5 L238.2,416.3 L238.0,418.1 L237.9,420.1 L237.7,422.1 L237.5,424.1 L237.4,426.1 L237.3,428.0 L237.2,429.8 L237.1,431.6 L237.1,433.4 L237.0,435.2 L237.0,436.9 L237.0,438.7 L237.0,440.5 L237.0,442.4 L237.1,444.3 L237.1,446.3 L237.2,448.3 L237.4,450.4 L237.5,452.4 L237.7,454.3 L237.8,456.2 L238.0,458.0 L238.2,459.6 L238.3,461.1 L238.5,462.6 L238.7,463.9 L238.9,465.3 L239.2,466.7 L239.5,468.2 L239.8,469.8 L240.2,471.6 L240.6,473.4 L241.1,475.4 L241.7,477.4 L242.2,479.4 L242.7,481.3 L243.2,483.2 L243.7,485.0 L244.1,486.6 L244.5,488.1 L244.9,489.5 L245.3,490.9 L245.6,492.2 L246.0,493.7 L246.5,495.3 L247.0,497.0 L247.6,498.9 L248.1,501.0 L248.8,503.1 L249.4,505.3 L250.1,507.6 L250.8,509.9 L251.6,512.3 L252.4,514.6 L253.2,516.9 L254.1,519.3 L255.1,521.8 L256.0,524.2 L257.0,526.7 L258.1,529.2 L259.1,531.6 L260.2,534.1 L261.3,536.6 L262.6,539.2 L263.8,541.8 L265.1,544.4 L266.4,546.9 L267.7,549.4 L268.9,551.6 L270.0,553.7 L271.1,555.6 L272.1,557.2 L273.1,558.8 L274.0,560.2 L275.0,561.5 L275.9,562.8 L276.7,564.0 L277.6,565.3 L278.4,566.5 L279.1,567.7 L279.8,568.7 L280.5,569.8 L281.1,570.8 L281.9,571.9 L282.6,573.0 L283.5,574.1 L284.5,575.3 L285.5,576.5 L286.6,577.8 L287.7,579.1 L288.9,580.4 L290.0,581.7 L291.2,583.0 L292.3,584.3 L293.4,585.6 L294.5,586.9 L295.6,588.2 L296.7,589.4 L297.8,590.7 L298.9,592.0 L300.0,593.3 L301.1,594.6 L302.2,595.9 L303.3,597.2 L304.5,598.6 L305.6,599.9 L306.7,601.2 L307.8,602.5 L308.9,603.7 L309.9,604.9 L310.9,606.0 L311.9,607.1 L312.8,608.2 L313.7,609.2 L314.6,610.2 L315.5,611.1 L316.3,612.0 L317.2,612.9 L318.0,613.7 L318.9,614.5 L319.7,615.2 L320.5,615.9 L321.2,616.5 L322.0,617.2 L322.8,617.8 L323.5,618.5 L324.2,619.2 L325.0,619.8 L325.7,620.5 L326.5,621.1 L327.2,621.8 L327.8,622.4 L328.4,623.0 L329.0,623.5 L329.5,624.0 L329.9,624.5 L330.3,624.9 L330.7,625.4 L331.0,625.8 L331.3,626.1 L331.6,626.5 L332.0,626.8 L332.4,627.1 L332.8,627.4 L333.1,627.7 L333.5,627.9 L333.9,628.1 L334.3,628.2 L334.6,628.3 L335.0,628.3 L335.4,628.2 L335.7,628.0 L336.1,627.7 L336.5,627.4 L336.8,627.0 L337.1,626.6 L337.4,626.2 L337.6,625.8 L337.7,625.4 L337.9,625.0 L337.9,624.6 L338.0,624.1 L337.9,623.7 L337.9,623.2 L337.8,622.7 L337.6,622.2 L337.4,621.7 L337.0,621.1 L336.7,620.6 L336.3,620.0 L335.8,619.4 L335.4,618.8 L335.0,618.1 L334.6,617.5 L334.3,616.9 L334.0,616.2 L333.6,615.5 L333.4,614.8 L333.1,614.1 L332.8,613.4 L332.5,612.7 L332.2,612.0 L331.9,611.3 L331.7,610.7 L331.4,610.0 L331.2,609.3 L330.9,608.7 L330.6,608.0 L330.3,607.2 L330.0,606.4 L329.6,605.5 L329.2,604.6 L328.8,603.6 L328.4,602.6 L327.9,601.6 L327.4,600.5 L326.9,599.5 L326.4,598.5 L325.8,597.5 L325.2,596.5 L324.6,595.6 L324.0,594.6 L323.3,593.6 L322.7,592.7 L322.1,591.7 L321.5,590.7 L321.0,589.7 L320.5,588.7 L320.0,587.7 L319.5,586.8 L319.1,585.8 L318.6,584.8 L318.1,583.8 L317.5,582.8 L316.9,581.8 L316.2,580.9 L315.5,579.9 L314.8,578.9 L314.1,578.0 L313.4,577.0 L312.8,576.0 L312.2,575.0 L311.7,574.0 L311.2,573.0 L310.8,572.1 L310.3,571.1 L309.9,570.1 L309.5,569.0 L309.0,567.9 L308.4,566.7 L307.8,565.4 L307.0,564.0 L306.3,562.5 L305.5,561.0 L304.7,559.5 L303.9,558.0 L303.2,556.5 L302.5,555.0 L301.9,553.7 L301.4,552.6 L301.0,551.5 L300.6,550.4 L300.2,549.2 L299.7,547.8 L299.2,546.1 L298.5,544.0 L297.7,541.5 L296.9,538.6 L296.0,535.5 L295.0,532.1 L294.0,528.6 L293.0,525.1 L292.0,521.5 L291.0,518.0 L290.0,514.5 L289.0,511.0 L288.0,507.4 L286.9,503.8 L285.9,500.1 L284.8,496.4 L283.8,492.6 L282.7,488.8 L281.6,484.9 L280.5,480.8 L279.4,476.6 L278.2,472.5 L277.1,468.3 L276.0,464.3 L275.0,460.5 L274.0,457.0 L273.1,453.7 L272.2,450.7 L271.4,447.8 L270.6,445.0 L269.9,442.4 L269.1,439.8 L268.3,437.4 L267.5,435.0 L266.6,432.7 L265.8,430.5 L264.9,428.4 L264.0,426.4 L263.1,424.4 L262.3,422.6 L261.4,420.8 L260.5,419.0 L259.6,417.3 L258.7,415.6 L257.8,413.9 L256.9,412.3 L256.0,410.8 L255.1,409.4 L254.3,408.2 L253.5,407.0 L252.7,406.0 L252.0,405.1 L251.3,404.4 L250.6,403.7 L250.0,403.1 L249.3,402.6 L248.7,402.0 L248.0,401.5 L247.3,400.9 L246.6,400.3 L245.9,399.7 L245.3,399.1 L244.6,398.7 L244.0,398.4 L243.4,398.2Z" fill="#DEFAFA"/>
<path d="M282.9,546.3 L282.6,546.8 L282.3,547.5 L282.0,548.4 L281.7,549.3 L281.4,550.4 L281.2,551.5 L281.0,552.6 L280.9,553.7 L280.8,554.8 L280.8,555.9 L280.9,557.1 L281.0,558.2 L281.1,559.5 L281.2,560.7 L281.4,561.8 L281.6,563.0 L281.8,564.2 L282.0,565.3 L282.3,566.5 L282.6,567.6 L282.9,568.8 L283.3,569.9 L283.6,571.0 L284.0,572.0 L284.4,572.9 L284.8,573.8 L285.2,574.6 L285.7,575.4 L286.1,576.2 L286.7,577.0 L287.2,578.0 L287.9,579.0 L288.7,580.2 L289.5,581.5 L290.5,583.0 L291.4,584.4 L292.4,585.9 L293.4,587.3 L294.2,588.6 L295.0,589.7 L295.6,590.7 L296.2,591.5 L296.6,592.2 L297.0,592.9 L297.4,593.5 L297.9,594.2 L298.3,594.8 L298.9,595.6 L299.5,596.4 L300.2,597.3 L300.9,598.2 L301.7,599.1 L302.4,599.9 L303.2,600.8 L304.0,601.7 L304.8,602.5 L305.6,603.3 L306.5,604.0 L307.4,604.8 L308.3,605.5 L309.1,606.2 L310.0,606.9 L310.9,607.6 L311.7,608.3 L312.5,609.0 L313.2,609.8 L313.9,610.5 L314.6,611.3 L315.3,612.0 L316.0,612.8 L316.7,613.5 L317.5,614.2 L318.3,614.9 L319.1,615.6 L319.9,616.3 L320.8,616.9 L321.6,617.6 L322.4,618.2 L323.2,618.9 L324.0,619.5 L324.8,620.1 L325.5,620.7 L326.3,621.4 L327.0,622.0 L327.7,622.5 L328.4,623.1 L329.0,623.6 L329.5,624.0 L330.0,624.4 L330.3,624.7 L330.6,625.0 L330.9,625.2 L331.1,625.4 L331.4,625.6 L331.7,625.8 L332.0,626.0 L332.4,626.2 L332.8,626.4 L333.2,626.5 L333.7,626.7 L334.1,626.8 L334.5,626.9 L334.9,626.9 L335.2,626.8 L335.4,626.6 L335.7,626.4 L335.9,626.1 L336.0,625.7 L336.1,625.3 L336.2,624.9 L336.2,624.4 L336.2,624.0 L336.1,623.6 L336.0,623.1 L335.8,622.6 L335.6,622.1 L335.4,621.6 L335.1,621.1 L334.8,620.6 L334.5,620.0 L334.2,619.4 L333.8,618.8 L333.4,618.2 L332.9,617.6 L332.5,617.0 L332.0,616.3 L331.6,615.7 L331.2,615.0 L330.8,614.3 L330.4,613.6 L330.0,612.9 L329.7,612.1 L329.3,611.4 L328.9,610.7 L328.6,610.0 L328.3,609.3 L328.0,608.7 L327.8,608.1 L327.6,607.5 L327.5,606.9 L327.3,606.3 L327.1,605.7 L326.8,605.1 L326.4,604.4 L325.9,603.6 L325.4,602.8 L324.8,602.0 L324.1,601.1 L323.5,600.2 L322.8,599.3 L322.1,598.4 L321.5,597.5 L320.9,596.6 L320.3,595.6 L319.7,594.7 L319.1,593.7 L318.4,592.7 L317.8,591.7 L317.2,590.7 L316.6,589.7 L316.0,588.6 L315.4,587.5 L314.8,586.3 L314.2,585.1 L313.6,584.0 L313.0,582.9 L312.4,581.8 L311.7,580.9 L311.0,580.1 L310.3,579.3 L309.5,578.6 L308.7,578.0 L307.9,577.4 L307.2,576.8 L306.5,576.2 L305.8,575.5 L305.2,574.8 L304.6,574.2 L304.1,573.5 L303.5,572.9 L303.0,572.2 L302.5,571.5 L302.0,570.8 L301.5,570.0 L301.0,569.2 L300.5,568.3 L299.9,567.5 L299.4,566.6 L298.9,565.6 L298.4,564.7 L297.9,563.9 L297.4,563.0 L296.9,562.2 L296.5,561.3 L296.0,560.5 L295.6,559.6 L295.2,558.8 L294.7,558.0 L294.2,557.3 L293.7,556.6 L293.1,556.0 L292.5,555.4 L291.8,554.9 L291.1,554.3 L290.4,553.9 L289.8,553.4 L289.2,552.8 L288.6,552.3 L288.1,551.7 L287.7,551.1 L287.3,550.4 L286.9,549.7 L286.5,549.1 L286.2,548.5 L285.8,547.9 L285.5,547.5 L285.1,547.1 L284.8,546.7 L284.5,546.4 L284.1,546.1 L283.8,546.0 L283.5,545.9 L283.2,546.0Z" fill="#B2E6F7"/>
<path d="M302.8,583.3 L302.6,583.6 L302.4,583.9 L302.1,584.4 L301.9,585.0 L301.7,585.6 L301.6,586.3 L301.5,587.0 L301.4,587.7 L301.4,588.5 L301.4,589.3 L301.4,590.2 L301.5,591.1 L301.7,592.0 L301.9,593.0 L302.1,593.8 L302.4,594.6 L302.8,595.3 L303.2,596.0 L303.8,596.6 L304.4,597.2 L305.0,597.8 L305.6,598.3 L306.2,598.9 L306.8,599.5 L307.4,600.1 L308.0,600.7 L308.6,601.3 L309.2,602.0 L309.8,602.6 L310.4,603.2 L311.0,603.8 L311.7,604.4 L312.4,605.0 L313.1,605.6 L313.9,606.2 L314.7,606.8 L315.4,607.5 L316.2,608.1 L316.9,608.7 L317.5,609.3 L318.1,609.9 L318.6,610.5 L319.1,611.1 L319.6,611.7 L320.0,612.3 L320.5,612.9 L321.0,613.6 L321.5,614.2 L322.0,614.8 L322.6,615.5 L323.2,616.2 L323.7,616.9 L324.3,617.6 L324.9,618.2 L325.4,618.9 L326.0,619.5 L326.6,620.1 L327.2,620.8 L327.8,621.4 L328.4,622.0 L329.0,622.6 L329.6,623.1 L330.1,623.6 L330.5,624.0 L330.8,624.3 L331.1,624.5 L331.2,624.7 L331.4,624.8 L331.5,624.9 L331.6,625.0 L331.8,625.1 L332.0,625.2 L332.3,625.3 L332.6,625.5 L332.9,625.7 L333.2,625.8 L333.5,625.9 L333.8,626.0 L334.1,626.0 L334.3,626.0 L334.5,625.9 L334.6,625.7 L334.7,625.4 L334.8,625.2 L334.9,624.8 L334.9,624.5 L334.9,624.1 L334.8,623.8 L334.7,623.4 L334.5,623.1 L334.3,622.7 L334.1,622.2 L333.8,621.8 L333.5,621.4 L333.2,620.9 L332.8,620.5 L332.4,620.1 L332.0,619.7 L331.5,619.2 L331.0,618.8 L330.4,618.4 L329.9,617.9 L329.4,617.5 L329.0,617.0 L328.6,616.5 L328.2,615.9 L327.8,615.4 L327.4,614.8 L327.0,614.2 L326.6,613.6 L326.3,613.1 L326.0,612.5 L325.7,612.0 L325.6,611.4 L325.4,610.9 L325.3,610.4 L325.1,609.9 L324.9,609.4 L324.7,608.9 L324.4,608.3 L324.0,607.7 L323.6,607.1 L323.1,606.5 L322.6,605.9 L322.1,605.3 L321.5,604.6 L321.0,604.0 L320.5,603.4 L320.0,602.8 L319.5,602.2 L319.0,601.6 L318.6,601.0 L318.1,600.3 L317.6,599.7 L317.1,599.1 L316.6,598.5 L316.1,597.9 L315.6,597.3 L315.1,596.6 L314.7,596.0 L314.2,595.4 L313.7,594.8 L313.1,594.2 L312.6,593.6 L312.0,593.1 L311.4,592.6 L310.7,592.1 L310.1,591.7 L309.4,591.2 L308.8,590.7 L308.2,590.2 L307.7,589.7 L307.2,589.1 L306.8,588.5 L306.4,587.8 L306.1,587.1 L305.7,586.4 L305.4,585.8 L305.1,585.3 L304.8,584.8 L304.5,584.4 L304.2,584.0 L304.0,583.7 L303.7,583.5 L303.5,583.3 L303.2,583.2 L303.0,583.2Z" fill="#82B9F5"/>
<path d="M321.5,609.0 L321.6,608.7 L321.8,608.5 L322.0,608.4 L322.2,608.4 L322.4,608.5 L322.6,608.6 L322.8,608.8 L323.0,609.0 L323.2,609.3 L323.4,609.7 L323.6,610.1 L323.8,610.5 L324.0,611.0 L324.1,611.5 L324.3,612.1 L324.5,612.7 L324.6,613.3 L324.6,613.8 L324.6,614.3 L324.5,614.8 L324.4,615.2 L324.3,615.7 L324.2,616.0 L324.0,616.2 L323.8,616.3 L323.6,616.3 L323.3,616.2 L323.1,616.1 L322.8,615.9 L322.6,615.6 L322.4,615.3 L322.2,614.9 L322.0,614.4 L321.9,613.9 L321.7,613.4 L321.6,612.8 L321.5,612.2 L321.5,611.5 L321.4,610.8 L321.4,610.1 L321.4,609.4Z" fill="#4B7DEB"/>
<path d="M331.8,620.0 L332.0,619.9 L332.2,619.8 L332.5,619.8 L332.7,619.9 L333.0,620.0 L333.2,620.2 L333.4,620.5 L333.6,620.8 L333.8,621.2 L334.0,621.6 L334.1,622.0 L334.2,622.5 L334.3,623.0 L334.3,623.6 L334.4,624.3 L334.3,624.9 L334.3,625.4 L334.2,625.8 L334.0,626.1 L333.8,626.3 L333.6,626.4 L333.3,626.5 L333.0,626.5 L332.8,626.4 L332.6,626.2 L332.4,626.0 L332.2,625.6 L332.1,625.3 L331.9,624.9 L331.8,624.5 L331.7,624.1 L331.6,623.7 L331.6,623.3 L331.5,622.8 L331.5,622.4 L331.5,622.0 L331.5,621.6 L331.5,621.2 L331.5,620.8 L331.6,620.5 L331.7,620.2Z" fill="#4B7DEB"/>
<path d="M312.9,602.9 L312.9,602.8 L313.1,602.7 L313.2,602.6 L313.3,602.6 L313.5,602.6 L313.6,602.6 L313.7,602.7 L313.8,602.8 L313.9,603.0 L314.0,603.1 L314.1,603.3 L314.1,603.4 L314.1,603.5 L313.9,603.6 L313.8,603.8 L313.7,603.9 L313.5,603.9 L313.4,603.9 L313.3,603.8 L313.2,603.7 L313.1,603.5 L313.0,603.2 L312.9,603.0Z" fill="#4B7DEB"/>
<path d="M335.5,634.6 L335.6,634.4 L335.8,634.3 L336.2,634.2 L336.6,634.1 L337.0,634.0 L337.5,634.0 L338.0,634.0 L338.6,634.0 L339.2,634.0 L339.9,634.0 L340.5,634.1 L341.0,634.2 L341.5,634.3 L342.0,634.5 L342.4,634.6 L342.8,634.8 L343.1,635.0 L343.2,635.2 L343.2,635.4 L343.0,635.6 L342.7,635.9 L342.4,636.1 L342.0,636.3 L341.5,636.4 L340.9,636.5 L340.3,636.6 L339.5,636.6 L338.8,636.6 L338.1,636.5 L337.5,636.4 L337.0,636.2 L336.5,635.9 L336.1,635.5 L335.8,635.2 L335.6,634.9Z" fill="#FAEAA0"/>
<path d="M92.2,335.3 L92.6,335.7 L93.1,336.1 L93.5,336.6 L93.9,337.0 L94.3,337.4 L94.8,337.8 L95.2,338.3 L95.6,338.7 L96.1,339.1 L96.5,339.5 L96.9,339.9 L97.3,340.4 L97.8,340.8 L98.2,341.2 L98.6,341.6 L99.1,342.0 L99.5,342.5 L99.9,342.9 L100.4,343.3 L100.8,343.7 L101.2,344.1 L101.6,344.6 L102.1,345.0 L102.5,345.4 L102.9,345.8 L103.3,346.3 L103.8,346.7 L104.2,347.1 L104.6,347.5 L105.0,348.0 L105.5,348.4 L105.9,348.8 L106.3,349.3 L106.7,349.7 L107.1,350.1 L107.6,350.5 L108.0,351.0 L108.4,351.4 L108.8,351.9 L109.2,352.3 L109.6,352.7 L110.0,353.2 L110.5,353.6 L110.9,354.0 L111.3,354.5 L111.7,354.9 L112.1,355.4 L112.5,355.8 L112.9,356.3 L113.3,356.7 L113.7,357.2 L114.1,357.6 L114.5,358.1 L114.9,358.5 L115.3,359.0 L115.7,359.4 L116.0,359.9 L116.4,360.3 L116.8,360.8 L117.2,361.3 L117.6,361.7 L118.0,362.2 L118.4,362.6 L118.8,363.1 L119.2,363.6 L119.5,364.0 L119.9,364.5 L120.3,364.9 L120.7,365.4 L121.1,365.9 L121.5,366.3 L121.8,366.8 L122.2,367.3 L122.6,367.7 L123.0,368.2 L123.4,368.7 L123.7,369.1 L124.1,369.6 L124.5,370.1 L124.9,370.6 L125.2,371.0 L125.6,371.5 L126.0,372.0 L126.3,372.4 L126.7,372.9 L127.1,373.4 L127.4,373.9 L127.8,374.4 L128.2,374.8 L128.5,375.3 L128.9,375.8 L129.2,376.3 L129.6,376.8 L130.0,377.2 L130.3,377.7 L130.7,378.2 L131.0,378.7 L131.4,379.2 L131.8,379.7 L132.1,380.1 L132.5,380.6 L132.8,381.1 L133.2,381.6 L133.5,382.1 L133.9,382.6 L134.2,383.1 L134.6,383.5 L134.9,384.0 L135.3,384.5 L135.6,385.0 L136.0,385.5 L136.3,386.0 L136.7,386.5 L137.0,387.0 L137.4,387.5 L137.7,387.9 L138.1,388.4 L138.4,388.9 L138.8,389.4 L139.1,389.9 L139.5,390.4 L139.8,390.9 L140.1,391.4 L140.5,391.9 L140.8,392.4 L141.2,392.9 L141.5,393.4 L141.8,393.9 L142.2,394.4 L142.5,394.9 L142.9,395.4 L143.2,395.9 L143.5,396.3 L143.9,396.8 L144.2,397.3 L144.6,397.8 L144.9,398.3 L145.2,398.8 L145.6,399.3 L145.9,399.8 L146.2,400.3 L146.6,400.8 L146.9,401.3 L147.3,401.8 L147.6,402.3 L147.9,402.8 L148.3,403.3 L148.6,403.8 L148.9,404.3 L149.3,404.8 L149.6,405.3 L149.9,405.8 L150.3,406.3 L150.6,406.8 L151.0,407.3 L151.3,407.8 L151.6,408.3 L152.0,408.8 L152.3,409.3 L152.6,409.8 L153.0,410.3 L153.3,410.8 L153.6,411.3 L154.0,411.8 L154.3,412.3 L154.6,412.8 L155.0,413.3 L155.3,413.8 L155.6,414.3 L156.0,414.8 L156.3,415.3 L156.6,415.8 L157.0,416.3 L157.3,416.8 L157.6,417.3 L158.0,417.8 L158.3,418.3 L158.6,418.8 L159.0,419.3 L159.3,419.8 L159.6,420.3 L159.9,420.8 L160.3,421.3 L160.6,421.8 L160.9,422.3 L161.3,422.8 L161.6,423.3 L161.9,423.8 L162.3,424.3 L162.6,424.8 L162.9,425.3 L163.3,425.8 L163.6,426.3 L163.9,426.8 L164.3,427.3 L164.6,427.8 L164.9,428.3 L165.2,428.8 L165.6,429.3 L165.9,429.8 L166.2,430.4 L166.6,430.9 L166.9,431.4 L167.2,431.9 L167.6,432.4 L167.9,432.9 L168.2,433.4 L168.6,433.9 L168.9,434.4 L169.2,434.9 L169.5,435.4 L169.9,435.9 L170.2,436.4 L170.5,436.9 L170.9,437.4 L171.2,437.9 L171.5,438.4 L171.8,438.9 L172.2,439.4 L172.5,439.9 L172.8,440.4 L173.2,440.9 L173.5,441.4 L173.8,441.9 L174.1,442.4 L174.5,442.9 L174.8,443.4 L175.1,444.0 L175.4,444.5 L175.7,445.0 L176.1,445.5 L176.4,446.0 L176.7,446.5 L177.0,447.0 L177.4,447.5 L177.7,448.0 L178.0,448.5 L178.3,449.0 L178.6,449.5 L179.0,450.0 L179.3,450.6 L179.6,451.1 L179.9,451.6 L180.2,452.1 L180.6,452.6 L180.9,453.1 L181.2,453.6 L181.5,454.1 L181.8,454.6 L182.1,455.1 L182.5,455.7 L182.8,456.2 L183.1,456.7 L183.4,457.2 L183.7,457.7 L184.1,458.2 L184.4,458.7 L184.7,459.2 L185.0,459.7 L185.3,460.2 L185.7,460.8 L186.0,461.3 L186.3,461.8 L186.6,462.3 L186.9,462.8 L187.3,463.3 L187.6,463.8 L187.9,464.3 L188.2,464.8 L188.5,465.3 L188.9,465.8 L189.2,466.3 L189.5,466.8 L189.8,467.4 L190.2,467.9 L190.5,468.4 L190.8,468.9 L191.1,469.4 L191.4,469.9 L191.8,470.4 L192.1,470.9 L192.4,471.4 L192.7,471.9 L193.1,472.4 L193.4,472.9 L193.7,473.4 L194.0,473.9 L194.4,474.5 L194.7,475.0 L195.0,475.5 L195.3,476.0 L195.6,476.5 L196.0,477.0 L196.3,477.5 L196.6,478.0 L196.9,478.5 L197.3,479.0 L197.6,479.5 L197.9,480.0 L198.2,480.5 L198.5,481.1 L198.9,481.6 L199.2,482.1 L199.5,482.6 L199.8,483.1 L200.1,483.6 L200.5,484.1 L200.8,484.6 L201.1,485.1 L201.4,485.6 L201.8,486.1 L202.1,486.6 L202.4,487.1 L202.7,487.7 L203.1,488.2 L203.4,488.7 L203.7,489.2 L204.0,489.7 L204.3,490.2 L204.7,490.7 L205.0,491.2 L205.3,491.7 L205.6,492.2 L206.0,492.7 L206.3,493.2 L206.6,493.7 L206.9,494.2 L207.3,494.7 L207.6,495.3 L207.9,495.8 L208.2,496.3 L208.6,496.8 L208.9,497.3 L209.2,497.8 L209.5,498.3 L209.9,498.8 L210.2,499.3 L210.5,499.8 L210.9,500.3 L211.2,500.8 L211.5,501.3 L211.8,501.8 L212.2,502.3 L212.5,502.8 L212.8,503.3 L213.2,503.8 L213.5,504.3 L213.8,504.8 L214.2,505.3 L214.5,505.8 L214.8,506.3 L215.2,506.8 L215.5,507.3 L215.8,507.8 L216.2,508.3 L216.5,508.8 L216.9,509.3 L217.2,509.8 L217.6,510.3 L217.9,510.7 L218.3,511.2 L218.7,511.7 L219.0,512.2 L219.4,512.6 L219.8,513.1 L220.2,513.6 L220.6,514.0 L221.0,514.5 L221.4,514.9 L221.8,515.3 L222.3,515.7 L222.7,516.1 L223.2,516.5 L223.6,517.0 L224.0,517.4 L224.4,517.8 L224.8,518.3 L225.2,518.7 L225.6,519.2 L226.0,519.7 L226.4,520.1 L226.8,520.6 L227.1,521.0 L227.5,521.5 L227.9,522.0 L228.3,522.4 L228.7,522.9 L229.1,523.3 L229.5,523.8 L229.8,524.3 L230.2,524.7 L230.6,525.2 L231.0,525.6 L231.4,526.1 L231.8,526.6 L232.2,527.0 L232.5,527.5 L232.9,528.0 L233.3,528.4 L233.7,528.9 L234.1,529.3 L234.5,529.8 L234.9,530.3 L235.2,530.7 L235.6,531.2 L236.0,531.6 L236.4,532.1 L236.8,532.6 L237.2,533.0 L237.6,533.5 L238.0,533.9 L238.3,534.4 L238.7,534.9 L239.1,535.3 L239.5,535.8 L239.9,536.2 L240.3,536.7 L240.7,537.2 L241.0,537.6 L241.4,538.1 L241.8,538.6 L242.2,539.0 L242.6,539.5 L243.0,539.9 L243.3,540.4 L243.7,540.9 L244.1,541.4 L244.5,541.8 L244.8,542.3 L245.2,542.8 L245.6,543.2 L245.9,543.7 L246.3,544.2 L246.7,544.7 L247.0,545.1 L247.4,545.6 L247.8,546.1 L248.1,546.6 L248.5,547.1 L248.9,547.5 L249.2,548.0 L249.6,548.5 L249.9,549.0 L250.3,549.5 L250.7,549.9 L251.0,550.4 L251.4,550.9 L251.7,551.4 L252.1,551.9 L252.5,552.4 L252.8,552.8 L253.2,553.3 L253.5,553.8 L253.9,554.3 L254.2,554.8 L254.6,555.3 L254.9,555.8 L255.3,556.2 L255.6,556.7 L256.0,557.2 L256.3,557.7 L256.7,558.2 L257.0,558.7 L257.3,559.2 L257.7,559.7 L258.0,560.2 L258.3,560.7 L258.7,561.2 L259.0,561.7 L259.4,562.2 L259.8,562.7 L260.1,563.1 L260.5,563.6 L260.8,564.1 L261.2,564.6 L261.6,565.1 L261.9,565.5 L262.3,566.0 L262.6,566.5 L263.0,567.0 L263.4,567.5 L263.7,567.9 L264.1,568.4 L264.5,568.9 L264.9,569.3 L265.3,569.8 L265.7,570.3 L266.0,570.7 L266.4,571.2 L266.8,571.6 L267.2,572.1 L267.7,572.5 L268.1,572.9 L268.4,573.4 L268.8,573.9 L269.1,574.4 L269.5,574.9 L269.8,575.4 L270.2,575.9 L270.5,576.4 L270.9,576.8 L271.4,577.3 L271.8,577.7 L272.3,578.1 L272.7,578.5 L273.2,578.8 L273.7,579.2 L274.1,579.6 L274.6,580.0 L275.1,580.3 L275.6,580.7 L276.1,581.1 L276.5,581.4 L277.0,581.8 L277.5,582.1 L278.0,582.5 L278.5,582.9 L278.9,583.4 L279.2,583.9 L279.4,584.5 L279.7,585.1 L280.0,585.6 L280.3,586.2 L280.5,586.8 L281.0,587.2 L281.5,587.6 L281.9,587.9 L282.4,588.3 L282.9,588.7 L283.4,589.0 L283.9,589.4 L284.4,589.8 L284.9,590.1 L285.3,590.5 L285.8,590.9 L286.3,591.2 L286.8,591.6 L287.3,591.9 L287.8,592.3 L288.3,592.7 L288.8,593.0 L289.2,593.5 L289.4,594.1 L289.7,594.7 L289.9,595.3 L290.2,595.9 L290.4,596.5 L290.6,597.1 L291.0,597.6 L291.5,598.0 L292.0,598.3 L292.4,598.7 L292.9,599.0 L293.4,599.4 L293.9,599.8 L294.4,600.1 L294.9,600.5 L295.4,600.8 L295.9,601.2 L296.4,601.5 L296.9,601.9 L297.4,602.2 L297.9,602.6 L298.4,602.9 L298.9,603.3 L299.4,603.6 L299.7,604.2 L299.9,604.8 L300.1,605.4 L300.4,606.1 L300.6,606.7 L300.8,607.4 L301.0,608.0 L301.5,608.3 L302.0,608.7 L302.5,609.0 L303.0,609.3 L303.6,609.7 L304.1,610.0 L304.6,610.3 L305.1,610.7 L305.6,611.0 L306.2,611.3 L306.7,611.6 L307.2,611.9 L307.8,612.3 L308.3,612.6 L308.8,612.9 L309.3,613.3 L309.9,613.6 L310.1,614.2 L310.3,614.9 L310.5,615.5 L310.6,616.2 L310.8,616.9 L311.0,617.6 L311.1,618.2 L311.6,618.6 L312.2,619.0 L312.7,619.3 L313.2,619.6 L313.8,619.9 L314.3,620.2 L314.9,620.4 L315.5,620.7 L316.0,621.0 L316.6,621.2 L317.2,621.4 L317.8,621.6 L318.4,621.9 L318.9,622.1 L319.5,622.3 L320.1,622.5 L320.4,623.1 L320.6,623.9 L320.9,624.6 L321.1,625.3 L321.3,626.0 L321.6,626.7 L322.2,626.9 L322.8,627.1 L323.4,627.3 L324.0,627.5 L324.6,627.6 L325.2,627.8 L325.8,628.0 L326.4,628.1 L327.0,628.3 L327.6,628.4 L328.2,628.6 L328.9,628.7 L329.5,628.8 L330.0,629.0 L330.4,629.6 L330.5,630.7 L331.0,631.0 L337.5,631.5 L337.8,631.3 L338.2,630.9 L338.7,630.6 L339.3,630.1 L339.8,629.7 L340.4,629.2 L340.8,628.7 L341.2,628.2 L341.5,627.7 L341.7,627.2 L341.9,626.6 L342.1,626.0 L342.2,625.4 L342.3,624.8 L342.3,624.2 L342.2,623.6 L342.1,623.0 L341.8,622.3 L341.6,621.6 L341.2,620.9 L340.9,620.2 L340.5,619.5 L340.0,618.8 L339.6,618.2 L339.1,617.6 L338.6,617.0 L338.0,616.4 L337.4,615.9 L336.8,615.3 L336.2,614.8 L335.7,614.1 L335.2,613.5 L334.8,612.8 L334.4,612.1 L334.0,611.4 L333.7,610.6 L333.3,609.8 L333.0,609.0 L332.8,608.2 L332.5,607.4 L332.3,606.6 L332.1,605.7 L332.0,604.9 L331.9,604.0 L331.7,603.1 L331.6,602.2 L331.5,601.3 L331.3,600.5 L331.1,599.7 L330.9,598.8 L330.7,597.9 L330.5,597.1 L330.2,596.3 L330.0,595.5 L329.6,594.7 L329.3,594.0 L328.9,593.4 L328.4,592.8 L328.0,592.3 L327.4,591.9 L326.9,591.4 L326.4,590.9 L325.9,590.3 L325.4,589.7 L324.9,589.0 L324.5,588.2 L324.0,587.3 L323.5,586.5 L323.1,585.6 L322.7,584.6 L322.3,583.7 L322.0,582.8 L321.8,581.9 L321.6,581.0 L321.4,580.1 L321.3,579.2 L321.3,578.2 L321.2,577.2 L321.1,576.1 L321.0,575.0 L320.9,573.8 L320.8,572.4 L320.7,571.0 L320.7,569.6 L320.6,568.1 L320.4,566.7 L320.2,565.3 L320.0,564.0 L319.7,562.8 L319.3,561.6 L318.8,560.5 L318.4,559.4 L317.9,558.4 L317.4,557.3 L316.9,556.2 L316.5,555.0 L316.1,553.9 L315.7,552.8 L315.4,551.8 L315.1,550.8 L314.7,549.6 L314.4,548.3 L314.0,546.8 L313.6,545.0 L313.2,543.0 L312.7,540.8 L312.2,538.5 L311.7,536.0 L311.3,533.3 L310.8,530.3 L310.4,527.2 L310.1,523.8 L309.8,520.2 L309.6,516.5 L309.4,512.5 L309.3,508.3 L309.2,503.9 L309.1,499.2 L309.0,494.2 L309.0,488.8 L309.0,483.3 L309.0,477.7 L309.0,472.0 L309.1,465.9 L309.1,459.4 L309.2,452.1 L309.4,444.0 L309.5,435.0 L309.7,424.1 L309.9,411.0 L310.2,396.6 L310.5,381.8 L310.8,367.4 L311.0,354.3 L311.2,343.3 L311.4,335.3" stroke="#1a1a1a" stroke-opacity="0.6" stroke-width="0.65" fill="none"/>
<path d="M29.6,413.8 L30.4,413.9 L31.4,413.9 L32.7,414.0 L34.1,414.1 L35.5,414.1 L37.1,414.3 L38.6,414.4 L40.0,414.6 L41.4,414.8 L42.9,415.0 L44.4,415.3 L46.0,415.6 L47.5,415.9 L49.0,416.2 L50.5,416.6 L51.9,417.0 L53.3,417.5 L54.6,418.0 L55.9,418.5 L57.2,419.1 L58.4,419.7 L59.7,420.3 L60.9,420.9 L62.0,421.5 L63.1,422.1 L64.2,422.7 L65.3,423.4 L66.3,424.0 L67.3,424.6 L68.3,425.3 L69.2,425.9 L70.0,426.5 L70.8,427.1 L71.5,427.7 L72.2,428.2 L72.8,428.8 L73.4,429.3 L73.9,429.9 L74.5,430.4 L75.0,431.0 L75.5,431.6 L76.0,432.1 L76.5,432.7 L77.0,433.3 L77.4,433.9 L77.8,434.5 L78.1,435.1 L78.3,435.7 L78.4,436.3 L78.5,436.9 L78.4,437.6 L78.3,438.2 L78.2,438.9 L78.0,439.5 L77.8,440.3 L77.6,441.0 L77.4,441.8 L77.1,442.6 L76.9,443.5 L76.6,444.3 L76.2,445.2 L75.9,446.1 L75.5,447.1 L75.0,448.0 L74.5,448.9 L74.0,449.9 L73.5,450.9 L72.9,451.8 L72.3,452.8 L71.6,453.9 L70.9,454.9 L70.0,456.0 L69.0,457.1 L67.9,458.4 L66.6,459.7 L65.3,460.9 L64.0,462.2 L62.7,463.4 L61.4,464.5 L60.2,465.5 L59.1,466.3 L58.1,467.1 L57.1,467.7 L56.2,468.3 L55.2,468.8 L54.2,469.3 L53.1,469.8 L51.9,470.3 L50.6,470.8 L49.1,471.3 L47.6,471.8 L46.1,472.3 L44.5,472.7 L43.0,473.1 L41.4,473.5 L40.0,473.8 L38.6,474.1 L37.1,474.3 L35.5,474.5 L34.1,474.6 L32.7,474.7 L31.4,474.8 L30.4,474.9 L29.6,475.0" stroke="#1a1a1a" stroke-opacity="0.6" stroke-width="0.65" fill="none"/>
<path d="M130.5,335.3 L131.0,335.7 L131.5,335.9 L132.0,336.2 L132.5,336.6 L132.8,337.1 L133.2,337.6 L133.6,338.0 L133.9,338.5 L134.3,339.0 L134.6,339.5 L134.9,340.0 L135.3,340.5 L135.6,341.1 L135.9,341.6 L136.2,342.1 L136.5,342.6 L136.9,343.1 L137.2,343.6 L137.5,344.1 L137.8,344.6 L138.1,345.1 L138.4,345.7 L138.7,346.2 L139.1,346.7 L139.4,347.2 L139.7,347.7 L140.0,348.2 L140.3,348.7 L140.6,349.3 L140.9,349.8 L141.2,350.3 L141.5,350.8 L141.9,351.3 L142.2,351.8 L142.5,352.3 L142.8,352.9 L143.1,353.4 L143.4,353.9 L143.7,354.4 L144.0,354.9 L144.3,355.4 L144.6,356.0 L145.0,356.5 L145.3,357.0 L145.6,357.5 L145.9,358.0 L146.2,358.5 L146.5,359.1 L146.8,359.6 L147.1,360.1 L147.4,360.6 L147.7,361.1 L148.0,361.7 L148.3,362.2 L148.6,362.7 L148.9,363.2 L149.2,363.7 L149.5,364.3 L149.8,364.8 L150.1,365.3 L150.4,365.8 L150.7,366.3 L151.0,366.9 L151.3,367.4 L151.6,367.9 L151.9,368.4 L152.2,368.9 L152.5,369.5 L152.8,370.0 L153.1,370.5 L153.4,371.0 L153.7,371.6 L154.0,372.1 L154.3,372.6 L154.6,373.1 L154.9,373.7 L155.2,374.2 L155.5,374.7 L155.8,375.2 L156.0,375.8 L156.3,376.3 L156.6,376.8 L156.9,377.4 L157.2,377.9 L157.5,378.4 L157.8,378.9 L158.1,379.5 L158.3,380.0 L158.6,380.5 L158.9,381.1 L159.2,381.6 L159.5,382.1 L159.7,382.7 L160.0,383.2 L160.3,383.7 L160.6,384.3 L160.8,384.8 L161.1,385.3 L161.4,385.9 L161.6,386.4 L161.9,386.9 L162.2,387.5 L162.4,388.0 L162.7,388.6 L162.9,389.1 L163.2,389.7 L163.5,390.2 L163.7,390.8 L164.0,391.3 L164.2,391.8 L164.5,392.4 L164.7,392.9 L165.0,393.5 L165.2,394.0 L165.4,394.6 L165.7,395.1 L165.9,395.7 L166.2,396.2 L166.4,396.8 L166.6,397.4 L166.9,397.9 L167.1,398.5 L167.4,399.0 L167.6,399.6 L167.8,400.1 L168.0,400.7 L168.3,401.2 L168.5,401.8 L168.7,402.4 L168.9,402.9 L169.2,403.5 L169.4,404.0 L169.6,404.6 L169.9,405.1 L170.1,405.7 L170.3,406.3 L170.5,406.8 L170.7,407.4 L171.0,407.9 L171.2,408.5 L171.4,409.1 L171.6,409.6 L171.8,410.2 L172.1,410.7 L172.3,411.3 L172.5,411.8 L172.7,412.4 L173.0,413.0 L173.2,413.5 L173.4,414.1 L173.6,414.6 L173.8,415.2 L174.1,415.8 L174.3,416.3 L174.5,416.9 L174.7,417.4 L174.9,418.0 L175.2,418.6 L175.4,419.1 L175.6,419.7 L175.8,420.2 L176.1,420.8 L176.3,421.4 L176.5,421.9 L176.7,422.5 L177.0,423.0 L177.2,423.6 L177.4,424.1 L177.6,424.7 L177.9,425.3 L178.1,425.8 L178.3,426.4 L178.6,426.9 L178.8,427.5 L179.0,428.0 L179.3,428.6 L179.5,429.1 L179.8,429.7 L180.0,430.2 L180.3,430.8 L180.5,431.3 L180.8,431.9 L181.0,432.4 L181.3,433.0 L181.5,433.5 L181.8,434.1 L182.0,434.6 L182.3,435.1 L182.5,435.7 L182.8,436.2 L183.1,436.8 L183.3,437.3 L183.6,437.8 L183.9,438.4 L184.2,438.9 L184.4,439.4 L184.7,440.0 L185.0,440.5 L185.3,441.0 L185.5,441.6 L185.8,442.1 L186.1,442.6 L186.4,443.2 L186.7,443.7 L187.0,444.2 L187.2,444.8 L187.5,445.3 L187.8,445.8 L188.1,446.3 L188.4,446.9 L188.7,447.4 L189.0,447.9 L189.3,448.4 L189.6,449.0 L189.9,449.5 L190.2,450.0 L190.5,450.5 L190.8,451.0 L191.1,451.6 L191.4,452.1 L191.7,452.6 L192.0,453.1 L192.3,453.6 L192.6,454.1 L192.9,454.7 L193.3,455.2 L193.6,455.7 L193.9,456.2 L194.2,456.7 L194.5,457.2 L194.8,457.8 L195.1,458.3 L195.4,458.8 L195.7,459.3 L196.1,459.8 L196.4,460.3 L196.7,460.8 L197.0,461.4 L197.3,461.9 L197.6,462.4 L197.9,462.9 L198.2,463.4 L198.6,463.9 L198.9,464.4 L199.2,465.0 L199.5,465.5 L199.8,466.0 L200.1,466.5 L200.4,467.0 L200.7,467.5 L201.0,468.0 L201.3,468.6 L201.7,469.1 L202.0,469.6 L202.3,470.1 L202.6,470.6 L202.9,471.1 L203.2,471.7 L203.5,472.2 L203.8,472.7 L204.1,473.2 L204.4,473.7 L204.7,474.3 L205.0,474.8 L205.3,475.3 L205.6,475.8 L206.0,476.3 L206.3,476.8 L206.6,477.4 L206.9,477.9 L207.2,478.4 L207.5,478.9 L207.8,479.4 L208.1,479.9 L208.4,480.4 L208.7,481.0 L209.0,481.5 L209.4,482.0 L209.7,482.5 L210.0,483.0 L210.3,483.5 L210.6,484.1 L210.9,484.6 L211.2,485.1 L211.5,485.6 L211.8,486.1 L212.2,486.6 L212.5,487.1 L212.8,487.7 L213.1,488.2 L213.4,488.7 L213.7,489.2 L214.0,489.7 L214.3,490.2 L214.7,490.7 L215.0,491.3 L215.3,491.8 L215.6,492.3 L215.9,492.8 L216.2,493.3 L216.5,493.8 L216.9,494.3 L217.2,494.8 L217.5,495.4 L217.8,495.9 L218.1,496.4 L218.4,496.9 L218.7,497.4 L219.1,497.9 L219.4,498.4 L219.7,498.9 L220.0,499.4 L220.3,500.0 L220.6,500.5 L221.0,501.0 L221.3,501.5 L221.6,502.0 L221.9,502.5 L222.2,503.0 L222.6,503.5 L222.9,504.0 L223.2,504.5 L223.5,505.1 L223.8,505.6 L224.2,506.1 L224.5,506.6 L224.8,507.1 L225.1,507.6 L225.5,508.1 L225.8,508.6 L226.1,509.1 L226.4,509.6 L226.8,510.1 L227.1,510.6 L227.4,511.1 L227.8,511.6 L228.1,512.1 L228.4,512.6 L228.8,513.1 L229.1,513.6 L229.4,514.1 L229.8,514.6 L230.1,515.1 L230.5,515.6 L230.8,516.1 L231.1,516.6 L231.5,517.1 L231.8,517.6 L232.2,518.1 L232.5,518.6 L232.9,519.1 L233.2,519.5 L233.6,520.0 L233.9,520.5 L234.3,521.0 L234.6,521.5 L235.0,522.0 L235.3,522.5 L235.7,523.0 L236.0,523.5 L236.4,524.0 L236.7,524.4 L237.1,524.9 L237.4,525.4 L237.8,525.9 L238.2,526.4 L238.5,526.9 L238.9,527.3 L239.2,527.8 L239.6,528.3 L240.0,528.8 L240.4,529.2 L240.7,529.7 L241.1,530.2 L241.5,530.7 L241.9,531.1 L242.2,531.6 L242.6,532.1 L243.0,532.5 L243.3,533.0 L243.7,533.5 L244.1,534.0 L244.5,534.4 L244.8,534.9 L245.2,535.4 L245.6,535.9 L245.9,536.3 L246.3,536.8 L246.6,537.3 L247.0,537.8 L247.3,538.3 L247.7,538.8 L248.0,539.3 L248.3,539.8 L248.7,540.3 L249.0,540.8 L249.3,541.3 L249.6,541.8 L250.0,542.3 L250.3,542.8 L250.6,543.3 L250.9,543.9 L251.2,544.4 L251.5,544.9 L251.8,545.4 L252.1,545.9 L252.4,546.5 L252.7,547.0 L253.0,547.5 L253.3,548.0 L253.6,548.6 L253.9,549.1 L254.2,549.6 L254.5,550.1 L254.8,550.7 L255.1,551.2 L255.3,551.7 L255.6,552.2 L255.9,552.8 L256.2,553.3 L256.5,553.8 L256.8,554.3 L257.1,554.8 L257.4,555.4 L257.8,555.9 L258.1,556.4 L258.4,556.9 L258.7,557.4 L259.0,557.9 L259.4,558.4 L259.7,558.9 L260.0,559.4 L260.4,559.9 L260.7,560.4 L261.1,560.9 L261.5,561.3 L261.8,561.8 L262.2,562.3 L262.6,562.7 L263.0,563.2 L263.4,563.6 L263.9,564.0 L264.3,564.5 L264.7,564.9 L265.2,565.3 L265.6,565.7 L266.0,566.1 L266.5,566.5 L266.9,566.9 L267.4,567.3 L267.8,567.7 L268.3,568.2 L268.6,568.6 L269.0,569.1 L269.4,569.6 L269.8,570.0 L270.1,570.5 L270.5,571.0 L270.9,571.5 L271.3,571.9 L271.7,572.3 L272.1,572.8 L272.5,573.2 L273.0,573.6 L273.4,574.0 L273.8,574.5 L274.3,574.9 L274.7,575.3 L275.1,575.7 L275.6,576.1 L276.0,576.5 L276.5,577.0 L276.9,577.4 L277.4,577.8 L277.8,578.2 L278.2,578.6 L278.7,579.0 L279.0,579.6 L279.3,580.1 L279.6,580.6 L279.9,581.1 L280.2,581.7 L280.5,582.2 L280.9,582.7 L281.3,583.1 L281.8,583.5 L282.2,583.9 L282.6,584.3 L283.1,584.7 L283.5,585.2 L284.0,585.6 L284.4,586.0 L284.9,586.4 L285.3,586.8 L285.8,587.2 L286.3,587.6 L286.7,588.0 L287.2,588.4 L287.6,588.8 L288.1,589.2 L288.5,589.6 L289.0,590.0 L289.3,590.5 L289.5,591.1 L289.8,591.6 L290.1,592.2 L290.4,592.7 L290.7,593.3 L291.0,593.8 L291.5,594.2 L291.9,594.6 L292.4,595.0 L292.8,595.4 L293.3,595.8 L293.7,596.2 L294.2,596.6 L294.6,597.0 L295.1,597.4 L295.6,597.8 L296.0,598.2 L296.5,598.6 L296.9,599.0 L297.4,599.4 L297.9,599.8 L298.3,600.2 L298.8,600.5 L299.3,600.9 L299.5,601.5 L299.8,602.1 L300.1,602.6 L300.4,603.2 L300.6,603.8 L300.9,604.3 L301.2,604.9 L301.6,605.3 L302.0,605.7 L302.5,606.1 L303.0,606.5 L303.4,606.9 L303.9,607.3 L304.4,607.7 L304.9,608.0 L305.3,608.4 L305.8,608.8 L306.3,609.1 L306.8,609.5 L307.3,609.9 L307.8,610.2 L308.3,610.6 L308.8,610.9 L309.3,611.3 L309.7,611.7 L310.0,612.3 L310.2,612.9 L310.5,613.5 L310.8,614.0 L311.0,614.6 L311.3,615.2 L311.6,615.8 L312.0,616.1 L312.5,616.5 L313.0,616.9 L313.5,617.3 L314.0,617.6 L314.5,618.0 L315.0,618.3 L315.5,618.6 L316.1,619.0 L316.6,619.3 L317.1,619.5 L317.7,619.8 L318.2,620.1 L318.7,620.4 L319.3,620.6 L319.8,620.9 L320.2,621.4 L320.5,622.0 L320.8,622.6 L321.1,623.2 L321.5,623.8 L321.8,624.4 L322.3,624.6 L322.9,624.9 L323.5,625.1 L324.0,625.4 L324.6,625.6 L325.2,625.8 L325.8,626.1 L326.3,626.3 L326.9,626.5 L327.5,626.7 L328.1,626.8 L328.7,627.0 L329.3,627.2 L329.8,627.4 L330.3,627.8 L330.5,628.7 L331.0,629.0 L336.0,630.3 L336.3,630.1 L336.7,629.8 L337.2,629.5 L337.7,629.2 L338.3,628.8 L338.8,628.4 L339.2,628.0 L339.6,627.6 L339.9,627.2 L340.1,626.8 L340.4,626.3 L340.5,625.8 L340.7,625.4 L340.8,624.9 L340.8,624.3 L340.7,623.8 L340.6,623.2 L340.3,622.6 L340.1,622.0 L339.7,621.4 L339.3,620.7 L338.9,620.1 L338.5,619.4 L338.0,618.8 L337.5,618.2 L336.9,617.6 L336.3,617.1 L335.7,616.5 L335.0,615.9 L334.4,615.3 L333.8,614.7 L333.3,614.0 L332.8,613.3 L332.4,612.5 L331.9,611.7 L331.5,610.9 L331.2,610.0 L330.8,609.2 L330.5,608.3 L330.2,607.5 L330.0,606.7 L329.8,605.9 L329.6,605.0 L329.5,604.2 L329.4,603.4 L329.3,602.6 L329.2,601.8 L329.0,601.0 L328.8,600.2 L328.6,599.4 L328.4,598.6 L328.2,597.8 L327.9,597.0 L327.6,596.2 L327.3,595.5 L327.0,594.8 L326.6,594.1 L326.2,593.6 L325.7,593.0 L325.2,592.5 L324.7,591.9 L324.2,591.3 L323.7,590.7 L323.2,590.0 L322.7,589.2 L322.3,588.4 L321.8,587.6 L321.3,586.7 L320.9,585.8 L320.5,584.9 L320.1,583.9 L319.8,583.0 L319.6,582.1 L319.4,581.1 L319.3,580.2 L319.2,579.2 L319.1,578.3 L319.0,577.2 L318.9,576.2 L318.8,575.0 L318.7,573.8 L318.6,572.4 L318.5,571.0 L318.3,569.6 L318.2,568.1 L318.0,566.7 L317.8,565.3 L317.5,564.0 L317.1,562.8 L316.7,561.6 L316.1,560.5 L315.6,559.4 L315.0,558.4 L314.5,557.3 L314.0,556.2 L313.5,555.0 L313.1,553.9 L312.8,552.8 L312.5,551.8 L312.2,550.8 L311.9,549.6 L311.6,548.3 L311.3,546.8 L310.9,545.0 L310.5,543.0 L310.0,540.8 L309.4,538.5 L308.9,536.0 L308.4,533.3 L307.8,530.3 L307.3,527.2 L306.9,523.8 L306.5,520.2 L306.1,516.5 L305.7,512.5 L305.4,508.3 L305.1,503.9 L304.8,499.2 L304.5,494.2 L304.2,488.8 L304.0,483.3 L303.8,477.7 L303.6,472.0 L303.5,465.9 L303.3,459.4 L303.2,452.1 L303.0,444.0 L302.8,435.0 L302.6,424.1 L302.3,411.0 L302.0,396.6 L301.7,381.8 L301.4,367.4 L301.1,354.3 L300.9,343.3 L300.7,335.3" stroke="#1a1a1a" stroke-opacity="0.6" stroke-width="0.65" fill="none"/>
<path d="M168.6,335.3 L168.8,335.9 L169.0,336.4 L169.2,337.0 L169.4,337.6 L169.6,338.1 L169.8,338.7 L170.0,339.3 L170.2,339.8 L170.4,340.4 L170.6,341.0 L170.8,341.5 L171.0,342.1 L171.2,342.7 L171.4,343.2 L171.6,343.8 L171.9,344.4 L172.1,344.9 L172.3,345.5 L172.5,346.1 L172.7,346.6 L172.9,347.2 L173.1,347.8 L173.3,348.3 L173.5,348.9 L173.7,349.5 L173.9,350.0 L174.1,350.6 L174.3,351.2 L174.5,351.7 L174.7,352.3 L174.9,352.9 L175.1,353.4 L175.3,354.0 L175.5,354.5 L175.7,355.1 L175.9,355.7 L176.1,356.2 L176.3,356.8 L176.5,357.4 L176.7,357.9 L176.9,358.5 L177.1,359.1 L177.3,359.6 L177.6,360.2 L177.8,360.8 L178.0,361.3 L178.2,361.9 L178.4,362.5 L178.6,363.0 L178.8,363.6 L179.0,364.2 L179.2,364.7 L179.4,365.3 L179.6,365.9 L179.8,366.4 L180.0,367.0 L180.2,367.6 L180.4,368.1 L180.6,368.7 L180.8,369.3 L181.0,369.8 L181.2,370.4 L181.4,371.0 L181.6,371.5 L181.8,372.1 L182.0,372.7 L182.2,373.2 L182.4,373.8 L182.6,374.4 L182.8,374.9 L183.0,375.5 L183.2,376.1 L183.4,376.6 L183.6,377.2 L183.8,377.8 L184.0,378.3 L184.2,378.9 L184.4,379.5 L184.6,380.1 L184.8,380.6 L185.0,381.2 L185.2,381.8 L185.4,382.3 L185.6,382.9 L185.8,383.5 L186.0,384.0 L186.2,384.6 L186.4,385.2 L186.6,385.7 L186.8,386.3 L187.0,386.9 L187.2,387.4 L187.4,388.0 L187.6,388.6 L187.8,389.1 L187.9,389.7 L188.1,390.3 L188.3,390.9 L188.5,391.4 L188.7,392.0 L188.9,392.6 L189.1,393.1 L189.3,393.7 L189.5,394.3 L189.7,394.8 L189.9,395.4 L190.0,396.0 L190.2,396.6 L190.4,397.1 L190.6,397.7 L190.8,398.3 L191.0,398.9 L191.2,399.4 L191.3,400.0 L191.5,400.6 L191.7,401.1 L191.9,401.7 L192.1,402.3 L192.2,402.9 L192.4,403.4 L192.6,404.0 L192.8,404.6 L192.9,405.2 L193.1,405.7 L193.3,406.3 L193.5,406.9 L193.6,407.5 L193.8,408.1 L194.0,408.6 L194.2,409.2 L194.3,409.8 L194.5,410.4 L194.7,410.9 L194.8,411.5 L195.0,412.1 L195.2,412.7 L195.4,413.2 L195.5,413.8 L195.7,414.4 L195.9,415.0 L196.0,415.5 L196.2,416.1 L196.4,416.7 L196.6,417.3 L196.7,417.9 L196.9,418.4 L197.1,419.0 L197.2,419.6 L197.4,420.2 L197.6,420.7 L197.8,421.3 L197.9,421.9 L198.1,422.5 L198.3,423.0 L198.5,423.6 L198.6,424.2 L198.8,424.8 L199.0,425.3 L199.2,425.9 L199.4,426.5 L199.5,427.1 L199.7,427.6 L199.9,428.2 L200.1,428.8 L200.3,429.3 L200.5,429.9 L200.7,430.5 L200.8,431.1 L201.0,431.6 L201.2,432.2 L201.4,432.8 L201.6,433.3 L201.8,433.9 L202.0,434.5 L202.2,435.0 L202.4,435.6 L202.6,436.2 L202.8,436.7 L203.0,437.3 L203.3,437.9 L203.5,438.4 L203.7,439.0 L203.9,439.6 L204.1,440.1 L204.3,440.7 L204.5,441.2 L204.8,441.8 L205.0,442.4 L205.2,442.9 L205.4,443.5 L205.6,444.0 L205.9,444.6 L206.1,445.2 L206.3,445.7 L206.5,446.3 L206.8,446.8 L207.0,447.4 L207.2,447.9 L207.4,448.5 L207.7,449.1 L207.9,449.6 L208.1,450.2 L208.4,450.7 L208.6,451.3 L208.8,451.8 L209.1,452.4 L209.3,452.9 L209.6,453.5 L209.8,454.0 L210.0,454.6 L210.3,455.1 L210.5,455.7 L210.8,456.2 L211.0,456.8 L211.3,457.3 L211.5,457.9 L211.7,458.4 L212.0,459.0 L212.2,459.5 L212.5,460.1 L212.7,460.6 L213.0,461.2 L213.2,461.7 L213.5,462.3 L213.7,462.8 L213.9,463.4 L214.2,463.9 L214.4,464.5 L214.7,465.0 L214.9,465.6 L215.2,466.1 L215.4,466.7 L215.7,467.2 L215.9,467.8 L216.2,468.3 L216.4,468.9 L216.7,469.4 L216.9,470.0 L217.1,470.5 L217.4,471.1 L217.6,471.6 L217.9,472.2 L218.1,472.7 L218.4,473.3 L218.6,473.8 L218.9,474.4 L219.1,474.9 L219.4,475.4 L219.7,476.0 L219.9,476.5 L220.2,477.1 L220.4,477.6 L220.7,478.2 L220.9,478.7 L221.2,479.3 L221.4,479.8 L221.7,480.3 L222.0,480.9 L222.2,481.4 L222.5,482.0 L222.7,482.5 L223.0,483.1 L223.3,483.6 L223.5,484.1 L223.8,484.7 L224.0,485.2 L224.3,485.8 L224.6,486.3 L224.8,486.8 L225.1,487.4 L225.4,487.9 L225.6,488.5 L225.9,489.0 L226.2,489.5 L226.4,490.1 L226.7,490.6 L227.0,491.2 L227.2,491.7 L227.5,492.2 L227.8,492.8 L228.0,493.3 L228.3,493.8 L228.6,494.4 L228.9,494.9 L229.1,495.5 L229.4,496.0 L229.7,496.5 L230.0,497.1 L230.2,497.6 L230.5,498.1 L230.8,498.7 L231.1,499.2 L231.3,499.7 L231.6,500.3 L231.9,500.8 L232.2,501.3 L232.5,501.9 L232.7,502.4 L233.0,502.9 L233.3,503.5 L233.6,504.0 L233.9,504.5 L234.2,505.0 L234.5,505.6 L234.8,506.1 L235.0,506.6 L235.3,507.2 L235.6,507.7 L235.9,508.2 L236.2,508.7 L236.5,509.3 L236.8,509.8 L237.1,510.3 L237.4,510.8 L237.7,511.3 L238.0,511.9 L238.3,512.4 L238.6,512.9 L238.9,513.4 L239.2,513.9 L239.5,514.5 L239.8,515.0 L240.1,515.5 L240.4,516.0 L240.7,516.5 L241.0,517.1 L241.3,517.6 L241.7,518.1 L242.0,518.6 L242.3,519.1 L242.6,519.6 L242.9,520.1 L243.2,520.6 L243.6,521.2 L243.9,521.7 L244.2,522.2 L244.5,522.7 L244.8,523.2 L245.2,523.7 L245.5,524.2 L245.8,524.7 L246.1,525.2 L246.5,525.7 L246.8,526.2 L247.1,526.7 L247.4,527.2 L247.8,527.7 L248.1,528.2 L248.4,528.8 L248.8,529.3 L249.1,529.8 L249.4,530.3 L249.7,530.8 L250.1,531.3 L250.4,531.8 L250.7,532.3 L251.1,532.8 L251.4,533.3 L251.7,533.8 L252.0,534.3 L252.3,534.8 L252.7,535.3 L253.0,535.8 L253.3,536.3 L253.6,536.9 L253.9,537.4 L254.3,537.9 L254.6,538.4 L254.9,538.9 L255.2,539.4 L255.5,539.9 L255.8,540.5 L256.1,541.0 L256.4,541.5 L256.7,542.0 L257.0,542.6 L257.3,543.1 L257.6,543.6 L257.9,544.1 L258.2,544.7 L258.4,545.2 L258.7,545.7 L259.0,546.2 L259.3,546.8 L259.6,547.3 L259.9,547.8 L260.2,548.4 L260.5,548.9 L260.8,549.4 L261.1,549.9 L261.4,550.4 L261.7,551.0 L262.0,551.5 L262.3,552.0 L262.6,552.5 L262.9,553.0 L263.2,553.5 L263.6,554.0 L263.9,554.5 L264.2,555.0 L264.6,555.5 L264.9,556.0 L265.2,556.5 L265.6,557.0 L265.9,557.5 L266.3,558.0 L266.7,558.5 L267.0,559.0 L267.4,559.4 L267.7,559.9 L268.1,560.4 L268.4,560.9 L268.8,561.4 L269.1,561.9 L269.5,562.4 L269.8,562.9 L270.1,563.4 L270.5,563.9 L270.8,564.4 L271.2,564.9 L271.6,565.3 L271.9,565.8 L272.3,566.3 L272.7,566.7 L273.1,567.2 L273.5,567.6 L273.9,568.1 L274.3,568.5 L274.7,568.9 L275.2,569.4 L275.6,569.8 L276.0,570.2 L276.4,570.7 L276.9,571.1 L277.3,571.5 L277.7,571.9 L278.1,572.4 L278.5,572.8 L278.9,573.3 L279.2,573.8 L279.5,574.3 L279.9,574.9 L280.2,575.4 L280.5,575.9 L280.8,576.4 L281.2,576.8 L281.7,577.3 L282.1,577.7 L282.5,578.1 L282.9,578.6 L283.3,579.0 L283.8,579.4 L284.2,579.9 L284.6,580.3 L285.0,580.7 L285.4,581.2 L285.8,581.6 L286.3,582.0 L286.7,582.5 L287.1,582.9 L287.5,583.3 L288.0,583.8 L288.4,584.2 L288.8,584.6 L289.1,585.1 L289.4,585.7 L289.7,586.2 L290.1,586.7 L290.4,587.3 L290.7,587.8 L291.0,588.3 L291.4,588.8 L291.8,589.2 L292.2,589.6 L292.6,590.1 L293.1,590.5 L293.5,590.9 L293.9,591.3 L294.3,591.8 L294.8,592.2 L295.2,592.6 L295.6,593.0 L296.1,593.5 L296.5,593.9 L296.9,594.3 L297.3,594.7 L297.8,595.2 L298.2,595.6 L298.6,596.0 L299.1,596.4 L299.4,596.9 L299.7,597.5 L300.0,598.0 L300.3,598.6 L300.6,599.1 L300.8,599.7 L301.1,600.2 L301.5,600.7 L301.9,601.1 L302.3,601.6 L302.7,602.0 L303.2,602.4 L303.6,602.9 L304.0,603.3 L304.4,603.7 L304.9,604.1 L305.3,604.5 L305.8,605.0 L306.2,605.4 L306.6,605.8 L307.1,606.2 L307.5,606.6 L308.0,607.0 L308.4,607.4 L308.9,607.8 L309.4,608.2 L309.7,608.6 L310.0,609.2 L310.3,609.7 L310.7,610.3 L311.0,610.8 L311.3,611.3 L311.6,611.9 L312.1,612.2 L312.6,612.6 L313.1,613.0 L313.6,613.3 L314.1,613.7 L314.5,614.0 L315.1,614.4 L315.6,614.7 L316.1,615.0 L316.6,615.3 L317.1,615.6 L317.7,615.9 L318.2,616.2 L318.7,616.5 L319.3,616.8 L319.8,617.1 L320.1,617.6 L320.5,618.1 L320.9,618.7 L321.2,619.2 L321.6,619.7 L321.9,620.3 L322.4,620.6 L322.9,620.9 L323.5,621.2 L324.0,621.5 L324.5,621.8 L325.0,622.1 L325.6,622.4 L326.1,622.7 L326.6,623.1 L327.1,623.4 L327.6,623.7 L328.1,624.0 L328.7,624.4 L329.2,624.7 L329.6,625.1 L330.1,625.5 L330.4,626.0 L330.7,626.6 L331.1,627.1 L331.5,627.5 L334.5,629.5 L334.8,629.3 L335.2,629.1 L335.7,628.9 L336.2,628.6 L336.7,628.3 L337.2,628.0 L337.6,627.6 L338.0,627.3 L338.3,626.9 L338.6,626.6 L338.8,626.2 L339.0,625.8 L339.1,625.4 L339.2,624.9 L339.3,624.5 L339.2,624.0 L339.1,623.5 L338.8,623.0 L338.5,622.4 L338.2,621.8 L337.8,621.2 L337.3,620.6 L336.9,620.0 L336.4,619.4 L335.9,618.8 L335.3,618.2 L334.7,617.6 L334.1,617.0 L333.4,616.4 L332.8,615.7 L332.2,615.0 L331.6,614.3 L331.1,613.5 L330.6,612.7 L330.1,611.9 L329.6,611.0 L329.1,610.1 L328.7,609.3 L328.3,608.4 L328.0,607.6 L327.7,606.8 L327.6,606.0 L327.4,605.3 L327.3,604.5 L327.2,603.7 L327.1,603.0 L327.0,602.2 L326.8,601.5 L326.6,600.7 L326.4,600.0 L326.2,599.2 L326.0,598.5 L325.7,597.7 L325.4,597.0 L325.1,596.3 L324.8,595.6 L324.4,594.9 L324.0,594.3 L323.5,593.7 L323.0,593.2 L322.5,592.6 L322.0,591.9 L321.5,591.2 L321.0,590.5 L320.5,589.7 L320.1,588.8 L319.6,587.9 L319.1,586.9 L318.7,586.0 L318.3,585.0 L317.9,584.0 L317.6,583.0 L317.4,582.0 L317.2,581.1 L317.0,580.2 L316.9,579.2 L316.8,578.3 L316.7,577.2 L316.6,576.2 L316.4,575.0 L316.2,573.7 L315.9,572.4 L315.7,570.9 L315.4,569.4 L315.1,568.0 L314.7,566.5 L314.4,565.1 L314.0,563.8 L313.6,562.6 L313.1,561.5 L312.6,560.5 L312.1,559.5 L311.5,558.4 L311.0,557.4 L310.4,556.2 L309.9,555.0 L309.4,553.7 L308.8,552.6 L308.3,551.3 L307.7,550.1 L307.1,548.7 L306.6,547.1 L306.0,545.2 L305.5,543.0 L305.0,540.4 L304.5,537.4 L303.9,534.1 L303.4,530.6 L302.9,527.1 L302.4,523.5 L302.0,520.2 L301.5,517.0 L301.1,514.0 L300.6,511.2 L300.2,508.4 L299.8,505.6 L299.5,502.9 L299.1,500.2 L298.7,497.6 L298.4,495.0 L298.1,492.6 L297.8,490.4 L297.6,488.3 L297.4,486.3 L297.2,484.1 L296.9,481.6 L296.5,478.7 L296.1,475.3 L295.6,471.7 L295.1,468.1 L294.5,464.3 L293.8,460.2 L293.1,455.4 L292.4,449.7 L291.6,443.0 L290.7,435.0 L289.7,424.7 L288.5,411.9 L287.2,397.6 L285.9,382.6 L284.6,368.0 L283.5,354.6 L282.5,343.4 L281.8,335.3" stroke="#1a1a1a" stroke-opacity="0.6" stroke-width="0.65" fill="none"/>
<path d="M242.9,398.3 L242.4,398.7 L242.1,399.2 L241.7,400.0 L241.4,401.0 L241.1,402.0 L240.8,403.0 L240.6,404.0 L240.3,405.0 L240.0,405.9 L239.8,406.7 L239.6,407.6 L239.4,408.5 L239.2,409.4 L239.0,410.5 L238.8,411.7 L238.6,413.0 L238.4,414.5 L238.2,416.3 L238.0,418.1 L237.9,420.1 L237.7,422.1 L237.5,424.1 L237.4,426.1 L237.3,428.0 L237.2,429.8 L237.1,431.6 L237.1,433.4 L237.0,435.2 L237.0,436.9 L237.0,438.7 L237.0,440.5 L237.0,442.4 L237.1,444.3 L237.1,446.3 L237.2,448.3 L237.4,450.4 L237.5,452.4 L237.7,454.3 L237.8,456.2 L238.0,458.0 L238.2,459.6 L238.3,461.1 L238.5,462.6 L238.7,463.9 L238.9,465.3 L239.2,466.7 L239.5,468.2 L239.8,469.8 L240.2,471.6 L240.6,473.4 L241.1,475.4 L241.7,477.4 L242.2,479.4 L242.7,481.3 L243.2,483.2 L243.7,485.0 L244.1,486.6 L244.5,488.1 L244.9,489.5 L245.3,490.9 L245.6,492.2 L246.0,493.7 L246.5,495.3 L247.0,497.0 L247.6,498.9 L248.1,501.0 L248.8,503.1 L249.4,505.3 L250.1,507.6 L250.8,509.9 L251.6,512.3 L252.4,514.6 L253.2,516.9 L254.1,519.3 L255.1,521.8 L256.0,524.2 L257.0,526.7 L258.1,529.2 L259.1,531.6 L260.2,534.1 L261.3,536.6 L262.6,539.2 L263.8,541.8 L265.1,544.4 L266.4,546.9 L267.7,549.4 L268.9,551.6 L270.0,553.7 L271.1,555.6 L272.1,557.2 L273.1,558.8 L274.0,560.2 L275.0,561.5 L275.9,562.8 L276.7,564.0 L277.6,565.3 L278.4,566.5 L279.1,567.7 L279.8,568.7 L280.5,569.8 L281.1,570.8 L281.9,571.9 L282.6,573.0 L283.5,574.1 L284.5,575.3 L285.5,576.5 L286.6,577.8 L287.7,579.1 L288.9,580.4 L290.0,581.7 L291.2,583.0 L292.3,584.3 L293.4,585.6 L294.5,586.9 L295.6,588.2 L296.7,589.4 L297.8,590.7 L298.9,592.0 L300.0,593.3 L301.1,594.6 L302.2,595.9 L303.3,597.2 L304.5,598.6 L305.6,599.9 L306.7,601.2 L307.8,602.5 L308.9,603.7 L309.9,604.9 L310.9,606.0 L311.9,607.1 L312.8,608.2 L313.7,609.2 L314.6,610.2 L315.5,611.1 L316.3,612.0 L317.2,612.9 L318.0,613.7 L318.9,614.5 L319.7,615.2 L320.5,615.9 L321.2,616.5 L322.0,617.2 L322.8,617.8 L323.5,618.5 L324.2,619.2 L325.0,619.8 L325.7,620.5 L326.5,621.1 L327.2,621.8 L327.8,622.4 L328.4,623.0 L329.0,623.5 L329.5,624.0 L329.9,624.5 L330.3,624.9 L330.7,625.4 L331.0,625.8 L331.3,626.1 L331.6,626.5 L332.0,626.8 L332.4,627.1 L332.8,627.4 L333.1,627.7 L333.5,627.9 L333.9,628.1 L334.3,628.2 L334.6,628.3 L335.0,628.3 L335.4,628.2 L335.7,628.0 L336.1,627.7 L336.5,627.4 L336.8,627.0 L337.1,626.6 L337.4,626.2 L337.6,625.8 L337.7,625.4 L337.9,625.0 L337.9,624.6 L338.0,624.1 L337.9,623.7 L337.9,623.2 L337.8,622.7 L337.6,622.2 L337.4,621.7 L337.0,621.1 L336.7,620.6 L336.3,620.0 L335.8,619.4 L335.4,618.8 L335.0,618.1 L334.6,617.5 L334.3,616.9 L334.0,616.2 L333.6,615.5 L333.4,614.8 L333.1,614.1 L332.8,613.4 L332.5,612.7 L332.2,612.0 L331.9,611.3 L331.7,610.7 L331.4,610.0 L331.2,609.3 L330.9,608.7 L330.6,608.0 L330.3,607.2 L330.0,606.4 L329.6,605.5 L329.2,604.6 L328.8,603.6 L328.4,602.6 L327.9,601.6 L327.4,600.5 L326.9,599.5 L326.4,598.5 L325.8,597.5 L325.2,596.5 L324.6,595.6 L324.0,594.6 L323.3,593.6 L322.7,592.7 L322.1,591.7 L321.5,590.7 L321.0,589.7 L320.5,588.7 L320.0,587.7 L319.5,586.8 L319.1,585.8 L318.6,584.8 L318.1,583.8 L317.5,582.8 L316.9,581.8 L316.2,580.9 L315.5,579.9 L314.8,578.9 L314.1,578.0 L313.4,577.0 L312.8,576.0 L312.2,575.0 L311.7,574.0 L311.2,573.0 L310.8,572.1 L310.3,571.1 L309.9,570.1 L309.5,569.0 L309.0,567.9 L308.4,566.7 L307.8,565.4 L307.0,564.0 L306.3,562.5 L305.5,561.0 L304.7,559.5 L303.9,558.0 L303.2,556.5 L302.5,555.0 L301.9,553.7 L301.4,552.6 L301.0,551.5 L300.6,550.4 L300.2,549.2 L299.7,547.8 L299.2,546.1 L298.5,544.0 L297.7,541.5 L296.9,538.6 L296.0,535.5 L295.0,532.1 L294.0,528.6 L293.0,525.1 L292.0,521.5 L291.0,518.0 L290.0,514.5 L289.0,511.0 L288.0,507.4 L286.9,503.8 L285.9,500.1 L284.8,496.4 L283.8,492.6 L282.7,488.8 L281.6,484.9 L280.5,480.8 L279.4,476.6 L278.2,472.5 L277.1,468.3 L276.0,464.3 L275.0,460.5 L274.0,457.0 L273.1,453.7 L272.2,450.7 L271.4,447.8 L270.6,445.0 L269.9,442.4 L269.1,439.8 L268.3,437.4 L267.5,435.0 L266.6,432.7 L265.8,430.5 L264.9,428.4 L264.0,426.4 L263.1,424.4 L262.3,422.6 L261.4,420.8 L260.5,419.0 L259.6,417.3 L258.7,415.6 L257.8,413.9 L256.9,412.3 L256.0,410.8 L255.1,409.4 L254.3,408.2 L253.5,407.0 L252.7,406.0 L252.0,405.1 L251.3,404.4 L250.6,403.7 L250.0,403.1 L249.3,402.6 L248.7,402.0 L248.0,401.5 L247.3,400.9 L246.6,400.3 L245.9,399.7 L245.3,399.1 L244.6,398.7 L244.0,398.4 L243.4,398.2 L242.9,398.3" stroke="#1a1a1a" stroke-opacity="0.6" stroke-width="0.65" fill="none"/>
<path d="M282.9,546.3 L282.6,546.8 L282.3,547.5 L282.0,548.4 L281.7,549.3 L281.4,550.4 L281.2,551.5 L281.0,552.6 L280.9,553.7 L280.8,554.8 L280.8,555.9 L280.9,557.1 L281.0,558.2 L281.1,559.5 L281.2,560.7 L281.4,561.8 L281.6,563.0 L281.8,564.2 L282.0,565.3 L282.3,566.5 L282.6,567.6 L282.9,568.8 L283.3,569.9 L283.6,571.0 L284.0,572.0 L284.4,572.9 L284.8,573.8 L285.2,574.6 L285.7,575.4 L286.1,576.2 L286.7,577.0 L287.2,578.0 L287.9,579.0 L288.7,580.2 L289.5,581.5 L290.5,583.0 L291.4,584.4 L292.4,585.9 L293.4,587.3 L294.2,588.6 L295.0,589.7 L295.6,590.7 L296.2,591.5 L296.6,592.2 L297.0,592.9 L297.4,593.5 L297.9,594.2 L298.3,594.8 L298.9,595.6 L299.5,596.4 L300.2,597.3 L300.9,598.2 L301.7,599.1 L302.4,599.9 L303.2,600.8 L304.0,601.7 L304.8,602.5 L305.6,603.3 L306.5,604.0 L307.4,604.8 L308.3,605.5 L309.1,606.2 L310.0,606.9 L310.9,607.6 L311.7,608.3 L312.5,609.0 L313.2,609.8 L313.9,610.5 L314.6,611.3 L315.3,612.0 L316.0,612.8 L316.7,613.5 L317.5,614.2 L318.3,614.9 L319.1,615.6 L319.9,616.3 L320.8,616.9 L321.6,617.6 L322.4,618.2 L323.2,618.9 L324.0,619.5 L324.8,620.1 L325.5,620.7 L326.3,621.4 L327.0,622.0 L327.7,622.5 L328.4,623.1 L329.0,623.6 L329.5,624.0 L330.0,624.4 L330.3,624.7 L330.6,625.0 L330.9,625.2 L331.1,625.4 L331.4,625.6 L331.7,625.8 L332.0,626.0 L332.4,626.2 L332.8,626.4 L333.2,626.5 L333.7,626.7 L334.1,626.8 L334.5,626.9 L334.9,626.9 L335.2,626.8 L335.4,626.6 L335.7,626.4 L335.9,626.1 L336.0,625.7 L336.1,625.3 L336.2,624.9 L336.2,624.4 L336.2,624.0 L336.1,623.6 L336.0,623.1 L335.8,622.6 L335.6,622.1 L335.4,621.6 L335.1,621.1 L334.8,620.6 L334.5,620.0 L334.2,619.4 L333.8,618.8 L333.4,618.2 L332.9,617.6 L332.5,617.0 L332.0,616.3 L331.6,615.7 L331.2,615.0 L330.8,614.3 L330.4,613.6 L330.0,612.9 L329.7,612.1 L329.3,611.4 L328.9,610.7 L328.6,610.0 L328.3,609.3 L328.0,608.7 L327.8,608.1 L327.6,607.5 L327.5,606.9 L327.3,606.3 L327.1,605.7 L326.8,605.1 L326.4,604.4 L325.9,603.6 L325.4,602.8 L324.8,602.0 L324.1,601.1 L323.5,600.2 L322.8,599.3 L322.1,598.4 L321.5,597.5 L320.9,596.6 L320.3,595.6 L319.7,594.7 L319.1,593.7 L318.4,592.7 L317.8,591.7 L317.2,590.7 L316.6,589.7 L316.0,588.6 L315.4,587.5 L314.8,586.3 L314.2,585.1 L313.6,584.0 L313.0,582.9 L312.4,581.8 L311.7,580.9 L311.0,580.1 L310.3,579.3 L309.5,578.6 L308.7,578.0 L307.9,577.4 L307.2,576.8 L306.5,576.2 L305.8,575.5 L305.2,574.8 L304.6,574.2 L304.1,573.5 L303.5,572.9 L303.0,572.2 L302.5,571.5 L302.0,570.8 L301.5,570.0 L301.0,569.2 L300.5,568.3 L299.9,567.5 L299.4,566.6 L298.9,565.6 L298.4,564.7 L297.9,563.9 L297.4,563.0 L296.9,562.2 L296.5,561.3 L296.0,560.5 L295.6,559.6 L295.2,558.8 L294.7,558.0 L294.2,557.3 L293.7,556.6 L293.1,556.0 L292.5,555.4 L291.8,554.9 L291.1,554.3 L290.4,553.9 L289.8,553.4 L289.2,552.8 L288.6,552.3 L288.1,551.7 L287.7,551.1 L287.3,550.4 L286.9,549.7 L286.5,549.1 L286.2,548.5 L285.8,547.9 L285.5,547.5 L285.1,547.1 L284.8,546.7 L284.5,546.4 L284.1,546.1 L283.8,546.0 L283.5,545.9 L283.2,546.0 L282.9,546.3" stroke="#1a1a1a" stroke-opacity="0.6" stroke-width="0.65" fill="none"/>
<path d="M302.8,583.3 L302.6,583.6 L302.4,583.9 L302.1,584.4 L301.9,585.0 L301.7,585.6 L301.6,586.3 L301.5,587.0 L301.4,587.7 L301.4,588.5 L301.4,589.3 L301.4,590.2 L301.5,591.1 L301.7,592.0 L301.9,593.0 L302.1,593.8 L302.4,594.6 L302.8,595.3 L303.2,596.0 L303.8,596.6 L304.4,597.2 L305.0,597.8 L305.6,598.3 L306.2,598.9 L306.8,599.5 L307.4,600.1 L308.0,600.7 L308.6,601.3 L309.2,602.0 L309.8,602.6 L310.4,603.2 L311.0,603.8 L311.7,604.4 L312.4,605.0 L313.1,605.6 L313.9,606.2 L314.7,606.8 L315.4,607.5 L316.2,608.1 L316.9,608.7 L317.5,609.3 L318.1,609.9 L318.6,610.5 L319.1,611.1 L319.6,611.7 L320.0,612.3 L320.5,612.9 L321.0,613.6 L321.5,614.2 L322.0,614.8 L322.6,615.5 L323.2,616.2 L323.7,616.9 L324.3,617.6 L324.9,618.2 L325.4,618.9 L326.0,619.5 L326.6,620.1 L327.2,620.8 L327.8,621.4 L328.4,622.0 L329.0,622.6 L329.6,623.1 L330.1,623.6 L330.5,624.0 L330.8,624.3 L331.1,624.5 L331.2,624.7 L331.4,624.8 L331.5,624.9 L331.6,625.0 L331.8,625.1 L332.0,625.2 L332.3,625.3 L332.6,625.5 L332.9,625.7 L333.2,625.8 L333.5,625.9 L333.8,626.0 L334.1,626.0 L334.3,626.0 L334.5,625.9 L334.6,625.7 L334.7,625.4 L334.8,625.2 L334.9,624.8 L334.9,624.5 L334.9,624.1 L334.8,623.8 L334.7,623.4 L334.5,623.1 L334.3,622.7 L334.1,622.2 L333.8,621.8 L333.5,621.4 L333.2,620.9 L332.8,620.5 L332.4,620.1 L332.0,619.7 L331.5,619.2 L331.0,618.8 L330.4,618.4 L329.9,617.9 L329.4,617.5 L329.0,617.0 L328.6,616.5 L328.2,615.9 L327.8,615.4 L327.4,614.8 L327.0,614.2 L326.6,613.6 L326.3,613.1 L326.0,612.5 L325.7,612.0 L325.6,611.4 L325.4,610.9 L325.3,610.4 L325.1,609.9 L324.9,609.4 L324.7,608.9 L324.4,608.3 L324.0,607.7 L323.6,607.1 L323.1,606.5 L322.6,605.9 L322.1,605.3 L321.5,604.6 L321.0,604.0 L320.5,603.4 L320.0,602.8 L319.5,602.2 L319.0,601.6 L318.6,601.0 L318.1,600.3 L317.6,599.7 L317.1,599.1 L316.6,598.5 L316.1,597.9 L315.6,597.3 L315.1,596.6 L314.7,596.0 L314.2,595.4 L313.7,594.8 L313.1,594.2 L312.6,593.6 L312.0,593.1 L311.4,592.6 L310.7,592.1 L310.1,591.7 L309.4,591.2 L308.8,590.7 L308.2,590.2 L307.7,589.7 L307.2,589.1 L306.8,588.5 L306.4,587.8 L306.1,587.1 L305.7,586.4 L305.4,585.8 L305.1,585.3 L304.8,584.8 L304.5,584.4 L304.2,584.0 L304.0,583.7 L303.7,583.5 L303.5,583.3 L303.2,583.2 L303.0,583.2 L302.8,583.3" stroke="#1a1a1a" stroke-opacity="0.6" stroke-width="0.65" fill="none"/>
<path d="M321.5,609.0 L321.6,608.7 L321.8,608.5 L322.0,608.4 L322.2,608.4 L322.4,608.5 L322.6,608.6 L322.8,608.8 L323.0,609.0 L323.2,609.3 L323.4,609.7 L323.6,610.1 L323.8,610.5 L324.0,611.0 L324.1,611.5 L324.3,612.1 L324.5,612.7 L324.6,613.3 L324.6,613.8 L324.6,614.3 L324.5,614.8 L324.4,615.2 L324.3,615.7 L324.2,616.0 L324.0,616.2 L323.8,616.3 L323.6,616.3 L323.3,616.2 L323.1,616.1 L322.8,615.9 L322.6,615.6 L322.4,615.3 L322.2,614.9 L322.0,614.4 L321.9,613.9 L321.7,613.4 L321.6,612.8 L321.5,612.2 L321.5,611.5 L321.4,610.8 L321.4,610.1 L321.4,609.4 L321.5,609.0" stroke="#1a1a1a" stroke-opacity="0.6" stroke-width="0.65" fill="none"/>
<path d="M331.8,620.0 L332.0,619.9 L332.2,619.8 L332.5,619.8 L332.7,619.9 L333.0,620.0 L333.2,620.2 L333.4,620.5 L333.6,620.8 L333.8,621.2 L334.0,621.6 L334.1,622.0 L334.2,622.5 L334.3,623.0 L334.3,623.6 L334.4,624.3 L334.3,624.9 L334.3,625.4 L334.2,625.8 L334.0,626.1 L333.8,626.3 L333.6,626.4 L333.3,626.5 L333.0,626.5 L332.8,626.4 L332.6,626.2 L332.4,626.0 L332.2,625.6 L332.1,625.3 L331.9,624.9 L331.8,624.5 L331.7,624.1 L331.6,623.7 L331.6,623.3 L331.5,622.8 L331.5,622.4 L331.5,622.0 L331.5,621.6 L331.5,621.2 L331.5,620.8 L331.6,620.5 L331.7,620.2 L331.8,620.0" stroke="#1a1a1a" stroke-opacity="0.6" stroke-width="0.65" fill="none"/>
<path d="M312.9,602.9 L312.9,602.8 L313.1,602.7 L313.2,602.6 L313.3,602.6 L313.5,602.6 L313.6,602.6 L313.7,602.7 L313.8,602.8 L313.9,603.0 L314.0,603.1 L314.1,603.3 L314.1,603.4 L314.1,603.5 L313.9,603.6 L313.8,603.8 L313.7,603.9 L313.5,603.9 L313.4,603.9 L313.3,603.8 L313.2,603.7 L313.1,603.5 L313.0,603.2 L312.9,603.0 L312.9,602.9" stroke="#1a1a1a" stroke-opacity="0.6" stroke-width="0.65" fill="none"/>
<path d="M335.5,634.6 L335.6,634.4 L335.8,634.3 L336.2,634.2 L336.6,634.1 L337.0,634.0 L337.5,634.0 L338.0,634.0 L338.6,634.0 L339.2,634.0 L339.9,634.0 L340.5,634.1 L341.0,634.2 L341.5,634.3 L342.0,634.5 L342.4,634.6 L342.8,634.8 L343.1,635.0 L343.2,635.2 L343.2,635.4 L343.0,635.6 L342.7,635.9 L342.4,636.1 L342.0,636.3 L341.5,636.4 L340.9,636.5 L340.3,636.6 L339.5,636.6 L338.8,636.6 L338.1,636.5 L337.5,636.4 L337.0,636.2 L336.5,635.9 L336.1,635.5 L335.8,635.2 L335.6,634.9 L335.5,634.6" stroke="#1a1a1a" stroke-opacity="0.6" stroke-width="0.65" fill="none"/></g>
<path d="M27.9,342.6 L28.5,342.6 L29.3,342.6 L30.2,342.7 L31.2,342.7 L32.3,342.7 L33.5,342.8 L34.6,342.9 L35.8,343.0 L36.9,343.1 L38.1,343.3 L39.3,343.4 L40.5,343.6 L41.8,343.8 L43.1,344.0 L44.5,344.3 L46.0,344.6 L47.6,344.9 L49.2,345.3 L50.9,345.7 L52.7,346.1 L54.5,346.5 L56.3,347.0 L58.0,347.5 L59.7,348.1 L61.3,348.7 L62.9,349.4 L64.5,350.1 L66.1,350.8 L67.6,351.6 L69.2,352.4 L70.7,353.2 L72.3,354.1 L73.9,355.0 L75.4,355.9 L77.0,356.9 L78.6,357.9 L80.1,358.9 L81.7,359.9 L83.2,361.0 L84.7,362.1 L86.2,363.2 L87.7,364.4 L89.2,365.6 L90.7,366.8 L92.2,368.0 L93.6,369.2 L95.0,370.4 L96.4,371.6 L97.7,372.8 L99.0,373.9 L100.2,375.1 L101.4,376.2 L102.6,377.4 L103.8,378.6 L105.0,379.8 L106.2,381.0 L107.4,382.2 L108.7,383.5 L110.0,384.8 L111.2,386.1 L112.5,387.4 L113.7,388.7 L115.0,390.0 L116.2,391.3 L117.4,392.6 L118.6,393.9 L119.8,395.1 L121.0,396.4 L122.2,397.7 L123.4,399.0 L124.6,400.3 L125.8,401.6 L127.0,402.9 L128.1,404.2 L129.3,405.6 L130.4,406.9 L131.6,408.3 L132.7,409.6 L133.8,411.0 L135.0,412.3 L136.2,413.6 L137.3,415.0 L138.5,416.3 L139.7,417.6 L140.9,418.9 L142.0,420.3 L143.2,421.6 L144.3,423.0 L145.4,424.4 L146.5,425.9 L147.5,427.3 L148.6,428.8 L149.6,430.3 L150.6,431.7 L151.7,433.2 L152.8,434.6 L153.9,436.0 L155.1,437.4 L156.2,438.7 L157.4,440.1 L158.6,441.5 L159.7,442.8 L160.9,444.2 L162.0,445.6 L163.1,447.0 L164.2,448.5 L165.3,450.0 L166.3,451.5 L167.4,453.0 L168.5,454.4 L169.5,455.9 L170.6,457.3 L171.7,458.7 L172.7,460.0 L173.8,461.3 L174.8,462.6 L175.9,463.8 L176.9,465.1 L177.9,466.4 L179.0,467.8 L180.1,469.2 L181.1,470.6 L182.2,472.1 L183.2,473.6 L184.3,475.1 L185.3,476.5 L186.4,478.0 L187.5,479.5 L188.6,481.0 L189.7,482.5 L190.8,484.0 L192.0,485.5 L193.1,487.0 L194.3,488.5 L195.4,489.9 L196.5,491.3 L197.6,492.6 L198.7,493.9 L199.8,495.1 L200.9,496.3 L202.0,497.5 L203.1,498.8 L204.2,500.0 L205.3,501.3 L206.4,502.7 L207.5,504.0 L208.6,505.5 L209.8,506.9 L210.9,508.3 L212.0,509.8 L213.1,511.2 L214.2,512.6 L215.3,514.0 L216.4,515.4 L217.5,516.7 L218.6,518.1 L219.7,519.4 L220.8,520.8 L221.9,522.1 L223.0,523.5 L224.1,524.9 L225.2,526.2 L226.2,527.6 L227.3,528.9 L228.4,530.3 L229.4,531.6 L230.5,533.0 L231.6,534.3 L232.7,535.6 L233.8,537.0 L234.8,538.3 L235.9,539.6 L237.0,541.0 L238.1,542.3 L239.2,543.6 L240.3,545.0 L241.4,546.4 L242.5,547.7 L243.7,549.1 L244.8,550.5 L245.9,551.9 L247.1,553.3 L248.3,554.7 L249.5,556.1 L250.8,557.5 L252.0,559.0 L253.4,560.5 L254.7,562.0 L256.0,563.4 L257.4,564.9 L258.7,566.4 L260.0,567.8 L261.3,569.2 L262.5,570.6 L263.8,572.0 L265.0,573.4 L266.2,574.7 L267.5,576.1 L268.7,577.5 L270.0,578.8 L271.3,580.2 L272.6,581.5 L274.0,582.9 L275.3,584.2 L276.6,585.5 L278.0,586.8 L279.3,588.1 L280.5,589.3 L281.7,590.4 L282.9,591.5 L284.0,592.6 L285.1,593.6 L286.2,594.6 L287.3,595.6 L288.4,596.6 L289.6,597.6 L290.8,598.7 L292.0,599.7 L293.1,600.8 L294.3,601.8 L295.6,602.9 L296.8,604.0 L298.1,605.0 L299.5,606.1 L300.9,607.2 L302.5,608.3 L304.0,609.4 L305.6,610.5 L307.2,611.6 L308.8,612.6 L310.4,613.7 L312.0,614.8 L313.5,615.9 L315.0,616.9 L316.5,617.9 L318.0,619.0 L319.5,620.0 L321.0,621.0 L322.5,622.0 L324.0,623.1 L325.5,624.2 L327.0,625.3 L328.5,626.4 L330.0,627.5 L331.5,628.6 L332.9,629.7 L334.4,630.8 L335.8,631.8 L337.3,632.9 L338.8,634.0 L340.4,635.1 L341.9,636.2 L343.4,637.2 L344.7,638.1 L345.8,638.9 L346.6,639.5" fill="none" stroke="#800080" stroke-width="3.3" stroke-dasharray="9.4,4.8"/>
<path d="M29.60,644.7v-3.3M29.60,329.5v3.3M39.67,644.7v-2.0M39.67,329.5v2.0M49.74,644.7v-2.0M49.74,329.5v2.0M59.81,644.7v-2.0M59.81,329.5v2.0M69.89,644.7v-3.3M69.89,329.5v3.3M79.96,644.7v-2.0M79.96,329.5v2.0M90.03,644.7v-2.0M90.03,329.5v2.0M100.10,644.7v-2.0M100.10,329.5v2.0M110.17,644.7v-3.3M110.17,329.5v3.3M120.24,644.7v-2.0M120.24,329.5v2.0M130.31,644.7v-2.0M130.31,329.5v2.0M140.38,644.7v-2.0M140.38,329.5v2.0M150.46,644.7v-3.3M150.46,329.5v3.3M160.53,644.7v-2.0M160.53,329.5v2.0M170.60,644.7v-2.0M170.60,329.5v2.0M180.67,644.7v-2.0M180.67,329.5v2.0M190.74,644.7v-3.3M190.74,329.5v3.3M200.81,644.7v-2.0M200.81,329.5v2.0M210.88,644.7v-2.0M210.88,329.5v2.0M220.96,644.7v-2.0M220.96,329.5v2.0M231.03,644.7v-3.3M231.03,329.5v3.3M241.10,644.7v-2.0M241.10,329.5v2.0M251.17,644.7v-2.0M251.17,329.5v2.0M261.24,644.7v-2.0M261.24,329.5v2.0M271.31,644.7v-3.3M271.31,329.5v3.3M281.38,644.7v-2.0M281.38,329.5v2.0M291.45,644.7v-2.0M291.45,329.5v2.0M301.53,644.7v-2.0M301.53,329.5v2.0M311.60,644.7v-3.3M311.60,329.5v3.3M321.67,644.7v-2.0M321.67,329.5v2.0M331.74,644.7v-2.0M331.74,329.5v2.0M341.81,644.7v-2.0M341.81,329.5v2.0M29.6,638.80h3.3M346.0,638.80h-3.3M29.6,623.62h2.0M346.0,623.62h-2.0M29.6,608.45h2.0M346.0,608.45h-2.0M29.6,593.27h2.0M346.0,593.27h-2.0M29.6,578.10h3.3M346.0,578.10h-3.3M29.6,562.92h2.0M346.0,562.92h-2.0M29.6,547.75h2.0M346.0,547.75h-2.0M29.6,532.57h2.0M346.0,532.57h-2.0M29.6,517.40h3.3M346.0,517.40h-3.3M29.6,502.22h2.0M346.0,502.22h-2.0M29.6,487.05h2.0M346.0,487.05h-2.0M29.6,471.88h2.0M346.0,471.88h-2.0M29.6,456.70h3.3M346.0,456.70h-3.3M29.6,441.52h2.0M346.0,441.52h-2.0M29.6,426.35h2.0M346.0,426.35h-2.0M29.6,411.18h2.0M346.0,411.18h-2.0M29.6,396.00h3.3M346.0,396.00h-3.3M29.6,380.82h2.0M346.0,380.82h-2.0M29.6,365.65h2.0M346.0,365.65h-2.0M29.6,350.48h2.0M346.0,350.48h-2.0M29.6,335.30h3.3M346.0,335.30h-3.3" stroke="#000" stroke-width="0.9" fill="none"/>
<rect x="29.6" y="329.5" width="316.4" height="315.20000000000005" fill="none" stroke="#000" stroke-width="1.5"/>
<rect x="366.1" y="57.20" width="9.9" height="28.40" fill="#D95E30"/>
<rect x="366.1" y="85.30" width="9.9" height="28.40" fill="#EEC16D"/>
<rect x="366.1" y="113.40" width="9.9" height="28.40" fill="#FBEEA5"/>
<rect x="366.1" y="141.50" width="9.9" height="28.40" fill="#F4FCE0"/>
<rect x="366.1" y="169.60" width="9.9" height="28.40" fill="#C4F0F9"/>
<rect x="366.1" y="197.70" width="9.9" height="28.40" fill="#8CCBF6"/>
<rect x="366.1" y="225.80" width="9.9" height="28.40" fill="#5085ED"/>
<rect x="366.1" y="253.90" width="9.9" height="28.40" fill="#2C48EC"/>
<path d="M366.1,85.30h12.4" stroke="#000" stroke-opacity="0.35" stroke-width="0.5"/>
<path d="M366.1,113.40h12.4" stroke="#000" stroke-opacity="0.35" stroke-width="0.5"/>
<path d="M366.1,141.50h12.4" stroke="#000" stroke-opacity="0.35" stroke-width="0.5"/>
<path d="M366.1,169.60h12.4" stroke="#000" stroke-opacity="0.35" stroke-width="0.5"/>
<path d="M366.1,197.70h12.4" stroke="#000" stroke-opacity="0.35" stroke-width="0.5"/>
<path d="M366.1,225.80h12.4" stroke="#000" stroke-opacity="0.35" stroke-width="0.5"/>
<path d="M366.1,253.90h12.4" stroke="#000" stroke-opacity="0.35" stroke-width="0.5"/>
<rect x="359.1" y="398.20" width="10.2" height="25.30" fill="#D95E30"/>
<rect x="359.1" y="423.20" width="10.2" height="25.30" fill="#EEC16D"/>
<rect x="359.1" y="448.20" width="10.2" height="25.30" fill="#FAEAA0"/>
<rect x="359.1" y="473.20" width="10.2" height="25.30" fill="#FEFAD2"/>
<rect x="359.1" y="498.20" width="10.2" height="25.30" fill="#DEFAFA"/>
<rect x="359.1" y="523.20" width="10.2" height="25.30" fill="#B2E6F7"/>
<rect x="359.1" y="548.20" width="10.2" height="25.30" fill="#82B9F5"/>
<rect x="359.1" y="573.20" width="10.2" height="25.30" fill="#4B7DEB"/>
<rect x="359.1" y="598.20" width="10.2" height="25.30" fill="#2D46EB"/>
<path d="M359.1,423.20h12.7" stroke="#000" stroke-opacity="0.35" stroke-width="0.5"/>
<path d="M359.1,448.20h12.7" stroke="#000" stroke-opacity="0.35" stroke-width="0.5"/>
<path d="M359.1,473.20h12.7" stroke="#000" stroke-opacity="0.35" stroke-width="0.5"/>
<path d="M359.1,498.20h12.7" stroke="#000" stroke-opacity="0.35" stroke-width="0.5"/>
<path d="M359.1,523.20h12.7" stroke="#000" stroke-opacity="0.35" stroke-width="0.5"/>
<path d="M359.1,548.20h12.7" stroke="#000" stroke-opacity="0.35" stroke-width="0.5"/>
<path d="M359.1,573.20h12.7" stroke="#000" stroke-opacity="0.35" stroke-width="0.5"/>
<path d="M359.1,598.20h12.7" stroke="#000" stroke-opacity="0.35" stroke-width="0.5"/>
<defs><filter id="gs" x="-5%" y="-5%" width="110%" height="110%"><feOffset dx="0" dy="0"/></filter></defs>
<g filter="url(#gs)">
<text x="27.5" y="317.5" text-anchor="end" class="t">0</text>
<text x="27.5" y="256.8" text-anchor="end" class="t">2</text>
<text x="27.5" y="196.1" text-anchor="end" class="t">4</text>
<text x="27.5" y="135.4" text-anchor="end" class="t">6</text>
<text x="27.5" y="74.7" text-anchor="end" class="t">8</text>
<text x="27.5" y="14.0" text-anchor="end" class="t">10</text>
<text x="27.5" y="643.6" text-anchor="end" class="t">0</text>
<text x="27.5" y="582.9" text-anchor="end" class="t">2</text>
<text x="27.5" y="522.2" text-anchor="end" class="t">4</text>
<text x="27.5" y="461.5" text-anchor="end" class="t">6</text>
<text x="27.5" y="400.8" text-anchor="end" class="t">8</text>
<text x="27.5" y="340.1" text-anchor="end" class="t">10</text>
<text x="29.6" y="659.3" text-anchor="middle" class="t">0.0</text>
<text x="69.9" y="659.3" text-anchor="middle" class="t">0.2</text>
<text x="110.2" y="659.3" text-anchor="middle" class="t">0.4</text>
<text x="150.5" y="659.3" text-anchor="middle" class="t">0.6</text>
<text x="190.7" y="659.3" text-anchor="middle" class="t">0.8</text>
<text x="231.0" y="659.3" text-anchor="middle" class="t">1.0</text>
<text x="271.3" y="659.3" text-anchor="middle" class="t">1.2</text>
<text x="311.6" y="659.3" text-anchor="middle" class="t">1.4</text>
<text x="1" y="167" class="g">κ</text>
<text x="1" y="493.3" class="g">κ</text>
<text x="183.8" y="682.1" class="g">φ</text>
<text x="375" y="43" class="g">θ</text>
<text x="369.2" y="386" class="r">R</text>
<text x="381.2" y="90.3" class="t">1.4</text>
<text x="381.2" y="118.4" class="t">1.2</text>
<text x="381.2" y="146.5" class="t">1.0</text>
<text x="381.2" y="174.6" class="t">0.8</text>
<text x="381.2" y="202.7" class="t">0.6</text>
<text x="381.2" y="230.8" class="t">0.4</text>
<text x="381.2" y="258.9" class="t">0.2</text>
<text x="374.4" y="427.7" class="t">1.9</text>
<text x="374.4" y="452.7" class="t">1.8</text>
<text x="374.4" y="477.7" class="t">1.7</text>
<text x="374.4" y="502.7" class="t">1.6</text>
<text x="374.4" y="527.7" class="t">1.5</text>
<text x="374.4" y="552.7" class="t">1.4</text>
<text x="374.4" y="577.7" class="t">1.3</text>
<text x="374.4" y="602.7" class="t">1.2</text>
</g>
</svg>
</body></html>
